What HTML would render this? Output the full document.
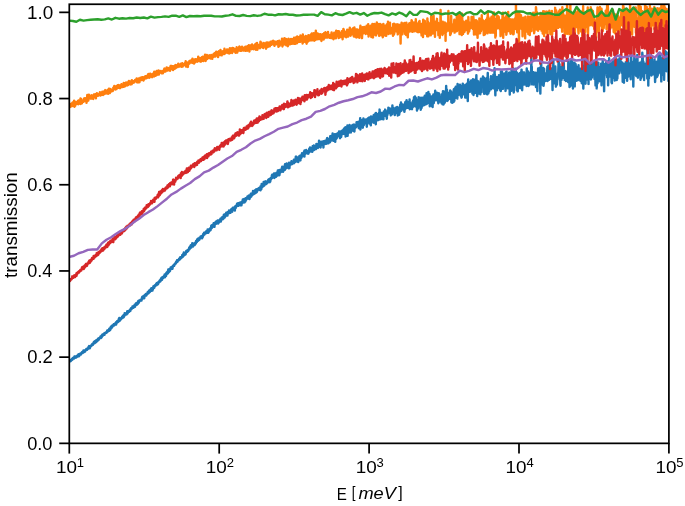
<!DOCTYPE html>
<html><head><meta charset="utf-8"><style>
html,body{margin:0;padding:0;background:#fff;}
body{width:685px;height:506px;overflow:hidden;}
svg{display:block;}
text{font-family:"Liberation Sans",sans-serif;fill:#000;}
svg{will-change:transform;}
.tl{font-size:17.5px;}
.sup{font-size:12px;}
.lb{font-size:17.5px;}
</style></head><body>
<svg width="685" height="506" viewBox="0 0 685 506">
<rect width="685" height="506" fill="#fff"/>
<defs><clipPath id="ax"><rect x="69.3" y="4.25" width="599.6" height="439.1"/></clipPath></defs>
<g clip-path="url(#ax)" fill="none" stroke-width="2.43" stroke-linejoin="round" stroke-linecap="square">
<path d="M69.30 361.20 L69.50 361.26 L69.70 360.80 L69.90 360.31 L70.10 360.45 L70.30 360.01 L70.50 360.53 L70.70 361.18 L70.90 359.95 L71.10 359.75 L71.30 360.30 L71.50 360.10 L71.70 359.82 L71.90 359.07 L72.10 359.50 L72.30 359.81 L72.50 358.45 L72.70 358.86 L72.90 357.86 L73.10 358.11 L73.30 357.64 L73.50 358.50 L73.70 357.74 L73.90 358.55 L74.10 358.35 L74.30 358.01 L74.50 356.46 L74.70 357.54 L74.90 357.71 L75.10 357.68 L75.30 356.54 L75.50 357.06 L75.70 356.62 L75.90 356.59 L76.10 357.61 L76.30 356.33 L76.50 356.67 L76.70 357.10 L76.90 356.06 L77.10 356.22 L77.30 356.22 L77.50 356.06 L77.70 355.13 L77.90 355.80 L78.10 356.45 L78.30 354.52 L78.50 355.87 L78.70 355.28 L78.90 354.67 L79.10 356.17 L79.30 355.26 L79.50 353.90 L79.70 354.56 L79.90 354.73 L80.10 354.12 L80.30 354.52 L80.50 353.91 L80.70 354.23 L80.90 354.57 L81.10 353.10 L81.30 353.51 L81.50 352.95 L81.70 353.18 L81.90 352.21 L82.10 352.45 L82.30 352.54 L82.50 353.08 L82.70 353.09 L82.90 351.39 L83.10 351.58 L83.30 352.34 L83.50 350.53 L83.70 351.34 L83.90 351.42 L84.10 352.13 L84.29 351.62 L84.49 350.83 L84.69 350.65 L84.89 350.57 L85.09 351.55 L85.29 350.16 L85.49 350.08 L85.69 350.34 L85.89 349.89 L86.09 349.69 L86.29 348.95 L86.49 349.49 L86.69 349.06 L86.89 349.93 L87.09 349.45 L87.29 348.86 L87.49 349.14 L87.69 348.34 L87.89 349.07 L88.09 348.24 L88.29 348.46 L88.49 347.09 L88.69 347.98 L88.89 346.52 L89.09 346.13 L89.29 347.08 L89.49 346.54 L89.69 347.06 L89.89 348.23 L90.09 346.09 L90.29 346.06 L90.49 346.43 L90.69 346.44 L90.89 345.84 L91.09 345.66 L91.29 346.07 L91.49 345.78 L91.69 344.61 L91.89 345.05 L92.09 344.95 L92.29 344.07 L92.49 344.75 L92.69 343.85 L92.89 344.86 L93.09 344.18 L93.29 343.93 L93.49 343.31 L93.69 343.44 L93.89 342.03 L94.09 342.42 L94.29 343.22 L94.49 341.41 L94.69 343.17 L94.89 341.29 L95.09 342.75 L95.29 341.52 L95.49 342.40 L95.69 341.79 L95.89 340.52 L96.09 342.17 L96.29 342.11 L96.49 340.94 L96.69 340.62 L96.89 340.51 L97.09 339.79 L97.29 340.97 L97.49 339.71 L97.69 339.85 L97.89 339.18 L98.09 339.11 L98.29 338.49 L98.49 339.99 L98.69 338.87 L98.89 339.44 L99.09 338.62 L99.29 337.97 L99.49 338.04 L99.69 337.70 L99.89 337.90 L100.09 337.47 L100.29 337.34 L100.49 336.44 L100.69 336.65 L100.89 338.12 L101.09 336.38 L101.29 335.95 L101.49 336.71 L101.69 337.25 L101.89 335.15 L102.09 335.81 L102.29 335.35 L102.49 334.41 L102.69 335.91 L102.89 335.23 L103.09 335.12 L103.29 334.38 L103.49 335.02 L103.69 334.17 L103.89 334.27 L104.09 333.44 L104.29 333.19 L104.49 334.74 L104.69 333.31 L104.89 333.68 L105.09 333.28 L105.29 332.83 L105.49 332.60 L105.69 333.20 L105.89 332.39 L106.09 332.31 L106.29 332.25 L106.49 332.86 L106.69 332.35 L106.89 331.97 L107.09 331.14 L107.29 330.41 L107.49 331.82 L107.69 331.65 L107.89 330.72 L108.09 331.00 L108.29 330.99 L108.49 330.84 L108.69 330.73 L108.89 329.60 L109.09 330.77 L109.29 328.69 L109.49 329.96 L109.69 329.53 L109.89 329.61 L110.09 330.12 L110.29 329.66 L110.49 327.66 L110.69 327.10 L110.89 328.65 L111.09 327.20 L111.29 327.71 L111.49 328.11 L111.69 326.21 L111.89 325.70 L112.09 327.15 L112.29 326.82 L112.49 326.43 L112.69 326.44 L112.89 325.63 L113.09 324.99 L113.29 325.74 L113.49 324.99 L113.69 324.33 L113.89 325.64 L114.09 325.06 L114.28 325.20 L114.48 324.03 L114.68 324.08 L114.88 323.65 L115.08 323.54 L115.28 324.11 L115.48 323.23 L115.68 323.84 L115.88 323.64 L116.08 324.64 L116.28 322.04 L116.48 323.46 L116.68 322.58 L116.88 322.44 L117.08 321.24 L117.28 321.75 L117.48 322.41 L117.68 321.64 L117.88 321.56 L118.08 321.11 L118.28 321.94 L118.48 320.92 L118.68 319.18 L118.88 320.07 L119.08 318.97 L119.28 317.87 L119.48 319.61 L119.68 320.75 L119.88 319.64 L120.08 318.59 L120.28 318.56 L120.48 319.85 L120.68 318.97 L120.88 318.70 L121.08 318.44 L121.28 318.31 L121.48 318.67 L121.68 318.30 L121.88 317.87 L122.08 316.78 L122.28 317.71 L122.48 316.66 L122.68 317.75 L122.88 315.85 L123.08 316.48 L123.28 316.38 L123.48 315.24 L123.68 317.25 L123.88 316.87 L124.08 315.29 L124.28 316.00 L124.48 315.52 L124.68 313.17 L124.88 315.05 L125.08 314.63 L125.28 314.55 L125.48 313.52 L125.68 313.91 L125.88 313.79 L126.08 314.59 L126.28 313.78 L126.48 313.34 L126.68 314.27 L126.88 312.56 L127.08 312.49 L127.28 311.26 L127.48 313.54 L127.68 312.91 L127.88 312.69 L128.08 312.32 L128.28 311.72 L128.48 311.60 L128.68 311.07 L128.88 310.91 L129.08 310.91 L129.28 311.80 L129.48 310.90 L129.68 310.26 L129.88 309.69 L130.08 309.46 L130.28 310.92 L130.48 309.92 L130.68 309.40 L130.88 308.91 L131.08 308.15 L131.28 308.74 L131.48 309.24 L131.68 308.11 L131.88 308.05 L132.08 307.86 L132.28 307.92 L132.48 306.46 L132.68 307.28 L132.88 306.63 L133.08 307.73 L133.28 306.31 L133.48 307.13 L133.68 307.64 L133.88 306.08 L134.08 305.68 L134.28 306.08 L134.48 305.74 L134.68 304.81 L134.88 305.71 L135.08 306.69 L135.28 304.79 L135.48 304.64 L135.68 303.82 L135.88 304.66 L136.08 303.29 L136.28 303.20 L136.48 304.81 L136.68 302.97 L136.88 304.28 L137.08 304.43 L137.28 303.28 L137.48 303.32 L137.68 304.18 L137.88 302.37 L138.08 301.88 L138.28 301.11 L138.48 301.98 L138.68 302.88 L138.88 302.30 L139.08 300.66 L139.28 300.54 L139.48 300.61 L139.68 301.03 L139.88 300.46 L140.08 300.59 L140.28 300.46 L140.48 299.82 L140.68 299.83 L140.88 299.83 L141.08 299.42 L141.28 299.68 L141.48 300.54 L141.68 299.37 L141.88 298.77 L142.08 297.24 L142.28 298.65 L142.48 296.66 L142.68 296.89 L142.88 298.44 L143.08 298.14 L143.28 297.29 L143.48 295.90 L143.68 296.74 L143.88 296.32 L144.08 297.15 L144.27 298.21 L144.47 296.44 L144.67 295.48 L144.87 294.99 L145.07 295.67 L145.27 295.38 L145.47 294.44 L145.67 295.23 L145.87 294.06 L146.07 295.63 L146.27 295.40 L146.47 295.23 L146.67 293.83 L146.87 294.41 L147.07 293.71 L147.27 293.32 L147.47 293.17 L147.67 292.23 L147.87 291.92 L148.07 293.48 L148.27 292.52 L148.47 292.65 L148.67 293.07 L148.87 290.73 L149.07 291.28 L149.27 291.84 L149.47 291.82 L149.67 291.02 L149.87 291.94 L150.07 291.09 L150.27 289.78 L150.47 289.80 L150.67 290.98 L150.87 290.52 L151.07 288.45 L151.27 290.83 L151.47 290.04 L151.67 290.43 L151.87 288.87 L152.07 288.74 L152.27 287.89 L152.47 290.60 L152.67 288.25 L152.87 289.46 L153.07 287.48 L153.27 287.93 L153.47 286.27 L153.67 287.10 L153.87 288.00 L154.07 286.01 L154.27 287.67 L154.47 286.89 L154.67 285.58 L154.87 285.82 L155.07 285.65 L155.27 285.78 L155.47 285.19 L155.67 284.76 L155.87 284.98 L156.07 284.19 L156.27 283.78 L156.47 284.58 L156.67 285.13 L156.87 282.98 L157.07 284.02 L157.27 283.29 L157.47 282.82 L157.67 284.10 L157.87 282.78 L158.07 284.21 L158.27 282.16 L158.47 282.90 L158.67 282.20 L158.87 281.56 L159.07 282.45 L159.27 281.63 L159.47 282.04 L159.67 281.31 L159.87 280.25 L160.07 280.84 L160.27 280.76 L160.47 281.29 L160.67 279.55 L160.87 280.05 L161.07 278.46 L161.27 280.19 L161.47 278.56 L161.67 277.75 L161.87 278.96 L162.07 279.71 L162.27 277.33 L162.47 277.47 L162.67 277.54 L162.87 277.00 L163.07 278.02 L163.27 276.83 L163.47 276.68 L163.67 277.54 L163.87 276.21 L164.07 276.97 L164.27 275.59 L164.47 275.17 L164.67 274.43 L164.87 277.27 L165.07 275.24 L165.27 275.48 L165.47 275.03 L165.67 274.97 L165.87 274.65 L166.07 275.98 L166.27 273.30 L166.47 272.64 L166.67 272.87 L166.87 272.37 L167.07 273.89 L167.27 273.72 L167.47 272.01 L167.67 271.42 L167.87 272.06 L168.07 273.30 L168.27 269.54 L168.47 272.12 L168.67 270.55 L168.87 272.10 L169.07 270.09 L169.27 270.53 L169.47 269.27 L169.67 269.49 L169.87 271.26 L170.07 270.56 L170.27 269.30 L170.47 268.67 L170.67 267.58 L170.87 268.62 L171.07 268.70 L171.27 268.43 L171.47 268.19 L171.67 267.10 L171.87 267.76 L172.07 267.56 L172.27 268.47 L172.47 268.73 L172.67 266.80 L172.87 266.04 L173.07 266.41 L173.27 265.72 L173.47 265.38 L173.67 265.74 L173.87 264.67 L174.07 265.86 L174.26 265.03 L174.46 265.11 L174.66 264.51 L174.86 263.82 L175.06 263.41 L175.26 263.80 L175.46 263.31 L175.66 263.76 L175.86 263.33 L176.06 261.94 L176.26 262.95 L176.46 261.52 L176.66 261.92 L176.86 261.98 L177.06 260.22 L177.26 261.88 L177.46 261.71 L177.66 261.23 L177.86 260.78 L178.06 260.61 L178.26 259.87 L178.46 260.26 L178.66 259.80 L178.86 260.15 L179.06 258.80 L179.26 259.84 L179.46 259.54 L179.66 259.08 L179.86 258.60 L180.06 259.25 L180.26 257.10 L180.46 258.74 L180.66 258.33 L180.86 258.15 L181.06 258.02 L181.26 256.90 L181.46 257.03 L181.66 257.60 L181.86 257.20 L182.06 256.79 L182.26 255.06 L182.46 256.65 L182.66 256.99 L182.86 256.63 L183.06 255.73 L183.26 253.94 L183.46 255.93 L183.66 254.75 L183.86 252.42 L184.06 254.78 L184.26 252.91 L184.46 252.87 L184.66 253.24 L184.86 254.72 L185.06 253.05 L185.26 253.40 L185.46 254.50 L185.66 254.15 L185.86 252.43 L186.06 252.09 L186.26 250.96 L186.46 251.26 L186.66 252.04 L186.86 251.80 L187.06 251.33 L187.26 251.91 L187.46 250.12 L187.66 250.55 L187.86 251.04 L188.06 250.70 L188.26 250.92 L188.46 250.11 L188.66 249.26 L188.86 249.65 L189.06 248.21 L189.26 247.43 L189.46 249.22 L189.66 248.43 L189.86 248.55 L190.06 246.53 L190.26 247.52 L190.46 247.10 L190.66 246.65 L190.86 245.18 L191.06 246.71 L191.26 247.62 L191.46 246.95 L191.66 245.85 L191.86 246.17 L192.06 246.67 L192.26 243.26 L192.46 245.45 L192.66 245.86 L192.86 245.78 L193.06 246.50 L193.26 245.78 L193.46 244.83 L193.66 244.61 L193.86 244.85 L194.06 243.44 L194.26 243.69 L194.46 244.35 L194.66 245.12 L194.86 242.97 L195.06 242.87 L195.26 242.90 L195.46 243.75 L195.66 242.29 L195.86 243.47 L196.06 241.02 L196.26 241.54 L196.46 241.33 L196.66 242.05 L196.86 242.09 L197.06 239.53 L197.26 239.88 L197.46 240.84 L197.66 239.72 L197.86 238.73 L198.06 240.91 L198.26 240.21 L198.46 240.01 L198.66 238.92 L198.86 240.13 L199.06 238.75 L199.26 239.80 L199.46 237.74 L199.66 237.60 L199.86 238.40 L200.06 237.36 L200.26 238.45 L200.46 237.87 L200.66 236.57 L200.86 237.32 L201.06 236.73 L201.26 237.73 L201.46 236.09 L201.66 236.08 L201.86 237.44 L202.06 238.22 L202.26 237.81 L202.46 235.80 L202.66 235.75 L202.86 236.81 L203.06 235.06 L203.26 234.06 L203.46 234.91 L203.66 235.04 L203.86 233.64 L204.06 232.68 L204.25 232.69 L204.45 234.50 L204.65 232.97 L204.85 233.37 L205.05 233.52 L205.25 233.72 L205.45 232.63 L205.65 233.24 L205.85 231.73 L206.05 232.05 L206.25 231.24 L206.45 233.11 L206.65 231.82 L206.85 230.96 L207.05 231.15 L207.25 231.09 L207.45 231.79 L207.65 229.41 L207.85 229.76 L208.05 230.21 L208.25 232.83 L208.45 231.14 L208.65 229.93 L208.85 230.54 L209.05 231.66 L209.25 229.27 L209.45 228.96 L209.65 230.31 L209.85 229.44 L210.05 229.43 L210.25 228.11 L210.45 230.29 L210.65 229.90 L210.85 228.61 L211.05 228.55 L211.25 225.74 L211.45 228.15 L211.65 227.17 L211.85 227.60 L212.05 227.67 L212.25 226.49 L212.45 225.00 L212.65 226.83 L212.85 225.57 L213.05 225.80 L213.25 225.35 L213.45 225.43 L213.65 223.33 L213.85 226.61 L214.05 225.49 L214.25 226.15 L214.45 226.83 L214.65 224.74 L214.85 222.77 L215.05 223.48 L215.25 223.00 L215.45 223.52 L215.65 223.92 L215.85 221.69 L216.05 223.83 L216.25 221.83 L216.45 223.44 L216.65 222.86 L216.85 222.49 L217.05 222.55 L217.25 221.91 L217.45 221.67 L217.65 220.43 L217.85 221.90 L218.05 223.59 L218.25 223.55 L218.45 222.73 L218.65 221.94 L218.85 220.39 L219.05 222.33 L219.25 220.67 L219.45 220.48 L219.65 220.09 L219.85 220.30 L220.05 219.60 L220.25 219.78 L220.45 218.61 L220.65 219.15 L220.85 221.65 L221.05 219.12 L221.25 218.78 L221.45 219.39 L221.65 219.40 L221.85 217.39 L222.05 218.13 L222.25 219.10 L222.45 218.28 L222.65 217.96 L222.85 219.25 L223.05 216.82 L223.25 217.42 L223.45 216.64 L223.65 218.52 L223.85 214.84 L224.05 215.98 L224.25 215.96 L224.45 217.01 L224.65 216.79 L224.85 217.43 L225.05 214.22 L225.25 216.44 L225.45 215.20 L225.65 214.65 L225.85 215.73 L226.05 214.06 L226.25 212.70 L226.45 214.30 L226.65 212.96 L226.85 213.68 L227.05 214.57 L227.25 214.35 L227.45 215.51 L227.65 213.49 L227.85 211.93 L228.05 212.58 L228.25 212.24 L228.45 211.77 L228.65 213.33 L228.85 212.04 L229.05 210.47 L229.25 213.12 L229.45 212.10 L229.65 212.43 L229.85 212.01 L230.05 212.40 L230.25 211.61 L230.45 212.71 L230.65 211.69 L230.85 211.50 L231.05 211.35 L231.25 209.21 L231.45 210.42 L231.65 210.16 L231.85 210.49 L232.05 208.66 L232.25 211.69 L232.45 209.90 L232.65 208.33 L232.85 207.63 L233.05 209.00 L233.25 209.04 L233.45 208.21 L233.65 208.91 L233.85 207.96 L234.05 209.09 L234.24 207.55 L234.44 208.13 L234.64 209.06 L234.84 210.63 L235.04 206.59 L235.24 207.02 L235.44 206.45 L235.64 208.05 L235.84 205.79 L236.04 206.35 L236.24 206.68 L236.44 205.49 L236.64 205.35 L236.84 205.71 L237.04 203.77 L237.24 204.33 L237.44 205.30 L237.64 205.75 L237.84 205.22 L238.04 203.31 L238.24 204.59 L238.44 205.82 L238.64 205.39 L238.84 204.53 L239.04 203.48 L239.24 205.00 L239.44 203.50 L239.64 202.68 L239.84 202.93 L240.04 205.27 L240.24 203.75 L240.44 204.63 L240.64 202.65 L240.84 204.07 L241.04 202.19 L241.24 202.53 L241.44 205.33 L241.64 203.25 L241.84 201.67 L242.04 201.98 L242.24 202.28 L242.44 203.12 L242.64 201.05 L242.84 199.48 L243.04 200.97 L243.24 201.14 L243.44 201.09 L243.64 202.30 L243.84 201.01 L244.04 201.42 L244.24 199.09 L244.44 201.17 L244.64 202.41 L244.84 200.75 L245.04 200.00 L245.24 199.73 L245.44 201.44 L245.64 198.18 L245.84 198.96 L246.04 199.46 L246.24 199.63 L246.44 198.12 L246.64 198.82 L246.84 197.99 L247.04 198.29 L247.24 197.84 L247.44 196.52 L247.64 197.66 L247.84 198.54 L248.04 196.25 L248.24 196.93 L248.44 197.83 L248.64 195.66 L248.84 196.96 L249.04 195.35 L249.24 197.75 L249.44 198.97 L249.64 198.48 L249.84 195.71 L250.04 196.67 L250.24 195.79 L250.44 195.61 L250.64 197.15 L250.84 193.63 L251.04 196.26 L251.24 194.81 L251.44 196.37 L251.64 194.77 L251.84 193.60 L252.04 194.57 L252.24 194.95 L252.44 193.97 L252.64 194.35 L252.84 192.99 L253.04 190.91 L253.24 194.37 L253.44 193.97 L253.64 193.16 L253.84 192.90 L254.04 193.90 L254.24 191.96 L254.44 191.50 L254.64 191.96 L254.84 193.46 L255.04 190.20 L255.24 193.15 L255.44 190.78 L255.64 190.07 L255.84 192.76 L256.04 190.96 L256.24 189.34 L256.44 190.32 L256.64 191.72 L256.84 191.88 L257.04 189.76 L257.24 190.61 L257.44 190.82 L257.64 189.01 L257.84 190.06 L258.04 189.43 L258.24 188.65 L258.44 188.54 L258.64 189.07 L258.84 188.86 L259.04 187.96 L259.24 187.97 L259.44 189.70 L259.64 188.43 L259.84 189.10 L260.04 189.32 L260.24 188.40 L260.44 190.32 L260.64 186.32 L260.84 188.18 L261.04 186.62 L261.24 189.15 L261.44 188.80 L261.64 184.08 L261.84 185.14 L262.04 187.01 L262.24 187.00 L262.44 186.77 L262.64 185.59 L262.84 186.08 L263.04 186.16 L263.24 185.08 L263.44 186.30 L263.64 182.00 L263.84 185.47 L264.04 183.20 L264.23 185.55 L264.43 183.88 L264.63 182.88 L264.83 184.31 L265.03 182.51 L265.23 182.34 L265.43 181.34 L265.63 183.12 L265.83 183.62 L266.03 184.12 L266.23 182.47 L266.43 183.82 L266.63 182.34 L266.83 182.03 L267.03 182.71 L267.23 183.16 L267.43 181.20 L267.63 181.16 L267.83 181.09 L268.03 181.24 L268.23 179.80 L268.43 182.12 L268.63 180.11 L268.83 181.06 L269.03 179.22 L269.23 180.59 L269.43 180.46 L269.63 179.24 L269.83 182.25 L270.03 179.94 L270.23 181.60 L270.43 180.37 L270.63 178.09 L270.83 178.29 L271.03 179.19 L271.23 178.53 L271.43 178.35 L271.63 177.74 L271.83 175.58 L272.03 177.49 L272.23 174.71 L272.43 177.95 L272.63 176.34 L272.83 176.19 L273.03 176.68 L273.23 177.16 L273.43 174.74 L273.63 174.16 L273.83 174.90 L274.03 173.44 L274.23 174.70 L274.43 177.94 L274.63 174.26 L274.83 176.37 L275.03 173.51 L275.23 175.58 L275.43 174.59 L275.63 174.78 L275.83 175.46 L276.03 176.90 L276.23 174.65 L276.43 174.39 L276.63 172.76 L276.83 174.70 L277.03 173.42 L277.23 174.72 L277.43 173.38 L277.63 175.64 L277.83 170.44 L278.03 172.57 L278.23 174.02 L278.43 172.19 L278.63 171.44 L278.83 172.00 L279.03 170.33 L279.23 172.22 L279.43 175.24 L279.63 173.32 L279.83 170.08 L280.03 170.25 L280.23 170.74 L280.43 172.52 L280.63 169.86 L280.83 169.89 L281.03 171.91 L281.23 171.73 L281.43 169.87 L281.63 168.69 L281.83 167.94 L282.03 168.96 L282.23 166.69 L282.43 170.67 L282.63 168.61 L282.83 170.00 L283.03 171.79 L283.23 170.67 L283.43 167.28 L283.63 169.95 L283.83 170.21 L284.03 167.40 L284.23 166.96 L284.43 167.99 L284.63 165.75 L284.83 169.92 L285.03 164.32 L285.23 166.00 L285.43 167.03 L285.63 166.94 L285.83 167.35 L286.03 167.35 L286.23 166.52 L286.43 168.29 L286.63 163.49 L286.83 166.38 L287.03 165.22 L287.23 166.28 L287.43 166.26 L287.63 164.50 L287.83 164.74 L288.03 166.65 L288.23 165.87 L288.43 164.25 L288.63 168.01 L288.83 168.25 L289.03 162.69 L289.23 165.08 L289.43 168.12 L289.63 165.49 L289.83 164.54 L290.03 163.78 L290.23 163.15 L290.43 163.48 L290.63 162.85 L290.83 164.59 L291.03 162.79 L291.23 162.58 L291.43 161.33 L291.63 162.87 L291.83 161.49 L292.03 162.39 L292.23 164.04 L292.43 162.91 L292.63 162.97 L292.83 162.61 L293.03 162.04 L293.23 161.62 L293.43 161.22 L293.63 162.65 L293.83 159.79 L294.03 163.23 L294.22 161.16 L294.42 159.86 L294.62 160.11 L294.82 159.69 L295.02 160.79 L295.22 159.35 L295.42 161.97 L295.62 158.97 L295.82 156.61 L296.02 158.77 L296.22 156.72 L296.42 159.52 L296.62 161.03 L296.82 160.28 L297.02 157.17 L297.22 157.89 L297.42 161.57 L297.62 159.24 L297.82 158.63 L298.02 160.08 L298.22 162.05 L298.42 160.17 L298.62 158.28 L298.82 158.47 L299.02 158.73 L299.22 156.73 L299.42 155.92 L299.62 157.47 L299.82 155.81 L300.02 157.02 L300.22 157.12 L300.42 160.41 L300.62 155.40 L300.82 156.38 L301.02 156.17 L301.22 156.96 L301.42 157.76 L301.62 155.26 L301.82 154.61 L302.02 153.21 L302.22 154.18 L302.42 156.29 L302.62 155.40 L302.82 153.62 L303.02 154.48 L303.22 154.97 L303.42 155.56 L303.62 153.73 L303.82 154.12 L304.02 151.55 L304.22 152.45 L304.42 156.62 L304.62 150.55 L304.82 153.30 L305.02 154.04 L305.22 152.97 L305.42 152.16 L305.62 153.19 L305.82 153.15 L306.02 152.89 L306.22 149.93 L306.42 152.52 L306.62 151.27 L306.82 151.62 L307.02 152.71 L307.22 153.23 L307.42 153.50 L307.62 151.16 L307.82 153.28 L308.02 153.55 L308.22 153.36 L308.42 153.63 L308.62 151.06 L308.82 150.88 L309.02 152.34 L309.22 148.71 L309.42 151.10 L309.62 149.79 L309.82 149.91 L310.02 147.58 L310.22 148.81 L310.42 150.08 L310.62 151.42 L310.82 151.45 L311.02 149.60 L311.22 149.30 L311.42 148.13 L311.62 150.00 L311.82 148.82 L312.02 150.08 L312.22 151.81 L312.42 148.79 L312.62 146.28 L312.82 147.19 L313.02 146.09 L313.22 146.39 L313.42 150.35 L313.62 148.47 L313.82 145.48 L314.02 148.92 L314.22 149.79 L314.42 147.01 L314.62 146.37 L314.82 146.81 L315.02 147.71 L315.22 148.18 L315.42 148.95 L315.62 148.89 L315.82 148.73 L316.02 148.90 L316.22 147.62 L316.42 143.87 L316.62 146.08 L316.82 146.70 L317.02 145.42 L317.22 147.47 L317.42 145.23 L317.62 144.17 L317.82 148.02 L318.02 146.61 L318.22 145.75 L318.42 146.82 L318.62 146.94 L318.82 145.62 L319.02 140.80 L319.22 143.68 L319.42 143.94 L319.62 142.94 L319.82 144.83 L320.02 146.40 L320.22 143.46 L320.42 142.25 L320.62 147.51 L320.82 143.19 L321.02 141.76 L321.22 144.15 L321.42 144.37 L321.62 142.34 L321.82 144.79 L322.02 142.50 L322.22 141.65 L322.42 143.43 L322.62 144.35 L322.82 141.83 L323.02 143.39 L323.22 142.56 L323.42 147.48 L323.62 141.30 L323.82 144.81 L324.02 142.23 L324.21 142.00 L324.41 143.37 L324.61 143.57 L324.81 144.12 L325.01 142.39 L325.21 140.68 L325.41 140.69 L325.61 142.41 L325.81 142.44 L326.01 143.77 L326.21 141.96 L326.41 142.99 L326.61 143.69 L326.81 141.23 L327.01 138.24 L327.21 138.67 L327.41 138.12 L327.61 143.36 L327.81 138.96 L328.01 142.53 L328.21 141.30 L328.41 143.20 L328.61 141.85 L328.81 139.80 L329.01 139.53 L329.21 139.94 L329.41 140.00 L329.61 138.65 L329.81 139.44 L330.01 142.27 L330.21 136.27 L330.41 139.67 L330.61 137.50 L330.81 139.36 L331.01 140.43 L331.21 138.73 L331.41 140.12 L331.61 135.78 L331.81 140.54 L332.01 137.36 L332.21 139.47 L332.41 138.59 L332.61 133.49 L332.81 136.70 L333.01 138.37 L333.21 140.69 L333.41 138.30 L333.61 138.15 L333.81 135.01 L334.01 140.09 L334.21 140.68 L334.41 137.34 L334.61 136.79 L334.81 134.13 L335.01 138.61 L335.21 141.85 L335.41 138.11 L335.61 139.02 L335.81 137.60 L336.01 134.69 L336.21 138.87 L336.41 134.03 L336.61 135.81 L336.81 136.62 L337.01 137.64 L337.21 136.67 L337.41 136.52 L337.61 134.29 L337.81 133.20 L338.01 135.61 L338.21 134.07 L338.41 132.85 L338.61 132.82 L338.81 134.17 L339.01 131.52 L339.21 132.35 L339.41 131.71 L339.61 135.01 L339.81 135.33 L340.01 138.23 L340.21 131.53 L340.41 132.96 L340.61 135.86 L340.81 133.62 L341.01 133.31 L341.21 137.05 L341.41 133.07 L341.61 131.42 L341.81 131.00 L342.01 134.03 L342.21 133.87 L342.41 130.57 L342.61 131.19 L342.81 133.98 L343.01 133.96 L343.21 131.52 L343.41 133.83 L343.61 133.63 L343.81 129.00 L344.01 131.71 L344.21 133.00 L344.41 130.99 L344.61 127.87 L344.81 131.33 L345.01 133.22 L345.21 134.71 L345.41 127.32 L345.61 136.50 L345.81 129.15 L346.01 133.08 L346.21 133.51 L346.41 132.92 L346.61 131.19 L346.81 128.53 L347.01 131.90 L347.21 129.18 L347.41 125.54 L347.61 135.89 L347.81 131.63 L348.01 133.70 L348.21 128.24 L348.41 132.81 L348.61 132.94 L348.81 132.77 L349.01 129.56 L349.21 127.12 L349.41 129.03 L349.61 124.92 L349.81 125.80 L350.01 129.24 L350.21 126.99 L350.41 128.52 L350.61 128.52 L350.81 132.47 L351.01 131.11 L351.21 128.33 L351.41 130.73 L351.61 126.65 L351.81 127.43 L352.01 129.82 L352.21 125.41 L352.41 127.23 L352.61 125.03 L352.81 127.82 L353.01 130.76 L353.21 125.86 L353.41 127.73 L353.61 125.36 L353.81 124.74 L354.01 124.46 L354.20 129.81 L354.40 131.55 L354.60 127.64 L354.80 125.10 L355.00 127.89 L355.20 125.68 L355.40 127.89 L355.60 126.75 L355.80 126.63 L356.00 127.20 L356.20 124.68 L356.40 124.94 L356.60 122.14 L356.80 124.66 L357.00 122.55 L357.20 125.08 L357.40 123.31 L357.60 125.40 L357.80 126.03 L358.00 122.06 L358.20 123.22 L358.40 122.86 L358.60 126.26 L358.80 128.16 L359.00 126.30 L359.20 123.71 L359.40 127.39 L359.60 121.10 L359.80 127.29 L360.00 122.70 L360.20 118.17 L360.40 129.43 L360.60 127.10 L360.80 121.54 L361.00 123.97 L361.20 123.07 L361.40 123.64 L361.60 120.22 L361.80 121.81 L362.00 124.15 L362.20 123.54 L362.40 125.51 L362.60 123.06 L362.80 127.78 L363.00 121.19 L363.20 123.17 L363.40 118.46 L363.60 119.78 L363.80 125.18 L364.00 120.26 L364.20 123.31 L364.40 121.96 L364.60 119.77 L364.80 121.17 L365.00 120.72 L365.20 120.69 L365.40 123.27 L365.60 122.97 L365.80 120.24 L366.00 119.44 L366.20 121.91 L366.40 121.00 L366.60 123.36 L366.80 126.79 L367.00 122.79 L367.20 120.80 L367.40 120.42 L367.60 118.84 L367.80 118.65 L368.00 118.35 L368.20 119.59 L368.40 119.43 L368.60 121.91 L368.80 119.33 L369.00 119.68 L369.20 117.36 L369.40 123.55 L369.60 120.98 L369.80 123.71 L370.00 121.45 L370.20 122.90 L370.40 118.98 L370.60 121.03 L370.80 125.35 L371.00 116.57 L371.20 121.81 L371.40 122.90 L371.60 119.97 L371.80 120.66 L372.00 121.73 L372.20 117.29 L372.40 119.65 L372.60 116.63 L372.80 116.99 L373.00 117.04 L373.20 118.06 L373.40 118.65 L373.60 119.28 L373.80 114.86 L374.00 122.67 L374.20 120.68 L374.40 119.60 L374.60 116.99 L374.80 117.54 L375.00 118.95 L375.20 118.56 L375.40 113.56 L375.60 119.18 L375.80 124.24 L376.00 112.91 L376.20 119.55 L376.40 118.00 L376.60 116.78 L376.80 120.23 L377.00 114.06 L377.20 117.20 L377.40 120.24 L377.60 116.18 L377.80 115.57 L378.00 116.78 L378.20 115.35 L378.40 120.09 L378.60 114.08 L378.80 118.31 L379.00 113.08 L379.20 117.67 L379.40 115.71 L379.60 109.59 L379.80 115.80 L380.00 113.13 L380.20 114.58 L380.40 119.38 L380.60 112.77 L380.80 112.83 L381.00 118.93 L381.20 115.59 L381.40 119.04 L381.60 115.96 L381.80 112.89 L382.00 114.84 L382.20 118.00 L382.40 117.21 L382.60 114.79 L382.80 114.84 L383.00 114.36 L383.20 113.12 L383.40 119.36 L383.60 114.45 L383.80 111.50 L384.00 113.08 L384.19 116.05 L384.39 115.77 L384.59 113.72 L384.79 112.30 L384.99 113.99 L385.19 109.59 L385.39 110.46 L385.59 115.77 L385.79 112.42 L385.99 114.54 L386.19 116.65 L386.39 115.11 L386.59 113.42 L386.79 118.80 L386.99 114.96 L387.19 112.24 L387.39 114.99 L387.59 114.08 L387.79 110.72 L387.99 113.08 L388.19 112.38 L388.39 107.60 L388.59 112.23 L388.79 111.87 L388.99 111.39 L389.19 108.14 L389.39 111.47 L389.59 112.23 L389.79 112.54 L389.99 109.19 L390.19 113.81 L390.39 108.83 L390.59 111.40 L390.79 115.41 L390.99 110.01 L391.19 110.42 L391.39 114.60 L391.59 110.63 L391.79 110.79 L391.99 112.12 L392.19 114.29 L392.39 105.43 L392.59 109.08 L392.79 108.52 L392.99 108.24 L393.19 108.79 L393.39 108.77 L393.59 111.80 L393.79 108.49 L393.99 111.18 L394.19 111.88 L394.39 108.71 L394.59 111.00 L394.79 115.08 L394.99 111.40 L395.19 108.69 L395.39 110.20 L395.59 107.78 L395.79 110.99 L395.99 112.56 L396.19 107.84 L396.39 109.46 L396.59 113.07 L396.79 108.52 L396.99 110.36 L397.19 106.91 L397.39 107.42 L397.59 108.20 L397.79 115.55 L397.99 108.38 L398.19 107.98 L398.39 107.81 L398.59 108.84 L398.79 111.05 L398.99 109.69 L399.19 114.81 L399.39 109.63 L399.59 113.00 L399.79 109.67 L399.99 110.52 L400.19 104.72 L400.39 108.34 L400.59 108.43 L400.79 107.88 L400.99 102.43 L401.19 110.91 L401.39 107.26 L401.59 107.05 L401.79 107.50 L401.99 107.51 L402.19 109.25 L402.39 104.40 L402.59 105.30 L402.79 108.72 L402.99 108.24 L403.19 106.67 L403.39 106.04 L403.59 105.22 L403.79 107.38 L403.99 110.89 L404.19 104.36 L404.39 111.76 L404.59 109.73 L404.79 105.90 L404.99 109.43 L405.19 102.81 L405.39 101.97 L405.59 103.18 L405.79 105.68 L405.99 105.86 L406.19 105.24 L406.39 106.98 L406.59 100.33 L406.79 108.01 L406.99 102.29 L407.19 104.46 L407.39 105.13 L407.59 102.86 L407.79 102.15 L407.99 103.16 L408.19 106.06 L408.39 107.79 L408.59 107.65 L408.79 102.91 L408.99 103.45 L409.19 103.00 L409.39 107.05 L409.59 99.49 L409.79 109.31 L409.99 104.04 L410.19 103.06 L410.39 106.40 L410.59 108.45 L410.79 106.29 L410.99 108.39 L411.19 105.53 L411.39 108.81 L411.59 108.80 L411.79 104.62 L411.99 109.28 L412.19 105.30 L412.39 105.00 L412.59 101.82 L412.79 103.71 L412.99 106.95 L413.19 100.40 L413.39 106.44 L413.59 105.44 L413.79 105.16 L413.99 97.33 L414.18 103.84 L414.38 106.13 L414.58 101.65 L414.78 104.26 L414.98 96.43 L415.18 105.97 L415.38 101.70 L415.58 106.49 L415.78 97.83 L415.98 105.81 L416.18 102.79 L416.38 106.06 L416.58 100.47 L416.78 101.39 L416.98 110.48 L417.18 100.58 L417.38 100.92 L417.58 102.24 L417.78 99.77 L417.98 106.84 L418.18 108.52 L418.38 100.61 L418.58 97.23 L418.78 106.57 L418.98 106.31 L419.18 105.33 L419.38 106.36 L419.58 99.70 L419.78 101.92 L419.98 97.88 L420.18 97.71 L420.38 105.53 L420.58 100.03 L420.78 109.71 L420.98 102.38 L421.18 99.95 L421.38 104.66 L421.58 107.94 L421.78 103.52 L421.98 97.79 L422.18 103.03 L422.38 106.33 L422.58 100.03 L422.78 99.03 L422.98 104.98 L423.18 101.98 L423.38 97.74 L423.58 100.12 L423.78 98.79 L423.98 102.29 L424.18 101.60 L424.38 105.08 L424.58 103.53 L424.78 95.74 L424.98 102.40 L425.18 104.02 L425.38 102.46 L425.58 104.38 L425.78 98.91 L425.98 97.47 L426.18 103.89 L426.38 96.96 L426.58 93.12 L426.78 104.07 L426.98 97.96 L427.18 99.35 L427.38 95.50 L427.58 95.69 L427.78 96.22 L427.98 98.94 L428.18 101.44 L428.38 92.04 L428.58 102.68 L428.78 95.83 L428.98 96.18 L429.18 102.27 L429.38 99.56 L429.58 94.33 L429.78 106.25 L429.98 96.61 L430.18 100.49 L430.38 100.27 L430.58 104.53 L430.78 97.82 L430.98 103.00 L431.18 96.68 L431.38 103.31 L431.58 96.49 L431.78 97.88 L431.98 105.96 L432.18 100.22 L432.38 99.42 L432.58 107.09 L432.78 100.22 L432.98 95.89 L433.18 101.48 L433.38 94.44 L433.58 102.82 L433.78 103.06 L433.98 96.49 L434.18 96.23 L434.38 99.13 L434.58 98.48 L434.78 94.77 L434.98 100.42 L435.18 90.72 L435.38 96.61 L435.58 96.66 L435.78 97.09 L435.98 99.20 L436.18 93.42 L436.38 100.14 L436.58 97.22 L436.78 95.40 L436.98 92.65 L437.18 93.28 L437.38 99.03 L437.58 93.98 L437.78 97.80 L437.98 101.52 L438.18 101.36 L438.38 103.32 L438.58 96.22 L438.78 93.16 L438.98 101.12 L439.18 98.36 L439.38 101.42 L439.58 97.11 L439.78 101.60 L439.98 100.21 L440.18 99.66 L440.38 98.79 L440.58 98.33 L440.78 97.64 L440.98 97.56 L441.18 100.47 L441.38 94.59 L441.58 103.28 L441.78 96.05 L441.98 100.26 L442.18 96.01 L442.38 95.34 L442.58 104.22 L442.78 94.98 L442.98 91.11 L443.18 93.27 L443.38 94.78 L443.58 104.50 L443.78 96.74 L443.98 99.58 L444.17 91.83 L444.37 97.16 L444.57 98.38 L444.77 102.85 L444.97 92.81 L445.17 97.96 L445.37 96.70 L445.57 91.34 L445.77 95.30 L445.97 94.27 L446.17 85.92 L446.37 97.63 L446.57 97.34 L446.77 93.34 L446.97 89.65 L447.17 100.98 L447.37 96.02 L447.57 99.01 L447.77 100.56 L447.97 92.67 L448.17 98.03 L448.37 93.69 L448.57 94.36 L448.77 94.21 L448.97 94.50 L449.17 99.00 L449.37 94.91 L449.57 93.72 L449.77 93.16 L449.97 95.63 L450.17 90.51 L450.37 92.06 L450.57 93.86 L450.77 91.69 L450.97 93.47 L451.17 91.39 L451.37 102.12 L451.57 99.29 L451.77 95.60 L451.97 93.46 L452.17 102.71 L452.37 94.92 L452.57 93.16 L452.77 94.73 L452.97 94.68 L453.17 99.23 L453.37 93.22 L453.57 102.01 L453.77 89.50 L453.97 96.04 L454.17 88.88 L454.37 100.64 L454.57 91.58 L454.77 92.67 L454.97 96.74 L455.17 98.08 L455.37 88.06 L455.57 91.23 L455.77 86.74 L455.97 93.15 L456.17 92.09 L456.37 90.98 L456.57 89.51 L456.77 90.71 L456.97 89.12 L457.17 94.48 L457.37 98.63 L457.57 83.90 L457.77 91.57 L457.97 90.22 L458.17 94.05 L458.37 87.83 L458.57 91.21 L458.77 87.33 L458.97 94.71 L459.17 92.09 L459.37 90.91 L459.57 93.13 L459.77 90.42 L459.97 84.73 L460.17 93.93 L460.37 92.55 L460.57 90.58 L460.77 95.44 L460.97 96.40 L461.17 86.33 L461.37 87.61 L461.57 97.66 L461.77 97.04 L461.97 87.60 L462.17 85.61 L462.37 87.91 L462.57 88.45 L462.77 83.65 L462.97 90.64 L463.17 84.84 L463.37 85.07 L463.57 94.33 L463.77 87.25 L463.97 89.87 L464.17 92.89 L464.37 93.64 L464.57 88.51 L464.77 90.13 L464.97 86.22 L465.17 97.53 L465.37 92.62 L465.57 84.79 L465.77 89.63 L465.97 92.72 L466.17 91.62 L466.37 97.56 L466.57 95.47 L466.77 86.89 L466.97 88.83 L467.17 83.45 L467.37 90.22 L467.57 89.72 L467.77 101.08 L467.97 89.35 L468.17 79.46 L468.37 85.77 L468.57 89.23 L468.77 83.01 L468.97 84.69 L469.17 86.88 L469.37 90.01 L469.57 87.66 L469.77 84.32 L469.97 91.85 L470.17 85.77 L470.37 85.89 L470.57 81.83 L470.77 84.46 L470.97 90.94 L471.17 80.54 L471.37 87.52 L471.57 91.06 L471.77 86.00 L471.97 88.76 L472.17 82.49 L472.37 93.55 L472.57 92.53 L472.77 88.51 L472.97 79.30 L473.17 82.50 L473.37 91.74 L473.57 95.08 L473.77 88.50 L473.97 92.83 L474.16 84.20 L474.36 86.08 L474.56 86.90 L474.76 88.80 L474.96 79.69 L475.16 91.10 L475.36 92.82 L475.56 81.27 L475.76 80.25 L475.96 88.14 L476.16 83.40 L476.36 75.32 L476.56 90.13 L476.76 87.02 L476.96 84.01 L477.16 96.10 L477.36 86.79 L477.56 82.54 L477.76 86.51 L477.96 81.09 L478.16 82.34 L478.36 87.71 L478.56 83.22 L478.76 83.66 L478.96 93.64 L479.16 89.77 L479.36 89.45 L479.56 88.11 L479.76 87.85 L479.96 92.44 L480.16 85.37 L480.36 94.26 L480.56 80.84 L480.76 84.11 L480.96 78.70 L481.16 83.60 L481.36 87.68 L481.56 92.11 L481.76 81.93 L481.96 85.09 L482.16 83.30 L482.36 81.42 L482.56 79.21 L482.76 85.19 L482.96 76.49 L483.16 85.34 L483.36 84.87 L483.56 81.54 L483.76 79.78 L483.96 77.92 L484.16 93.68 L484.36 78.03 L484.56 92.09 L484.76 87.39 L484.96 82.65 L485.16 78.74 L485.36 89.44 L485.56 92.76 L485.76 79.69 L485.96 82.76 L486.16 89.34 L486.36 85.79 L486.56 93.93 L486.76 81.26 L486.96 86.69 L487.16 77.82 L487.36 94.28 L487.56 80.30 L487.76 72.95 L487.96 83.20 L488.16 83.09 L488.36 93.24 L488.56 82.02 L488.76 83.60 L488.96 86.58 L489.16 91.49 L489.36 83.24 L489.56 88.70 L489.76 86.06 L489.96 81.96 L490.16 83.79 L490.36 83.50 L490.56 78.73 L490.76 89.38 L490.96 76.29 L491.16 89.10 L491.36 87.98 L491.56 82.67 L491.76 79.24 L491.96 81.92 L492.16 85.42 L492.36 86.75 L492.56 84.41 L492.76 87.95 L492.96 80.05 L493.16 84.04 L493.36 74.84 L493.56 86.66 L493.76 83.52 L493.96 80.58 L494.16 88.59 L494.36 86.16 L494.56 68.20 L494.76 82.77 L494.96 75.07 L495.16 87.96 L495.36 95.23 L495.56 79.76 L495.76 82.77 L495.96 81.06 L496.16 84.13 L496.36 85.61 L496.56 88.90 L496.76 77.11 L496.96 90.32 L497.16 77.33 L497.36 83.55 L497.56 88.10 L497.76 85.76 L497.96 77.14 L498.16 78.33 L498.36 79.54 L498.56 81.65 L498.76 87.87 L498.96 75.10 L499.16 84.26 L499.36 84.98 L499.56 84.68 L499.76 84.17 L499.96 89.67 L500.16 84.23 L500.36 86.14 L500.56 84.57 L500.76 91.02 L500.96 71.51 L501.16 88.28 L501.36 80.09 L501.56 79.96 L501.76 76.27 L501.96 71.47 L502.16 79.32 L502.36 77.67 L502.56 83.92 L502.76 73.42 L502.96 88.86 L503.16 82.65 L503.36 79.84 L503.56 77.34 L503.76 76.90 L503.96 75.02 L504.15 78.13 L504.35 81.05 L504.55 80.04 L504.75 73.35 L504.95 79.50 L505.15 76.09 L505.35 81.74 L505.55 90.91 L505.75 84.19 L505.95 79.09 L506.15 71.96 L506.35 73.06 L506.55 71.55 L506.75 84.62 L506.95 76.49 L507.15 80.96 L507.35 77.20 L507.55 81.06 L507.75 88.19 L507.95 76.76 L508.15 78.61 L508.35 76.04 L508.55 85.22 L508.75 74.77 L508.95 74.15 L509.15 72.72 L509.35 72.57 L509.55 82.89 L509.75 94.43 L509.95 74.75 L510.15 85.47 L510.35 81.58 L510.55 74.06 L510.75 78.61 L510.95 78.82 L511.15 76.25 L511.35 90.79 L511.55 69.44 L511.75 82.14 L511.95 81.84 L512.15 76.73 L512.35 80.78 L512.55 84.82 L512.75 80.75 L512.95 82.21 L513.15 83.73 L513.35 68.42 L513.55 88.10 L513.75 92.59 L513.95 85.27 L514.15 85.44 L514.35 71.77 L514.55 79.02 L514.75 75.07 L514.95 76.32 L515.15 85.09 L515.35 75.04 L515.55 78.83 L515.75 68.71 L515.95 78.63 L516.15 80.02 L516.35 75.47 L516.55 75.36 L516.75 90.21 L516.95 72.51 L517.15 73.39 L517.35 74.74 L517.55 86.22 L517.75 91.39 L517.95 81.22 L518.15 75.17 L518.35 76.81 L518.55 85.38 L518.75 73.97 L518.95 87.59 L519.15 87.36 L519.35 79.57 L519.55 82.88 L519.75 83.46 L519.95 88.11 L520.15 72.98 L520.35 85.91 L520.55 76.86 L520.75 74.56 L520.95 79.59 L521.15 77.73 L521.35 73.21 L521.55 69.65 L521.75 73.43 L521.95 87.33 L522.15 90.28 L522.35 82.63 L522.55 85.72 L522.75 75.79 L522.95 78.33 L523.15 80.41 L523.35 72.44 L523.55 72.95 L523.75 79.26 L523.95 76.81 L524.15 72.45 L524.35 80.89 L524.55 77.08 L524.75 84.55 L524.95 78.54 L525.15 76.79 L525.35 79.27 L525.55 77.50 L525.75 74.58 L525.95 76.11 L526.15 82.82 L526.35 82.20 L526.55 85.92 L526.75 68.47 L526.95 76.05 L527.15 75.90 L527.35 79.31 L527.55 75.64 L527.75 75.25 L527.95 82.82 L528.15 79.26 L528.35 71.36 L528.55 85.99 L528.75 83.99 L528.95 74.76 L529.15 82.98 L529.35 73.76 L529.55 84.66 L529.75 76.75 L529.95 73.29 L530.15 75.79 L530.35 73.46 L530.55 79.06 L530.75 78.94 L530.95 78.10 L531.15 74.59 L531.35 56.30 L531.55 78.36 L531.75 66.62 L531.95 79.20 L532.15 84.39 L532.35 79.32 L532.55 75.39 L532.75 76.60 L532.95 76.85 L533.15 74.36 L533.35 74.13 L533.55 72.10 L533.75 84.54 L533.95 77.40 L534.14 83.12 L534.34 75.97 L534.54 77.84 L534.74 76.38 L534.94 80.10 L535.14 82.22 L535.34 78.72 L535.54 73.29 L535.74 72.63 L535.94 87.04 L536.14 75.53 L536.34 75.44 L536.54 85.81 L536.74 83.55 L536.94 80.24 L537.14 74.68 L537.34 90.97 L537.54 79.32 L537.74 80.21 L537.94 75.92 L538.14 68.51 L538.34 68.96 L538.54 79.27 L538.74 79.15 L538.94 75.37 L539.14 69.80 L539.34 68.17 L539.54 74.76 L539.74 68.02 L539.94 81.99 L540.14 83.48 L540.34 93.42 L540.54 81.79 L540.74 73.00 L540.94 71.31 L541.14 55.91 L541.34 72.90 L541.54 75.36 L541.74 82.16 L541.94 80.00 L542.14 79.84 L542.34 77.57 L542.54 80.22 L542.74 84.88 L542.94 69.86 L543.14 73.45 L543.34 67.86 L543.54 85.80 L543.74 83.85 L543.94 80.57 L544.14 68.88 L544.34 77.05 L544.54 74.58 L544.74 76.44 L544.94 74.80 L545.14 79.02 L545.34 73.51 L545.54 80.97 L545.74 77.27 L545.94 74.04 L546.14 75.10 L546.34 73.10 L546.54 80.59 L546.74 74.06 L546.94 77.43 L547.14 73.28 L547.34 66.69 L547.54 81.02 L547.74 69.20 L547.94 79.61 L548.14 78.02 L548.34 65.52 L548.54 69.77 L548.74 72.33 L548.94 70.46 L549.14 68.26 L549.34 79.80 L549.54 73.88 L549.74 77.62 L549.94 72.68 L550.14 77.09 L550.34 70.70 L550.54 75.04 L550.74 78.69 L550.94 75.43 L551.14 72.38 L551.34 68.55 L551.54 76.10 L551.74 77.15 L551.94 73.48 L552.14 70.37 L552.34 78.28 L552.54 89.97 L552.74 73.13 L552.94 76.97 L553.14 77.20 L553.34 59.37 L553.54 75.62 L553.74 70.58 L553.94 83.22 L554.14 73.28 L554.34 70.09 L554.54 73.45 L554.74 75.77 L554.94 71.35 L555.14 74.40 L555.34 66.49 L555.54 73.32 L555.74 79.38 L555.94 86.60 L556.14 78.93 L556.34 76.27 L556.54 81.79 L556.74 80.78 L556.94 84.69 L557.14 81.14 L557.34 73.83 L557.54 76.10 L557.74 75.61 L557.94 76.34 L558.14 75.71 L558.34 69.72 L558.54 61.66 L558.74 70.36 L558.94 62.10 L559.14 74.84 L559.34 74.44 L559.54 64.19 L559.74 78.59 L559.94 79.67 L560.14 74.96 L560.34 84.54 L560.54 85.78 L560.74 66.98 L560.94 80.66 L561.14 77.01 L561.34 76.86 L561.54 80.01 L561.74 69.89 L561.94 70.66 L562.14 69.21 L562.34 69.64 L562.54 73.65 L562.74 65.35 L562.94 67.83 L563.14 77.76 L563.34 73.78 L563.54 76.55 L563.74 62.62 L563.94 69.38 L564.13 70.77 L564.33 74.37 L564.53 70.57 L564.73 79.88 L564.93 73.79 L565.13 74.24 L565.33 74.21 L565.53 78.47 L565.73 71.22 L565.93 81.00 L566.13 76.93 L566.33 75.04 L566.53 74.34 L566.73 77.28 L566.93 80.32 L567.13 79.88 L567.33 76.37 L567.53 79.45 L567.73 74.77 L567.93 81.75 L568.13 73.86 L568.33 61.22 L568.53 82.26 L568.73 74.67 L568.93 66.77 L569.13 72.76 L569.33 68.53 L569.53 86.94 L569.73 77.04 L569.93 64.27 L570.13 77.33 L570.33 71.48 L570.53 85.79 L570.73 67.42 L570.93 60.02 L571.13 74.32 L571.33 71.75 L571.53 71.32 L571.73 60.64 L571.93 76.53 L572.13 84.24 L572.33 62.04 L572.53 81.12 L572.73 70.33 L572.93 88.41 L573.13 76.54 L573.33 72.67 L573.53 80.68 L573.73 77.08 L573.93 70.13 L574.13 78.21 L574.33 70.62 L574.53 62.67 L574.73 86.40 L574.93 71.59 L575.13 69.97 L575.33 75.85 L575.53 64.04 L575.73 65.31 L575.93 70.61 L576.13 70.47 L576.33 74.15 L576.53 80.68 L576.73 70.73 L576.93 76.74 L577.13 77.41 L577.33 66.89 L577.53 75.07 L577.73 67.75 L577.93 80.26 L578.13 76.45 L578.33 73.70 L578.53 65.22 L578.73 74.30 L578.93 68.77 L579.13 77.96 L579.33 72.80 L579.53 68.45 L579.73 79.31 L579.93 78.02 L580.13 69.78 L580.33 80.75 L580.53 71.60 L580.73 71.52 L580.93 74.21 L581.13 68.71 L581.33 70.64 L581.53 72.39 L581.73 82.97 L581.93 82.77 L582.13 71.72 L582.33 83.44 L582.53 73.04 L582.73 75.69 L582.93 78.83 L583.13 75.10 L583.33 88.42 L583.53 74.76 L583.73 65.68 L583.93 81.40 L584.13 70.58 L584.33 71.24 L584.53 54.31 L584.73 79.42 L584.93 78.25 L585.13 78.11 L585.33 79.22 L585.53 83.69 L585.73 72.73 L585.93 78.91 L586.13 68.29 L586.33 70.73 L586.53 79.60 L586.73 75.38 L586.93 64.48 L587.13 75.15 L587.33 71.70 L587.53 67.66 L587.73 75.55 L587.93 70.23 L588.13 62.84 L588.33 65.71 L588.53 83.91 L588.73 63.11 L588.93 74.08 L589.13 76.51 L589.33 76.67 L589.53 64.84 L589.73 70.54 L589.93 73.45 L590.13 77.60 L590.33 68.42 L590.53 65.11 L590.73 78.82 L590.93 79.44 L591.13 74.76 L591.33 68.52 L591.53 74.94 L591.73 73.03 L591.93 77.63 L592.13 64.35 L592.33 73.00 L592.53 71.23 L592.73 65.16 L592.93 73.56 L593.13 72.39 L593.33 69.53 L593.53 74.63 L593.73 63.06 L593.93 71.72 L594.12 74.79 L594.32 73.82 L594.52 78.85 L594.72 64.31 L594.92 62.33 L595.12 73.44 L595.32 74.79 L595.52 85.39 L595.72 75.77 L595.92 66.23 L596.12 76.93 L596.32 66.36 L596.52 62.25 L596.72 88.38 L596.92 73.77 L597.12 76.23 L597.32 75.24 L597.52 83.20 L597.72 73.41 L597.92 79.36 L598.12 64.96 L598.32 62.60 L598.52 80.63 L598.72 80.91 L598.92 74.71 L599.12 72.87 L599.32 72.46 L599.52 66.96 L599.72 81.21 L599.92 75.55 L600.12 74.54 L600.32 73.69 L600.52 77.98 L600.72 74.47 L600.92 75.99 L601.12 63.67 L601.32 74.44 L601.52 85.20 L601.72 67.78 L601.92 70.26 L602.12 76.81 L602.32 77.21 L602.52 75.04 L602.72 60.59 L602.92 74.21 L603.12 63.33 L603.32 65.62 L603.52 74.45 L603.72 68.99 L603.92 76.09 L604.12 91.16 L604.32 75.85 L604.52 75.48 L604.72 65.01 L604.92 66.62 L605.12 63.88 L605.32 67.29 L605.52 63.66 L605.72 66.43 L605.92 69.33 L606.12 64.19 L606.32 61.46 L606.52 61.82 L606.72 73.54 L606.92 70.98 L607.12 77.21 L607.32 77.32 L607.52 68.33 L607.72 74.86 L607.92 61.17 L608.12 85.29 L608.32 78.23 L608.52 69.06 L608.72 62.90 L608.92 72.89 L609.12 58.27 L609.32 65.34 L609.52 75.24 L609.72 70.86 L609.92 67.16 L610.12 76.51 L610.32 63.57 L610.52 72.15 L610.72 67.05 L610.92 64.76 L611.12 73.27 L611.32 63.78 L611.52 82.61 L611.72 66.40 L611.92 83.16 L612.12 63.05 L612.32 74.11 L612.52 62.33 L612.72 61.39 L612.92 71.16 L613.12 74.52 L613.32 61.77 L613.52 77.80 L613.72 64.85 L613.92 70.90 L614.12 72.51 L614.32 73.90 L614.52 58.25 L614.72 80.56 L614.92 73.64 L615.12 67.17 L615.32 63.23 L615.52 58.83 L615.72 60.99 L615.92 73.46 L616.12 67.64 L616.32 62.45 L616.52 66.39 L616.72 80.08 L616.92 67.65 L617.12 65.97 L617.32 78.64 L617.52 72.80 L617.72 70.04 L617.92 65.75 L618.12 59.53 L618.32 62.02 L618.52 66.54 L618.72 68.24 L618.92 72.00 L619.12 73.27 L619.32 71.10 L619.52 71.07 L619.72 62.98 L619.92 55.41 L620.12 66.15 L620.32 63.28 L620.52 65.25 L620.72 67.72 L620.92 61.32 L621.12 62.18 L621.32 68.82 L621.52 70.23 L621.72 65.13 L621.92 72.73 L622.12 67.98 L622.32 62.68 L622.52 69.67 L622.72 81.81 L622.92 64.91 L623.12 77.06 L623.32 78.44 L623.52 79.23 L623.72 63.87 L623.92 82.62 L624.11 70.05 L624.31 67.59 L624.51 67.73 L624.71 73.22 L624.91 69.56 L625.11 68.04 L625.31 77.70 L625.51 64.39 L625.71 62.25 L625.91 74.41 L626.11 73.81 L626.31 76.38 L626.51 62.00 L626.71 76.27 L626.91 72.28 L627.11 80.77 L627.31 60.77 L627.51 70.49 L627.71 67.18 L627.91 58.45 L628.11 64.25 L628.31 76.48 L628.51 65.85 L628.71 64.15 L628.91 74.72 L629.11 75.51 L629.31 75.49 L629.51 63.64 L629.71 68.50 L629.91 75.74 L630.11 64.49 L630.31 63.85 L630.51 74.36 L630.71 79.24 L630.91 61.12 L631.11 51.46 L631.31 59.10 L631.51 62.01 L631.71 67.84 L631.91 72.86 L632.11 67.75 L632.31 64.03 L632.51 69.73 L632.71 62.26 L632.91 68.36 L633.11 64.37 L633.31 86.58 L633.51 74.10 L633.71 63.03 L633.91 61.93 L634.11 65.66 L634.31 57.56 L634.51 63.68 L634.71 63.61 L634.91 74.47 L635.11 65.67 L635.31 63.22 L635.51 59.51 L635.71 60.60 L635.91 68.04 L636.11 67.02 L636.31 76.07 L636.51 64.22 L636.71 75.55 L636.91 70.15 L637.11 68.37 L637.31 54.89 L637.51 59.70 L637.71 73.36 L637.91 77.76 L638.11 69.73 L638.31 73.47 L638.51 65.57 L638.71 65.80 L638.91 63.83 L639.11 74.85 L639.31 70.58 L639.51 66.68 L639.71 66.03 L639.91 71.99 L640.11 70.40 L640.31 62.59 L640.51 79.79 L640.71 69.92 L640.91 68.25 L641.11 78.15 L641.31 75.07 L641.51 67.54 L641.71 71.75 L641.91 60.88 L642.11 63.77 L642.31 52.80 L642.51 76.34 L642.71 55.22 L642.91 72.67 L643.11 62.42 L643.31 61.40 L643.51 66.70 L643.71 69.82 L643.91 72.15 L644.11 80.01 L644.31 70.41 L644.51 73.95 L644.71 63.89 L644.91 72.79 L645.11 68.98 L645.31 64.78 L645.51 67.26 L645.71 67.48 L645.91 69.19 L646.11 70.61 L646.31 64.41 L646.51 62.82 L646.71 72.94 L646.91 56.29 L647.11 63.62 L647.31 78.39 L647.51 49.36 L647.71 63.07 L647.91 72.47 L648.11 56.52 L648.31 85.48 L648.51 50.10 L648.71 77.55 L648.91 78.36 L649.11 73.98 L649.31 66.20 L649.51 70.14 L649.71 61.57 L649.91 73.22 L650.11 60.02 L650.31 65.79 L650.51 74.47 L650.71 60.02 L650.91 65.14 L651.11 68.75 L651.31 58.43 L651.51 75.58 L651.71 69.93 L651.91 57.21 L652.11 67.26 L652.31 62.26 L652.51 63.05 L652.71 68.08 L652.91 62.67 L653.11 74.15 L653.31 62.69 L653.51 74.25 L653.71 67.21 L653.91 73.37 L654.10 63.77 L654.30 64.01 L654.50 59.55 L654.70 71.44 L654.90 73.90 L655.10 82.02 L655.30 76.31 L655.50 69.15 L655.70 65.97 L655.90 70.09 L656.10 67.21 L656.30 77.47 L656.50 73.89 L656.70 61.61 L656.90 62.63 L657.10 76.79 L657.30 69.48 L657.50 65.75 L657.70 75.52 L657.90 64.65 L658.10 65.39 L658.30 64.13 L658.50 53.75 L658.70 73.27 L658.90 58.93 L659.10 63.35 L659.30 62.13 L659.50 72.29 L659.70 66.78 L659.90 67.36 L660.10 55.62 L660.30 66.63 L660.50 57.01 L660.70 69.35 L660.90 69.76 L661.10 67.09 L661.30 81.37 L661.50 70.85 L661.70 71.32 L661.90 68.17 L662.10 65.84 L662.30 73.87 L662.50 74.81 L662.70 58.12 L662.90 74.47 L663.10 70.71 L663.30 73.81 L663.50 70.37 L663.70 58.47 L663.90 58.96 L664.10 79.80 L664.30 68.86 L664.50 57.23 L664.70 69.51 L664.90 64.56 L665.10 54.24 L665.30 51.12 L665.50 55.90 L665.70 68.96 L665.90 66.72 L666.10 65.31 L666.30 69.03 L666.50 71.23 L666.70 52.36 L666.90 64.93 L667.10 61.24 L667.30 58.40 L667.50 63.19 L667.70 66.15 L667.90 65.14 L668.10 56.83 L668.30 63.61 L668.50 81.09 L668.70 59.60 L668.90 55.17" stroke="#1f77b4"/>
<path d="M69.30 106.36 L69.50 106.69 L69.70 106.43 L69.90 104.29 L70.10 106.95 L70.30 104.55 L70.50 104.01 L70.70 104.61 L70.90 105.17 L71.10 106.15 L71.30 105.95 L71.50 105.03 L71.70 106.18 L71.90 104.99 L72.10 105.96 L72.30 102.90 L72.50 102.60 L72.70 105.55 L72.90 102.67 L73.10 103.99 L73.30 104.17 L73.50 103.58 L73.70 103.54 L73.90 105.83 L74.10 100.70 L74.30 105.01 L74.50 106.74 L74.70 103.73 L74.90 103.59 L75.10 104.47 L75.30 105.80 L75.50 101.84 L75.70 103.39 L75.90 102.96 L76.10 103.83 L76.30 103.24 L76.50 103.79 L76.70 102.33 L76.90 102.84 L77.10 101.84 L77.30 101.77 L77.50 102.35 L77.70 102.27 L77.90 100.87 L78.10 104.29 L78.30 102.03 L78.50 100.35 L78.70 103.44 L78.90 101.00 L79.10 102.52 L79.30 101.77 L79.50 102.03 L79.70 101.84 L79.90 100.81 L80.10 101.51 L80.30 103.96 L80.50 98.46 L80.70 101.30 L80.90 101.68 L81.10 99.72 L81.30 99.23 L81.50 103.62 L81.70 100.34 L81.90 103.36 L82.10 101.32 L82.30 100.66 L82.50 101.08 L82.70 101.20 L82.90 101.81 L83.10 100.79 L83.30 100.34 L83.50 100.30 L83.70 101.70 L83.90 100.94 L84.10 98.57 L84.29 98.95 L84.49 100.09 L84.69 98.81 L84.89 99.04 L85.09 98.23 L85.29 99.02 L85.49 99.80 L85.69 100.44 L85.89 99.12 L86.09 101.63 L86.29 98.85 L86.49 102.88 L86.69 100.05 L86.89 99.34 L87.09 98.01 L87.29 95.02 L87.49 98.28 L87.69 98.62 L87.89 100.72 L88.09 96.52 L88.29 100.54 L88.49 97.77 L88.69 98.91 L88.89 94.76 L89.09 98.02 L89.29 97.34 L89.49 98.55 L89.69 97.73 L89.89 96.12 L90.09 98.64 L90.29 98.25 L90.49 98.05 L90.69 98.49 L90.89 98.53 L91.09 97.06 L91.29 95.32 L91.49 95.21 L91.69 98.53 L91.89 97.66 L92.09 96.84 L92.29 96.10 L92.49 96.60 L92.69 96.52 L92.89 96.00 L93.09 95.47 L93.29 98.94 L93.49 96.47 L93.69 95.37 L93.89 94.44 L94.09 95.07 L94.29 96.79 L94.49 96.76 L94.69 95.48 L94.89 95.74 L95.09 95.23 L95.29 94.17 L95.49 97.06 L95.69 95.84 L95.89 98.36 L96.09 94.31 L96.29 95.00 L96.49 96.18 L96.69 94.72 L96.89 93.24 L97.09 93.71 L97.29 94.93 L97.49 95.15 L97.69 94.54 L97.89 95.81 L98.09 95.72 L98.29 94.83 L98.49 94.39 L98.69 93.98 L98.89 94.89 L99.09 95.26 L99.29 94.14 L99.49 94.54 L99.69 93.52 L99.89 92.12 L100.09 92.55 L100.29 94.62 L100.49 94.16 L100.69 95.48 L100.89 93.53 L101.09 94.44 L101.29 94.92 L101.49 94.45 L101.69 92.42 L101.89 92.86 L102.09 93.17 L102.29 91.74 L102.49 93.43 L102.69 94.02 L102.89 92.12 L103.09 95.02 L103.29 92.20 L103.49 92.23 L103.69 92.11 L103.89 91.46 L104.09 92.75 L104.29 92.19 L104.49 94.10 L104.69 92.75 L104.89 92.59 L105.09 91.59 L105.29 90.08 L105.49 91.60 L105.69 90.61 L105.89 92.70 L106.09 91.44 L106.29 93.41 L106.49 92.21 L106.69 92.25 L106.89 91.45 L107.09 91.35 L107.29 91.81 L107.49 92.05 L107.69 90.02 L107.89 91.38 L108.09 93.86 L108.29 90.53 L108.49 90.26 L108.69 89.66 L108.89 88.68 L109.09 91.76 L109.29 90.34 L109.49 90.55 L109.69 92.32 L109.89 93.04 L110.09 88.91 L110.29 91.15 L110.49 90.56 L110.69 90.22 L110.89 90.24 L111.09 89.57 L111.29 91.42 L111.49 90.19 L111.69 89.79 L111.89 90.79 L112.09 90.30 L112.29 89.71 L112.49 89.47 L112.69 91.10 L112.89 89.54 L113.09 88.76 L113.29 87.78 L113.49 88.31 L113.69 87.40 L113.89 88.70 L114.09 88.81 L114.28 86.00 L114.48 88.38 L114.68 89.05 L114.88 88.41 L115.08 87.01 L115.28 89.56 L115.48 87.17 L115.68 86.47 L115.88 86.57 L116.08 87.76 L116.28 88.86 L116.48 89.00 L116.68 87.80 L116.88 86.08 L117.08 86.64 L117.28 86.28 L117.48 87.06 L117.68 85.11 L117.88 87.25 L118.08 87.81 L118.28 86.80 L118.48 87.45 L118.68 85.73 L118.88 85.06 L119.08 85.94 L119.28 87.97 L119.48 87.75 L119.68 85.94 L119.88 87.81 L120.08 85.95 L120.28 88.03 L120.48 86.75 L120.68 85.59 L120.88 86.97 L121.08 85.07 L121.28 84.81 L121.48 84.14 L121.68 86.06 L121.88 85.62 L122.08 85.53 L122.28 85.07 L122.48 87.15 L122.68 84.91 L122.88 84.49 L123.08 86.71 L123.28 86.84 L123.48 85.51 L123.68 83.02 L123.88 84.28 L124.08 85.61 L124.28 84.85 L124.48 86.56 L124.68 83.10 L124.88 85.40 L125.08 83.82 L125.28 86.01 L125.48 84.32 L125.68 85.53 L125.88 83.51 L126.08 82.56 L126.28 82.84 L126.48 83.35 L126.68 82.80 L126.88 85.29 L127.08 85.38 L127.28 84.08 L127.48 82.50 L127.68 83.49 L127.88 82.76 L128.08 85.15 L128.28 83.77 L128.48 83.90 L128.68 82.81 L128.88 80.89 L129.08 82.24 L129.28 81.77 L129.48 83.41 L129.68 83.02 L129.88 81.92 L130.08 82.33 L130.28 84.50 L130.48 81.53 L130.68 81.51 L130.88 82.23 L131.08 81.62 L131.28 81.86 L131.48 82.88 L131.68 84.18 L131.88 80.10 L132.08 82.04 L132.28 82.04 L132.48 81.83 L132.68 81.64 L132.88 81.39 L133.08 82.86 L133.28 81.11 L133.48 81.43 L133.68 81.50 L133.88 81.55 L134.08 81.17 L134.28 82.42 L134.48 81.21 L134.68 81.35 L134.88 81.02 L135.08 79.87 L135.28 80.00 L135.48 79.68 L135.68 81.02 L135.88 79.92 L136.08 79.46 L136.28 80.86 L136.48 81.11 L136.68 78.46 L136.88 82.29 L137.08 80.34 L137.28 80.12 L137.48 81.37 L137.68 80.18 L137.88 79.35 L138.08 82.43 L138.28 78.68 L138.48 79.71 L138.68 80.70 L138.88 78.48 L139.08 79.50 L139.28 79.97 L139.48 82.17 L139.68 78.40 L139.88 79.28 L140.08 80.00 L140.28 79.28 L140.48 77.77 L140.68 79.51 L140.88 79.10 L141.08 79.41 L141.28 80.11 L141.48 79.91 L141.68 79.16 L141.88 78.98 L142.08 77.34 L142.28 78.34 L142.48 78.67 L142.68 77.91 L142.88 78.39 L143.08 77.29 L143.28 79.86 L143.48 80.48 L143.68 77.57 L143.88 78.38 L144.08 77.61 L144.27 79.20 L144.47 78.21 L144.67 77.74 L144.87 77.34 L145.07 77.66 L145.27 76.34 L145.47 78.13 L145.67 76.52 L145.87 77.83 L146.07 77.31 L146.27 78.31 L146.47 77.01 L146.67 78.09 L146.87 75.87 L147.07 77.50 L147.27 76.50 L147.47 76.90 L147.67 76.69 L147.87 77.58 L148.07 74.24 L148.27 76.76 L148.47 74.68 L148.67 77.59 L148.87 74.02 L149.07 75.02 L149.27 74.21 L149.47 77.79 L149.67 74.50 L149.87 75.97 L150.07 75.18 L150.27 73.72 L150.47 75.26 L150.67 76.29 L150.87 75.29 L151.07 76.46 L151.27 74.95 L151.47 75.29 L151.67 74.79 L151.87 75.52 L152.07 77.17 L152.27 75.40 L152.47 75.14 L152.67 74.17 L152.87 73.95 L153.07 76.34 L153.27 73.41 L153.47 73.56 L153.67 74.40 L153.87 73.96 L154.07 76.54 L154.27 71.66 L154.47 74.62 L154.67 74.94 L154.87 72.83 L155.07 73.29 L155.27 74.42 L155.47 75.68 L155.67 72.77 L155.87 71.96 L156.07 74.74 L156.27 75.28 L156.47 73.13 L156.67 70.96 L156.87 74.99 L157.07 73.07 L157.27 74.48 L157.47 73.10 L157.67 72.66 L157.87 72.50 L158.07 74.59 L158.27 74.48 L158.47 70.40 L158.67 71.67 L158.87 74.65 L159.07 72.17 L159.27 70.98 L159.47 72.45 L159.67 72.25 L159.87 72.19 L160.07 71.69 L160.27 71.81 L160.47 71.57 L160.67 72.39 L160.87 71.03 L161.07 71.55 L161.27 71.64 L161.47 73.21 L161.67 72.09 L161.87 71.47 L162.07 72.13 L162.27 71.91 L162.47 72.61 L162.67 71.89 L162.87 73.28 L163.07 72.70 L163.27 71.05 L163.47 70.56 L163.67 71.96 L163.87 71.48 L164.07 70.71 L164.27 69.07 L164.47 68.60 L164.67 71.01 L164.87 71.42 L165.07 71.39 L165.27 68.94 L165.47 71.52 L165.67 69.66 L165.87 70.64 L166.07 70.61 L166.27 69.14 L166.47 69.32 L166.67 67.55 L166.87 68.81 L167.07 67.72 L167.27 70.22 L167.47 69.72 L167.67 70.63 L167.87 69.92 L168.07 68.72 L168.27 69.78 L168.47 68.86 L168.67 69.95 L168.87 69.54 L169.07 67.97 L169.27 69.05 L169.47 69.04 L169.67 68.56 L169.87 69.88 L170.07 70.75 L170.27 68.29 L170.47 68.24 L170.67 65.98 L170.87 68.36 L171.07 67.94 L171.27 65.88 L171.47 68.65 L171.67 68.94 L171.87 67.33 L172.07 67.69 L172.27 66.93 L172.47 68.87 L172.67 66.16 L172.87 67.50 L173.07 70.06 L173.27 67.79 L173.47 68.21 L173.67 67.43 L173.87 66.17 L174.07 67.43 L174.26 67.88 L174.46 66.15 L174.66 67.68 L174.86 68.67 L175.06 68.40 L175.26 65.24 L175.46 65.88 L175.66 65.07 L175.86 68.15 L176.06 67.55 L176.26 67.59 L176.46 65.67 L176.66 65.27 L176.86 66.67 L177.06 66.63 L177.26 65.45 L177.46 66.55 L177.66 67.08 L177.86 66.53 L178.06 64.97 L178.26 63.65 L178.46 65.77 L178.66 66.20 L178.86 65.64 L179.06 65.38 L179.26 65.00 L179.46 66.60 L179.66 65.63 L179.86 65.78 L180.06 64.42 L180.26 64.77 L180.46 65.64 L180.66 64.19 L180.86 63.83 L181.06 64.87 L181.26 66.62 L181.46 65.36 L181.66 66.80 L181.86 64.85 L182.06 64.58 L182.26 63.23 L182.46 64.14 L182.66 66.47 L182.86 65.09 L183.06 65.51 L183.26 65.41 L183.46 64.50 L183.66 64.21 L183.86 64.53 L184.06 65.13 L184.26 64.81 L184.46 64.79 L184.66 64.33 L184.86 63.16 L185.06 63.71 L185.26 62.83 L185.46 65.10 L185.66 61.32 L185.86 63.51 L186.06 66.57 L186.26 63.24 L186.46 62.23 L186.66 63.50 L186.86 65.01 L187.06 63.21 L187.26 64.08 L187.46 63.40 L187.66 62.77 L187.86 66.95 L188.06 63.18 L188.26 62.39 L188.46 62.38 L188.66 63.37 L188.86 63.34 L189.06 63.72 L189.26 62.90 L189.46 60.94 L189.66 63.25 L189.86 62.17 L190.06 62.14 L190.26 60.62 L190.46 61.66 L190.66 61.42 L190.86 62.19 L191.06 60.41 L191.26 62.17 L191.46 62.20 L191.66 60.63 L191.86 61.17 L192.06 60.82 L192.26 62.91 L192.46 58.67 L192.66 61.27 L192.86 59.60 L193.06 61.03 L193.26 62.53 L193.46 60.67 L193.66 61.55 L193.86 60.28 L194.06 63.63 L194.26 62.31 L194.46 62.51 L194.66 59.45 L194.86 59.66 L195.06 62.27 L195.26 60.65 L195.46 60.51 L195.66 61.18 L195.86 59.17 L196.06 61.59 L196.26 60.61 L196.46 61.11 L196.66 59.64 L196.86 61.03 L197.06 59.47 L197.26 61.45 L197.46 61.61 L197.66 61.28 L197.86 60.73 L198.06 60.82 L198.26 56.64 L198.46 60.95 L198.66 59.52 L198.86 59.91 L199.06 59.38 L199.26 57.95 L199.46 58.95 L199.66 60.37 L199.86 61.25 L200.06 58.66 L200.26 58.25 L200.46 61.11 L200.66 58.16 L200.86 61.77 L201.06 59.19 L201.26 57.97 L201.46 60.24 L201.66 61.06 L201.86 57.11 L202.06 60.77 L202.26 58.42 L202.46 60.57 L202.66 58.18 L202.86 56.62 L203.06 59.16 L203.26 59.63 L203.46 61.03 L203.66 60.51 L203.86 59.17 L204.06 57.94 L204.25 57.52 L204.45 57.75 L204.65 57.02 L204.85 57.66 L205.05 54.75 L205.25 58.11 L205.45 57.79 L205.65 60.99 L205.85 58.66 L206.05 57.04 L206.25 58.30 L206.45 55.99 L206.65 56.71 L206.85 55.06 L207.05 59.16 L207.25 58.04 L207.45 55.75 L207.65 57.10 L207.85 58.32 L208.05 57.69 L208.25 57.49 L208.45 55.86 L208.65 56.08 L208.85 56.95 L209.05 57.94 L209.25 55.66 L209.45 55.24 L209.65 58.05 L209.85 55.36 L210.05 57.85 L210.25 56.74 L210.45 57.49 L210.65 58.53 L210.85 57.13 L211.05 57.18 L211.25 54.97 L211.45 55.19 L211.65 56.84 L211.85 57.92 L212.05 57.68 L212.25 58.80 L212.45 56.18 L212.65 55.99 L212.85 56.96 L213.05 55.63 L213.25 55.47 L213.45 54.15 L213.65 56.70 L213.85 54.00 L214.05 55.97 L214.25 53.44 L214.45 56.60 L214.65 53.82 L214.85 56.16 L215.05 52.98 L215.25 54.39 L215.45 56.42 L215.65 53.81 L215.85 54.87 L216.05 54.11 L216.25 51.69 L216.45 55.00 L216.65 55.10 L216.85 53.06 L217.05 55.17 L217.25 53.34 L217.45 53.01 L217.65 54.26 L217.85 53.31 L218.05 57.10 L218.25 52.06 L218.45 54.97 L218.65 55.24 L218.85 51.34 L219.05 51.60 L219.25 54.52 L219.45 53.10 L219.65 54.17 L219.85 55.09 L220.05 53.07 L220.25 52.11 L220.45 49.88 L220.65 53.65 L220.85 52.11 L221.05 53.68 L221.25 53.52 L221.45 51.34 L221.65 55.36 L221.85 54.47 L222.05 54.10 L222.25 51.38 L222.45 52.34 L222.65 52.10 L222.85 52.22 L223.05 51.23 L223.25 53.23 L223.45 52.91 L223.65 53.04 L223.85 51.83 L224.05 54.16 L224.25 52.64 L224.45 48.69 L224.65 51.43 L224.85 52.16 L225.05 53.47 L225.25 51.73 L225.45 51.74 L225.65 51.14 L225.85 52.87 L226.05 51.32 L226.25 51.06 L226.45 50.83 L226.65 52.53 L226.85 51.01 L227.05 49.42 L227.25 52.47 L227.45 50.63 L227.65 52.02 L227.85 51.99 L228.05 53.07 L228.25 52.81 L228.45 50.56 L228.65 51.07 L228.85 49.50 L229.05 53.50 L229.25 51.77 L229.45 53.03 L229.65 50.64 L229.85 48.23 L230.05 53.09 L230.25 51.08 L230.45 51.09 L230.65 50.94 L230.85 51.71 L231.05 51.51 L231.25 48.54 L231.45 52.20 L231.65 49.92 L231.85 49.97 L232.05 52.97 L232.25 51.81 L232.45 50.02 L232.65 47.87 L232.85 50.64 L233.05 51.12 L233.25 50.22 L233.45 48.55 L233.65 49.15 L233.85 48.46 L234.05 50.48 L234.24 51.29 L234.44 51.54 L234.64 49.03 L234.84 50.35 L235.04 50.77 L235.24 49.23 L235.44 49.70 L235.64 52.87 L235.84 50.13 L236.04 51.05 L236.24 49.14 L236.44 49.78 L236.64 47.25 L236.84 49.62 L237.04 51.31 L237.24 52.57 L237.44 51.25 L237.64 50.49 L237.84 49.55 L238.04 48.58 L238.24 49.17 L238.44 50.24 L238.64 48.20 L238.84 50.64 L239.04 47.84 L239.24 46.66 L239.44 47.73 L239.64 46.75 L239.84 47.14 L240.04 50.73 L240.24 48.76 L240.44 49.34 L240.64 50.67 L240.84 50.78 L241.04 48.18 L241.24 50.82 L241.44 49.41 L241.64 48.82 L241.84 49.43 L242.04 46.66 L242.24 47.57 L242.44 48.52 L242.64 49.54 L242.84 48.07 L243.04 48.40 L243.24 49.98 L243.44 50.60 L243.64 49.62 L243.84 50.33 L244.04 47.82 L244.24 47.93 L244.44 48.83 L244.64 47.88 L244.84 47.54 L245.04 50.71 L245.24 47.93 L245.44 46.76 L245.64 48.89 L245.84 50.87 L246.04 48.22 L246.24 49.91 L246.44 47.38 L246.64 47.27 L246.84 46.93 L247.04 47.72 L247.24 50.67 L247.44 46.13 L247.64 50.31 L247.84 46.29 L248.04 47.43 L248.24 49.01 L248.44 48.67 L248.64 48.11 L248.84 45.15 L249.04 48.17 L249.24 46.03 L249.44 51.47 L249.64 47.20 L249.84 47.78 L250.04 45.71 L250.24 46.70 L250.44 45.42 L250.64 48.87 L250.84 46.93 L251.04 48.17 L251.24 46.22 L251.44 46.47 L251.64 49.19 L251.84 45.68 L252.04 44.36 L252.24 47.74 L252.44 45.31 L252.64 46.37 L252.84 48.43 L253.04 45.71 L253.24 48.31 L253.44 45.86 L253.64 49.21 L253.84 48.92 L254.04 46.09 L254.24 46.46 L254.44 45.46 L254.64 47.04 L254.84 48.49 L255.04 44.39 L255.24 48.07 L255.44 44.51 L255.64 45.21 L255.84 43.71 L256.04 49.81 L256.24 46.55 L256.44 46.81 L256.64 45.33 L256.84 48.05 L257.04 43.00 L257.24 46.34 L257.44 49.77 L257.64 45.62 L257.84 46.22 L258.04 47.23 L258.24 44.84 L258.44 46.13 L258.64 47.60 L258.84 46.34 L259.04 46.59 L259.24 45.40 L259.44 46.44 L259.64 45.99 L259.84 48.21 L260.04 47.00 L260.24 45.41 L260.44 41.82 L260.64 46.89 L260.84 46.92 L261.04 44.18 L261.24 42.40 L261.44 43.75 L261.64 47.07 L261.84 43.80 L262.04 44.75 L262.24 45.83 L262.44 47.43 L262.64 45.37 L262.84 45.21 L263.04 44.44 L263.24 47.98 L263.44 47.02 L263.64 45.08 L263.84 42.91 L264.04 43.87 L264.23 46.10 L264.43 43.92 L264.63 46.55 L264.83 45.64 L265.03 45.49 L265.23 46.06 L265.43 45.77 L265.63 43.49 L265.83 44.34 L266.03 48.74 L266.23 42.80 L266.43 43.99 L266.63 46.53 L266.83 44.45 L267.03 43.32 L267.23 42.44 L267.43 45.52 L267.63 46.29 L267.83 46.90 L268.03 44.61 L268.23 46.24 L268.43 42.71 L268.63 44.70 L268.83 43.25 L269.03 44.65 L269.23 45.59 L269.43 46.10 L269.63 42.58 L269.83 46.38 L270.03 43.39 L270.23 42.42 L270.43 43.84 L270.63 41.60 L270.83 44.07 L271.03 44.53 L271.23 43.66 L271.43 44.89 L271.63 43.40 L271.83 43.91 L272.03 41.40 L272.23 43.91 L272.43 42.34 L272.63 43.00 L272.83 43.58 L273.03 44.04 L273.23 40.83 L273.43 40.94 L273.63 43.09 L273.83 44.40 L274.03 44.18 L274.23 45.07 L274.43 45.75 L274.63 44.32 L274.83 43.39 L275.03 41.59 L275.23 41.71 L275.43 42.51 L275.63 43.76 L275.83 43.65 L276.03 43.24 L276.23 42.93 L276.43 44.28 L276.63 43.50 L276.83 43.63 L277.03 43.62 L277.23 42.08 L277.43 41.19 L277.63 43.85 L277.83 43.68 L278.03 42.52 L278.23 42.14 L278.43 46.90 L278.63 41.47 L278.83 42.40 L279.03 43.23 L279.23 40.67 L279.43 42.90 L279.63 45.88 L279.83 44.30 L280.03 43.73 L280.23 43.63 L280.43 42.74 L280.63 44.23 L280.83 42.20 L281.03 41.68 L281.23 42.60 L281.43 44.02 L281.63 42.95 L281.83 43.54 L282.03 38.62 L282.23 44.42 L282.43 46.48 L282.63 44.62 L282.83 41.59 L283.03 40.59 L283.23 42.61 L283.43 40.27 L283.63 43.37 L283.83 41.05 L284.03 43.74 L284.23 44.45 L284.43 38.19 L284.63 42.43 L284.83 40.58 L285.03 39.23 L285.23 40.66 L285.43 41.36 L285.63 43.65 L285.83 38.89 L286.03 43.62 L286.23 45.39 L286.43 42.72 L286.63 42.60 L286.83 41.53 L287.03 39.34 L287.23 42.49 L287.43 42.18 L287.63 42.80 L287.83 46.21 L288.03 42.74 L288.23 42.14 L288.43 44.24 L288.63 38.76 L288.83 39.11 L289.03 40.52 L289.23 39.96 L289.43 42.48 L289.63 40.54 L289.83 44.39 L290.03 43.95 L290.23 42.51 L290.43 40.29 L290.63 42.16 L290.83 42.50 L291.03 38.90 L291.23 41.57 L291.43 42.22 L291.63 41.26 L291.83 43.81 L292.03 43.11 L292.23 39.18 L292.43 40.97 L292.63 39.10 L292.83 41.78 L293.03 38.97 L293.23 42.39 L293.43 41.33 L293.63 42.43 L293.83 40.25 L294.03 37.68 L294.22 43.88 L294.42 40.11 L294.62 43.08 L294.82 41.22 L295.02 41.66 L295.22 43.88 L295.42 40.96 L295.62 43.00 L295.82 37.35 L296.02 41.91 L296.22 39.71 L296.42 39.89 L296.62 40.14 L296.82 40.78 L297.02 43.32 L297.22 36.40 L297.42 40.10 L297.62 38.58 L297.82 42.26 L298.02 39.10 L298.22 40.81 L298.42 39.09 L298.62 41.17 L298.82 41.83 L299.02 39.01 L299.22 39.86 L299.42 36.92 L299.62 40.32 L299.82 41.39 L300.02 38.55 L300.22 41.87 L300.42 35.46 L300.62 35.87 L300.82 36.77 L301.02 38.55 L301.22 39.53 L301.42 39.31 L301.62 39.30 L301.82 40.87 L302.02 38.43 L302.22 36.81 L302.42 36.82 L302.62 43.58 L302.82 34.52 L303.02 38.89 L303.22 42.18 L303.42 40.18 L303.62 37.48 L303.82 39.15 L304.02 40.88 L304.22 41.55 L304.42 37.23 L304.62 40.59 L304.82 39.53 L305.02 41.25 L305.22 41.81 L305.42 38.23 L305.62 35.93 L305.82 39.69 L306.02 42.51 L306.22 40.24 L306.42 39.27 L306.62 43.73 L306.82 36.60 L307.02 40.59 L307.22 37.51 L307.42 38.77 L307.62 38.83 L307.82 41.77 L308.02 36.64 L308.22 37.45 L308.42 35.21 L308.62 39.53 L308.82 37.53 L309.02 39.34 L309.22 36.18 L309.42 37.65 L309.62 40.56 L309.82 37.99 L310.02 39.65 L310.22 39.42 L310.42 37.53 L310.62 34.96 L310.82 40.31 L311.02 38.56 L311.22 40.26 L311.42 33.88 L311.62 34.61 L311.82 33.54 L312.02 36.21 L312.22 40.26 L312.42 39.23 L312.62 37.92 L312.82 38.25 L313.02 39.57 L313.22 37.27 L313.42 38.74 L313.62 38.17 L313.82 33.14 L314.02 36.99 L314.22 40.71 L314.42 36.91 L314.62 37.43 L314.82 36.40 L315.02 36.64 L315.22 40.09 L315.42 37.05 L315.62 35.39 L315.82 30.83 L316.02 36.31 L316.22 33.25 L316.42 33.54 L316.62 39.21 L316.82 39.00 L317.02 33.24 L317.22 39.27 L317.42 38.38 L317.62 35.64 L317.82 38.94 L318.02 33.73 L318.22 34.63 L318.42 34.08 L318.62 34.78 L318.82 39.14 L319.02 34.23 L319.22 34.60 L319.42 35.02 L319.62 37.53 L319.82 36.32 L320.02 38.96 L320.22 35.44 L320.42 34.13 L320.62 35.85 L320.82 37.02 L321.02 34.84 L321.22 37.51 L321.42 40.92 L321.62 35.53 L321.82 36.90 L322.02 39.81 L322.22 35.29 L322.42 34.81 L322.62 34.23 L322.82 37.56 L323.02 37.79 L323.22 36.27 L323.42 36.67 L323.62 39.43 L323.82 38.49 L324.02 33.32 L324.21 36.44 L324.41 36.68 L324.61 38.05 L324.81 35.87 L325.01 34.88 L325.21 35.28 L325.41 32.24 L325.61 36.21 L325.81 34.88 L326.01 37.28 L326.21 33.83 L326.41 35.16 L326.61 33.88 L326.81 33.65 L327.01 37.69 L327.21 34.98 L327.41 37.05 L327.61 33.41 L327.81 36.19 L328.01 32.02 L328.21 34.80 L328.41 34.71 L328.61 37.21 L328.81 36.24 L329.01 35.39 L329.21 37.72 L329.41 36.19 L329.61 36.97 L329.81 37.48 L330.01 35.51 L330.21 34.95 L330.41 36.37 L330.61 34.60 L330.81 36.46 L331.01 38.13 L331.21 37.51 L331.41 34.57 L331.61 32.41 L331.81 35.29 L332.01 35.09 L332.21 37.98 L332.41 34.43 L332.61 34.81 L332.81 37.03 L333.01 34.12 L333.21 34.85 L333.41 39.28 L333.61 38.72 L333.81 36.65 L334.01 35.76 L334.21 32.77 L334.41 36.40 L334.61 35.17 L334.81 35.54 L335.01 33.73 L335.21 34.92 L335.41 34.48 L335.61 35.65 L335.81 38.31 L336.01 35.71 L336.21 30.80 L336.41 32.43 L336.61 30.92 L336.81 32.80 L337.01 36.05 L337.21 35.64 L337.41 33.18 L337.61 35.26 L337.81 32.74 L338.01 31.09 L338.21 31.09 L338.41 32.39 L338.61 37.94 L338.81 31.15 L339.01 37.45 L339.21 37.63 L339.41 33.90 L339.61 34.20 L339.81 32.78 L340.01 34.20 L340.21 35.85 L340.41 34.22 L340.61 36.63 L340.81 37.08 L341.01 34.96 L341.21 34.89 L341.41 33.90 L341.61 34.88 L341.81 31.22 L342.01 34.97 L342.21 34.44 L342.41 31.75 L342.61 39.25 L342.81 31.41 L343.01 31.64 L343.21 34.48 L343.41 28.89 L343.61 31.74 L343.81 29.86 L344.01 31.23 L344.21 33.30 L344.41 34.41 L344.61 36.37 L344.81 35.59 L345.01 36.52 L345.21 34.98 L345.41 32.27 L345.61 36.27 L345.81 32.16 L346.01 31.81 L346.21 37.25 L346.41 35.33 L346.61 33.85 L346.81 35.19 L347.01 35.48 L347.21 29.71 L347.41 32.93 L347.61 30.12 L347.81 33.43 L348.01 31.36 L348.21 36.57 L348.41 34.37 L348.61 30.91 L348.81 32.93 L349.01 29.82 L349.21 33.03 L349.41 34.32 L349.61 33.55 L349.81 27.82 L350.01 31.94 L350.21 34.11 L350.41 33.56 L350.61 35.76 L350.81 29.35 L351.01 34.05 L351.21 30.95 L351.41 33.14 L351.61 33.67 L351.81 34.38 L352.01 31.03 L352.21 33.01 L352.41 29.41 L352.61 28.75 L352.81 33.91 L353.01 32.28 L353.21 28.11 L353.41 30.11 L353.61 32.39 L353.81 36.45 L354.01 35.08 L354.20 34.40 L354.40 27.48 L354.60 31.96 L354.80 33.47 L355.00 33.23 L355.20 33.26 L355.40 31.50 L355.60 36.82 L355.80 36.05 L356.00 31.80 L356.20 29.40 L356.40 37.55 L356.60 30.50 L356.80 35.20 L357.00 37.11 L357.20 29.37 L357.40 32.69 L357.60 30.94 L357.80 33.26 L358.00 32.71 L358.20 37.11 L358.40 33.40 L358.60 31.75 L358.80 34.83 L359.00 30.99 L359.20 30.72 L359.40 37.83 L359.60 29.43 L359.80 30.32 L360.00 31.76 L360.20 28.71 L360.40 25.79 L360.60 34.49 L360.80 29.40 L361.00 30.05 L361.20 30.50 L361.40 28.79 L361.60 28.51 L361.80 31.92 L362.00 38.12 L362.20 33.48 L362.40 33.50 L362.60 27.20 L362.80 31.31 L363.00 28.06 L363.20 33.51 L363.40 30.69 L363.60 31.42 L363.80 31.05 L364.00 29.64 L364.20 26.98 L364.40 32.87 L364.60 27.33 L364.80 27.88 L365.00 30.35 L365.20 29.18 L365.40 31.90 L365.60 34.00 L365.80 31.83 L366.00 31.67 L366.20 31.16 L366.40 33.51 L366.60 25.80 L366.80 32.09 L367.00 28.36 L367.20 27.49 L367.40 31.00 L367.60 29.87 L367.80 32.63 L368.00 34.10 L368.20 24.25 L368.40 30.70 L368.60 36.53 L368.80 33.38 L369.00 35.04 L369.20 31.14 L369.40 26.68 L369.60 27.56 L369.80 32.86 L370.00 33.57 L370.20 28.65 L370.40 29.97 L370.60 31.50 L370.80 25.62 L371.00 29.69 L371.20 35.43 L371.40 37.08 L371.60 30.35 L371.80 36.03 L372.00 29.09 L372.20 28.23 L372.40 24.00 L372.60 33.41 L372.80 29.47 L373.00 37.49 L373.20 31.53 L373.40 31.09 L373.60 25.14 L373.80 34.97 L374.00 29.40 L374.20 29.99 L374.40 23.86 L374.60 33.22 L374.80 33.39 L375.00 28.60 L375.20 30.68 L375.40 31.57 L375.60 33.28 L375.80 30.68 L376.00 35.56 L376.20 29.60 L376.40 28.48 L376.60 28.89 L376.80 22.57 L377.00 27.82 L377.20 33.34 L377.40 31.06 L377.60 27.73 L377.80 31.30 L378.00 24.02 L378.20 29.32 L378.40 31.80 L378.60 32.32 L378.80 27.77 L379.00 32.97 L379.20 35.91 L379.40 28.80 L379.60 32.40 L379.80 25.26 L380.00 23.98 L380.20 31.98 L380.40 30.19 L380.60 30.67 L380.80 28.21 L381.00 29.10 L381.20 32.55 L381.40 35.39 L381.60 29.30 L381.80 24.77 L382.00 33.97 L382.20 31.84 L382.40 32.09 L382.60 30.49 L382.80 37.27 L383.00 30.13 L383.20 31.51 L383.40 23.96 L383.60 28.00 L383.80 27.64 L384.00 29.73 L384.19 30.93 L384.39 27.40 L384.59 35.35 L384.79 26.35 L384.99 28.31 L385.19 30.52 L385.39 25.69 L385.59 31.57 L385.79 31.76 L385.99 28.75 L386.19 35.89 L386.39 29.94 L386.59 30.58 L386.79 26.51 L386.99 24.16 L387.19 27.56 L387.39 28.56 L387.59 28.10 L387.79 32.11 L387.99 21.72 L388.19 25.82 L388.39 23.52 L388.59 33.97 L388.79 27.65 L388.99 27.80 L389.19 25.84 L389.39 32.47 L389.59 28.10 L389.79 30.20 L389.99 22.66 L390.19 33.35 L390.39 30.74 L390.59 31.26 L390.79 33.55 L390.99 28.74 L391.19 28.81 L391.39 31.78 L391.59 30.79 L391.79 28.51 L391.99 29.48 L392.19 27.60 L392.39 31.73 L392.59 32.47 L392.79 29.30 L392.99 35.67 L393.19 24.00 L393.39 28.44 L393.59 35.09 L393.79 27.77 L393.99 23.71 L394.19 33.99 L394.39 31.06 L394.59 25.05 L394.79 31.83 L394.99 25.60 L395.19 24.49 L395.39 28.59 L395.59 27.44 L395.79 25.27 L395.99 27.81 L396.19 25.56 L396.39 29.27 L396.59 28.96 L396.79 31.65 L396.99 27.42 L397.19 24.33 L397.39 24.35 L397.59 28.12 L397.79 34.39 L397.99 31.96 L398.19 26.68 L398.39 32.27 L398.59 24.80 L398.79 32.51 L398.99 27.53 L399.19 31.62 L399.39 31.09 L399.59 27.87 L399.79 30.02 L399.99 25.01 L400.19 28.55 L400.39 32.70 L400.59 43.55 L400.79 31.32 L400.99 29.09 L401.19 25.09 L401.39 32.58 L401.59 22.72 L401.79 25.80 L401.99 30.01 L402.19 24.30 L402.39 34.30 L402.59 32.66 L402.79 26.58 L402.99 26.61 L403.19 23.79 L403.39 23.47 L403.59 30.23 L403.79 30.89 L403.99 29.88 L404.19 29.55 L404.39 26.48 L404.59 29.88 L404.79 23.07 L404.99 28.55 L405.19 33.99 L405.39 33.42 L405.59 26.75 L405.79 27.22 L405.99 33.61 L406.19 35.14 L406.39 22.81 L406.59 26.81 L406.79 29.28 L406.99 32.98 L407.19 25.21 L407.39 30.79 L407.59 27.21 L407.79 37.35 L407.99 29.96 L408.19 27.80 L408.39 27.03 L408.59 32.31 L408.79 30.87 L408.99 24.12 L409.19 29.08 L409.39 23.10 L409.59 25.32 L409.79 23.24 L409.99 23.10 L410.19 25.54 L410.39 24.39 L410.59 30.21 L410.79 31.24 L410.99 27.21 L411.19 23.78 L411.39 31.24 L411.59 20.22 L411.79 20.56 L411.99 30.92 L412.19 30.63 L412.39 31.87 L412.59 27.19 L412.79 23.07 L412.99 26.01 L413.19 30.23 L413.39 24.97 L413.59 25.20 L413.79 22.45 L413.99 23.34 L414.18 31.28 L414.38 29.73 L414.58 23.29 L414.78 23.60 L414.98 25.65 L415.18 30.07 L415.38 23.19 L415.58 27.18 L415.78 19.24 L415.98 22.78 L416.18 29.51 L416.38 31.42 L416.58 23.13 L416.78 24.65 L416.98 30.99 L417.18 26.17 L417.38 25.55 L417.58 29.84 L417.78 28.52 L417.98 32.24 L418.18 30.93 L418.38 25.33 L418.58 27.18 L418.78 27.41 L418.98 22.08 L419.18 23.64 L419.38 31.62 L419.58 21.07 L419.78 31.70 L419.98 28.77 L420.18 27.00 L420.38 29.79 L420.58 29.53 L420.78 32.56 L420.98 25.87 L421.18 26.57 L421.38 26.48 L421.58 35.35 L421.78 31.44 L421.98 23.60 L422.18 26.06 L422.38 24.49 L422.58 27.50 L422.78 28.33 L422.98 37.08 L423.18 19.70 L423.38 31.74 L423.58 29.23 L423.78 24.40 L423.98 26.73 L424.18 25.25 L424.38 27.55 L424.58 31.62 L424.78 20.84 L424.98 32.92 L425.18 25.70 L425.38 33.73 L425.58 29.05 L425.78 32.57 L425.98 29.69 L426.18 31.92 L426.38 27.48 L426.58 23.63 L426.78 30.12 L426.98 30.29 L427.18 36.30 L427.38 18.48 L427.58 26.32 L427.78 31.79 L427.98 21.69 L428.18 26.15 L428.38 36.40 L428.58 33.33 L428.78 23.26 L428.98 33.37 L429.18 32.30 L429.38 30.51 L429.58 28.76 L429.78 28.12 L429.98 23.21 L430.18 24.76 L430.38 30.28 L430.58 27.65 L430.78 35.24 L430.98 25.52 L431.18 16.30 L431.38 25.50 L431.58 28.22 L431.78 28.68 L431.98 27.26 L432.18 23.26 L432.38 33.65 L432.58 23.94 L432.78 30.12 L432.98 25.61 L433.18 21.49 L433.38 33.29 L433.58 15.51 L433.78 23.01 L433.98 28.83 L434.18 25.23 L434.38 30.26 L434.58 26.38 L434.78 24.76 L434.98 36.70 L435.18 25.80 L435.38 26.08 L435.58 21.82 L435.78 23.35 L435.98 29.77 L436.18 29.37 L436.38 26.77 L436.58 23.51 L436.78 29.92 L436.98 18.84 L437.18 25.14 L437.38 25.54 L437.58 22.77 L437.78 27.41 L437.98 23.58 L438.18 22.93 L438.38 35.11 L438.58 30.15 L438.78 32.30 L438.98 26.90 L439.18 31.19 L439.38 30.33 L439.58 32.36 L439.78 37.82 L439.98 25.55 L440.18 27.85 L440.38 26.37 L440.58 9.90 L440.78 19.95 L440.98 26.68 L441.18 29.61 L441.38 23.83 L441.58 32.00 L441.78 32.72 L441.98 24.58 L442.18 33.39 L442.38 34.97 L442.58 28.78 L442.78 21.80 L442.98 33.62 L443.18 25.73 L443.38 24.68 L443.58 27.07 L443.78 23.89 L443.98 31.71 L444.17 30.27 L444.37 32.43 L444.57 29.31 L444.77 22.58 L444.97 25.68 L445.17 30.74 L445.37 24.44 L445.57 40.76 L445.77 25.23 L445.97 23.53 L446.17 32.06 L446.37 30.08 L446.57 26.25 L446.77 25.25 L446.97 28.47 L447.17 30.48 L447.37 30.12 L447.57 24.86 L447.77 28.47 L447.97 30.50 L448.17 30.11 L448.37 11.03 L448.57 21.89 L448.77 22.45 L448.97 25.14 L449.17 27.17 L449.37 30.85 L449.57 29.33 L449.77 25.62 L449.97 26.36 L450.17 35.00 L450.37 23.18 L450.57 27.74 L450.77 34.02 L450.97 27.93 L451.17 15.99 L451.37 28.06 L451.57 24.24 L451.77 25.61 L451.97 31.43 L452.17 28.51 L452.37 24.83 L452.57 30.62 L452.77 28.32 L452.97 26.65 L453.17 27.63 L453.37 27.38 L453.57 24.39 L453.77 23.78 L453.97 26.21 L454.17 21.27 L454.37 19.72 L454.57 32.63 L454.77 24.85 L454.97 25.93 L455.17 25.36 L455.37 26.15 L455.57 26.14 L455.77 26.35 L455.97 21.93 L456.17 30.73 L456.37 22.48 L456.57 31.25 L456.77 16.22 L456.97 20.57 L457.17 31.02 L457.37 25.20 L457.57 22.53 L457.77 27.86 L457.97 20.60 L458.17 26.32 L458.37 14.60 L458.57 23.60 L458.77 22.58 L458.97 28.66 L459.17 30.38 L459.37 21.50 L459.57 34.13 L459.77 22.83 L459.97 15.30 L460.17 13.63 L460.37 33.76 L460.57 25.39 L460.77 22.50 L460.97 21.97 L461.17 20.19 L461.37 32.79 L461.57 25.37 L461.77 35.04 L461.97 24.76 L462.17 13.63 L462.37 30.14 L462.57 23.86 L462.77 24.53 L462.97 33.88 L463.17 24.38 L463.37 31.77 L463.57 25.71 L463.77 21.82 L463.97 28.36 L464.17 22.59 L464.37 32.10 L464.57 30.70 L464.77 26.02 L464.97 28.87 L465.17 28.62 L465.37 24.23 L465.57 30.34 L465.77 24.47 L465.97 28.87 L466.17 20.67 L466.37 26.17 L466.57 27.81 L466.77 21.48 L466.97 23.44 L467.17 22.82 L467.37 29.44 L467.57 21.82 L467.77 27.91 L467.97 33.63 L468.17 27.48 L468.37 17.09 L468.57 26.25 L468.77 31.08 L468.97 24.07 L469.17 31.44 L469.37 28.84 L469.57 27.79 L469.77 24.17 L469.97 22.84 L470.17 24.19 L470.37 25.88 L470.57 28.32 L470.77 27.77 L470.97 23.93 L471.17 25.87 L471.37 27.58 L471.57 16.86 L471.77 21.42 L471.97 21.25 L472.17 24.41 L472.37 24.03 L472.57 24.11 L472.77 20.82 L472.97 29.08 L473.17 26.96 L473.37 16.67 L473.57 25.54 L473.77 19.42 L473.97 34.59 L474.16 23.01 L474.36 23.33 L474.56 25.89 L474.76 24.36 L474.96 25.12 L475.16 33.76 L475.36 26.64 L475.56 29.92 L475.76 31.49 L475.96 20.14 L476.16 34.52 L476.36 29.11 L476.56 30.56 L476.76 20.71 L476.96 29.80 L477.16 27.61 L477.36 22.45 L477.56 37.75 L477.76 28.43 L477.96 24.04 L478.16 26.39 L478.36 30.29 L478.56 31.48 L478.76 28.49 L478.96 31.95 L479.16 33.33 L479.36 18.57 L479.56 22.65 L479.76 20.16 L479.96 25.82 L480.16 33.18 L480.36 28.85 L480.56 19.54 L480.76 23.65 L480.96 30.90 L481.16 22.33 L481.36 24.71 L481.56 26.91 L481.76 15.21 L481.96 29.51 L482.16 27.10 L482.36 28.34 L482.56 19.81 L482.76 20.96 L482.96 21.90 L483.16 26.57 L483.36 25.57 L483.56 25.88 L483.76 35.08 L483.96 32.39 L484.16 21.17 L484.36 21.52 L484.56 34.66 L484.76 23.37 L484.96 32.79 L485.16 34.01 L485.36 22.10 L485.56 23.61 L485.76 25.56 L485.96 20.28 L486.16 19.64 L486.36 22.84 L486.56 29.83 L486.76 22.57 L486.96 23.91 L487.16 22.45 L487.36 17.41 L487.56 33.35 L487.76 11.91 L487.96 21.36 L488.16 28.16 L488.36 17.18 L488.56 28.41 L488.76 32.04 L488.96 20.16 L489.16 26.16 L489.36 18.73 L489.56 27.83 L489.76 25.47 L489.96 26.18 L490.16 32.67 L490.36 27.61 L490.56 32.55 L490.76 28.52 L490.96 18.14 L491.16 26.40 L491.36 27.69 L491.56 16.71 L491.76 32.47 L491.96 25.28 L492.16 26.98 L492.36 19.78 L492.56 25.28 L492.76 26.57 L492.96 23.00 L493.16 25.31 L493.36 12.76 L493.56 32.61 L493.76 18.47 L493.96 12.35 L494.16 19.32 L494.36 20.03 L494.56 27.91 L494.76 19.56 L494.96 26.42 L495.16 19.28 L495.36 37.44 L495.56 27.90 L495.76 36.00 L495.96 18.92 L496.16 28.56 L496.36 19.23 L496.56 28.06 L496.76 28.63 L496.96 15.51 L497.16 18.14 L497.36 17.96 L497.56 16.00 L497.76 20.45 L497.96 19.11 L498.16 16.29 L498.36 25.22 L498.56 27.80 L498.76 17.01 L498.96 21.39 L499.16 24.66 L499.36 23.26 L499.56 20.52 L499.76 29.30 L499.96 29.51 L500.16 28.53 L500.36 23.35 L500.56 36.14 L500.76 34.70 L500.96 22.19 L501.16 23.82 L501.36 31.47 L501.56 19.83 L501.76 26.84 L501.96 24.76 L502.16 20.36 L502.36 23.12 L502.56 15.24 L502.76 21.27 L502.96 12.72 L503.16 37.85 L503.36 33.29 L503.56 31.66 L503.76 26.20 L503.96 30.29 L504.15 31.90 L504.35 30.39 L504.55 29.80 L504.75 18.98 L504.95 26.90 L505.15 21.19 L505.35 17.35 L505.55 17.57 L505.75 26.86 L505.95 30.56 L506.15 16.19 L506.35 34.67 L506.55 33.02 L506.75 22.02 L506.95 21.51 L507.15 23.83 L507.35 30.10 L507.55 21.96 L507.75 17.63 L507.95 26.27 L508.15 11.88 L508.35 25.05 L508.55 31.13 L508.75 26.01 L508.95 28.85 L509.15 27.13 L509.35 28.52 L509.55 25.02 L509.75 19.16 L509.95 22.78 L510.15 23.68 L510.35 31.69 L510.55 33.90 L510.75 26.64 L510.95 19.56 L511.15 19.69 L511.35 22.95 L511.55 32.46 L511.75 26.09 L511.95 23.72 L512.15 19.42 L512.35 29.38 L512.55 25.79 L512.75 23.72 L512.95 24.65 L513.15 34.25 L513.35 23.03 L513.55 34.26 L513.75 31.54 L513.95 24.30 L514.15 29.35 L514.35 23.21 L514.55 18.91 L514.75 22.32 L514.95 18.41 L515.15 27.06 L515.35 24.02 L515.55 27.39 L515.75 28.97 L515.95 4.80 L516.15 25.81 L516.35 12.85 L516.55 24.90 L516.75 18.49 L516.95 24.51 L517.15 32.25 L517.35 13.35 L517.55 25.02 L517.75 23.35 L517.95 12.17 L518.15 27.82 L518.35 24.03 L518.55 20.67 L518.75 19.34 L518.95 43.64 L519.15 21.35 L519.35 12.64 L519.55 18.00 L519.75 21.49 L519.95 21.37 L520.15 23.26 L520.35 17.24 L520.55 27.09 L520.75 20.72 L520.95 15.27 L521.15 18.64 L521.35 21.31 L521.55 28.96 L521.75 26.69 L521.95 21.58 L522.15 23.79 L522.35 25.00 L522.55 36.33 L522.75 19.80 L522.95 26.54 L523.15 28.15 L523.35 17.69 L523.55 24.79 L523.75 24.63 L523.95 20.67 L524.15 27.13 L524.35 30.00 L524.55 30.63 L524.75 22.37 L524.95 24.75 L525.15 38.22 L525.35 16.66 L525.55 24.92 L525.75 29.09 L525.95 24.46 L526.15 27.61 L526.35 24.59 L526.55 28.21 L526.75 31.51 L526.95 22.10 L527.15 24.71 L527.35 23.12 L527.55 20.94 L527.75 23.33 L527.95 16.36 L528.15 28.10 L528.35 34.10 L528.55 34.11 L528.75 31.42 L528.95 17.36 L529.15 32.93 L529.35 18.90 L529.55 23.05 L529.75 34.97 L529.95 16.64 L530.15 28.65 L530.35 25.12 L530.55 22.39 L530.75 17.83 L530.95 25.99 L531.15 20.41 L531.35 29.89 L531.55 31.01 L531.75 14.62 L531.95 20.11 L532.15 21.28 L532.35 15.84 L532.55 16.23 L532.75 23.82 L532.95 21.94 L533.15 12.83 L533.35 19.85 L533.55 26.51 L533.75 15.61 L533.95 17.39 L534.14 33.23 L534.34 31.52 L534.54 12.96 L534.74 14.65 L534.94 25.56 L535.14 15.64 L535.34 21.57 L535.54 20.30 L535.74 26.69 L535.94 7.14 L536.14 9.19 L536.34 15.36 L536.54 29.54 L536.74 22.13 L536.94 12.28 L537.14 26.22 L537.34 27.57 L537.54 21.52 L537.74 20.98 L537.94 25.84 L538.14 30.73 L538.34 24.02 L538.54 26.43 L538.74 22.73 L538.94 20.61 L539.14 17.20 L539.34 24.64 L539.54 21.10 L539.74 21.45 L539.94 28.90 L540.14 26.09 L540.34 28.51 L540.54 12.94 L540.74 26.52 L540.94 19.20 L541.14 17.80 L541.34 17.51 L541.54 30.65 L541.74 28.20 L541.94 18.34 L542.14 15.65 L542.34 22.99 L542.54 19.96 L542.74 33.48 L542.94 13.55 L543.14 11.19 L543.34 21.23 L543.54 22.92 L543.74 23.70 L543.94 27.66 L544.14 36.09 L544.34 20.64 L544.54 19.34 L544.74 11.55 L544.94 24.36 L545.14 28.26 L545.34 21.12 L545.54 30.34 L545.74 22.97 L545.94 32.48 L546.14 24.90 L546.34 15.97 L546.54 18.66 L546.74 12.90 L546.94 11.58 L547.14 24.44 L547.34 28.30 L547.54 35.26 L547.74 22.35 L547.94 21.17 L548.14 15.56 L548.34 29.03 L548.54 25.17 L548.74 18.84 L548.94 27.09 L549.14 26.26 L549.34 10.61 L549.54 27.42 L549.74 23.50 L549.94 20.10 L550.14 19.93 L550.34 33.88 L550.54 32.50 L550.74 34.37 L550.94 15.18 L551.14 18.36 L551.34 28.41 L551.54 14.76 L551.74 17.91 L551.94 10.90 L552.14 34.51 L552.34 29.40 L552.54 25.49 L552.74 23.94 L552.94 19.82 L553.14 19.93 L553.34 26.48 L553.54 17.89 L553.74 30.43 L553.94 19.29 L554.14 16.81 L554.34 30.87 L554.54 21.52 L554.74 26.05 L554.94 19.75 L555.14 7.84 L555.34 25.98 L555.54 13.68 L555.74 29.44 L555.94 12.34 L556.14 10.29 L556.34 24.39 L556.54 25.15 L556.74 23.07 L556.94 14.48 L557.14 28.14 L557.34 12.83 L557.54 19.33 L557.74 17.22 L557.94 19.88 L558.14 27.88 L558.34 18.19 L558.54 25.99 L558.74 26.83 L558.94 11.15 L559.14 14.69 L559.34 19.79 L559.54 18.42 L559.74 24.28 L559.94 9.66 L560.14 26.96 L560.34 27.11 L560.54 21.15 L560.74 13.21 L560.94 22.27 L561.14 18.71 L561.34 25.92 L561.54 21.66 L561.74 26.97 L561.94 19.37 L562.14 31.63 L562.34 7.10 L562.54 15.53 L562.74 25.39 L562.94 12.27 L563.14 26.98 L563.34 14.18 L563.54 22.76 L563.74 16.14 L563.94 19.24 L564.13 23.27 L564.33 21.43 L564.53 19.61 L564.73 36.24 L564.93 22.16 L565.13 15.72 L565.33 28.18 L565.53 27.47 L565.73 30.11 L565.93 33.82 L566.13 15.88 L566.33 29.02 L566.53 29.55 L566.73 22.04 L566.93 23.65 L567.13 2.26 L567.33 18.24 L567.53 33.79 L567.73 10.23 L567.93 18.47 L568.13 23.89 L568.33 25.79 L568.53 32.75 L568.73 10.34 L568.93 22.25 L569.13 27.64 L569.33 13.28 L569.53 21.69 L569.73 34.40 L569.93 30.64 L570.13 25.50 L570.33 4.64 L570.53 21.06 L570.73 24.47 L570.93 19.87 L571.13 21.47 L571.33 42.31 L571.53 20.47 L571.73 15.46 L571.93 23.48 L572.13 19.78 L572.33 19.81 L572.53 21.28 L572.73 26.98 L572.93 23.42 L573.13 13.87 L573.33 20.95 L573.53 24.98 L573.73 18.71 L573.93 29.45 L574.13 26.97 L574.33 15.22 L574.53 23.92 L574.73 34.98 L574.93 32.16 L575.13 21.40 L575.33 27.74 L575.53 17.28 L575.73 12.12 L575.93 25.44 L576.13 23.39 L576.33 25.17 L576.53 21.57 L576.73 23.90 L576.93 18.30 L577.13 24.87 L577.33 27.27 L577.53 21.32 L577.73 27.13 L577.93 9.87 L578.13 16.44 L578.33 31.33 L578.53 33.45 L578.73 23.34 L578.93 20.97 L579.13 13.18 L579.33 24.08 L579.53 26.85 L579.73 11.73 L579.93 25.38 L580.13 24.91 L580.33 24.58 L580.53 14.06 L580.73 25.24 L580.93 11.57 L581.13 31.58 L581.33 22.50 L581.53 13.78 L581.73 30.61 L581.93 29.32 L582.13 17.21 L582.33 36.36 L582.53 14.82 L582.73 23.66 L582.93 29.49 L583.13 6.28 L583.33 28.27 L583.53 21.10 L583.73 21.42 L583.93 14.27 L584.13 23.74 L584.33 14.04 L584.53 14.98 L584.73 18.48 L584.93 13.22 L585.13 32.08 L585.33 12.52 L585.53 16.39 L585.73 19.33 L585.93 21.49 L586.13 26.80 L586.33 26.97 L586.53 19.40 L586.73 18.85 L586.93 21.67 L587.13 26.98 L587.33 26.14 L587.53 17.93 L587.73 7.49 L587.93 35.90 L588.13 27.84 L588.33 23.18 L588.53 23.69 L588.73 17.85 L588.93 14.60 L589.13 19.12 L589.33 19.86 L589.53 17.12 L589.73 11.48 L589.93 19.23 L590.13 25.25 L590.33 17.98 L590.53 21.48 L590.73 7.27 L590.93 19.91 L591.13 20.49 L591.33 12.98 L591.53 9.56 L591.73 24.10 L591.93 15.79 L592.13 24.61 L592.33 18.43 L592.53 25.52 L592.73 18.97 L592.93 11.01 L593.13 20.67 L593.33 19.02 L593.53 25.73 L593.73 18.17 L593.93 18.56 L594.12 27.09 L594.32 29.18 L594.52 26.40 L594.72 28.29 L594.92 24.31 L595.12 26.46 L595.32 27.19 L595.52 23.95 L595.72 21.62 L595.92 22.15 L596.12 37.61 L596.32 21.27 L596.52 19.55 L596.72 18.67 L596.92 20.93 L597.12 22.82 L597.32 13.40 L597.52 7.58 L597.72 23.15 L597.92 10.13 L598.12 22.89 L598.32 22.08 L598.52 29.01 L598.72 32.56 L598.92 23.62 L599.12 17.29 L599.32 13.03 L599.52 15.65 L599.72 21.35 L599.92 6.86 L600.12 21.58 L600.32 20.98 L600.52 25.48 L600.72 18.75 L600.92 21.75 L601.12 15.98 L601.32 17.84 L601.52 8.83 L601.72 21.87 L601.92 31.68 L602.12 22.13 L602.32 23.53 L602.52 14.24 L602.72 30.86 L602.92 15.70 L603.12 26.51 L603.32 21.72 L603.52 14.36 L603.72 28.05 L603.92 21.07 L604.12 22.19 L604.32 24.07 L604.52 20.80 L604.72 18.32 L604.92 24.16 L605.12 18.13 L605.32 21.37 L605.52 16.30 L605.72 10.60 L605.92 16.25 L606.12 17.47 L606.32 21.00 L606.52 29.09 L606.72 9.18 L606.92 21.77 L607.12 5.54 L607.32 13.62 L607.52 17.35 L607.72 5.23 L607.92 7.96 L608.12 21.91 L608.32 21.38 L608.52 20.04 L608.72 15.25 L608.92 35.79 L609.12 19.70 L609.32 14.82 L609.52 32.47 L609.72 25.07 L609.92 18.21 L610.12 29.08 L610.32 21.87 L610.52 25.25 L610.72 22.41 L610.92 13.60 L611.12 27.52 L611.32 21.87 L611.52 13.71 L611.72 15.42 L611.92 27.40 L612.12 18.15 L612.32 21.05 L612.52 25.29 L612.72 21.61 L612.92 10.05 L613.12 25.15 L613.32 27.25 L613.52 26.75 L613.72 31.98 L613.92 23.23 L614.12 26.11 L614.32 31.78 L614.52 18.63 L614.72 32.81 L614.92 32.79 L615.12 26.13 L615.32 33.52 L615.52 26.60 L615.72 14.46 L615.92 28.59 L616.12 22.90 L616.32 23.51 L616.52 21.69 L616.72 30.14 L616.92 24.47 L617.12 15.70 L617.32 23.99 L617.52 25.70 L617.72 15.47 L617.92 17.51 L618.12 17.86 L618.32 16.28 L618.52 23.00 L618.72 27.70 L618.92 33.85 L619.12 28.93 L619.32 27.71 L619.52 28.56 L619.72 29.91 L619.92 17.85 L620.12 25.38 L620.32 22.76 L620.52 19.57 L620.72 17.27 L620.92 16.91 L621.12 18.58 L621.32 11.75 L621.52 24.14 L621.72 20.29 L621.92 21.19 L622.12 22.83 L622.32 25.55 L622.52 16.24 L622.72 19.67 L622.92 9.04 L623.12 4.71 L623.32 6.67 L623.52 31.27 L623.72 7.46 L623.92 23.73 L624.11 30.84 L624.31 17.13 L624.51 31.91 L624.71 33.45 L624.91 27.05 L625.11 37.17 L625.31 24.76 L625.51 15.17 L625.71 24.05 L625.91 17.19 L626.11 11.09 L626.31 11.27 L626.51 36.76 L626.71 16.49 L626.91 20.16 L627.11 15.61 L627.31 21.31 L627.51 18.63 L627.71 17.41 L627.91 11.71 L628.11 10.27 L628.31 15.03 L628.51 22.41 L628.71 35.12 L628.91 27.83 L629.11 33.32 L629.31 23.78 L629.51 19.70 L629.71 10.86 L629.91 20.33 L630.11 5.01 L630.31 18.16 L630.51 31.93 L630.71 22.65 L630.91 28.36 L631.11 17.57 L631.31 10.46 L631.51 16.87 L631.71 17.45 L631.91 28.91 L632.11 34.42 L632.31 14.98 L632.51 17.71 L632.71 19.23 L632.91 17.77 L633.11 11.36 L633.31 20.93 L633.51 22.86 L633.71 23.03 L633.91 11.60 L634.11 19.43 L634.31 7.76 L634.51 26.80 L634.71 12.92 L634.91 18.27 L635.11 17.01 L635.31 16.04 L635.51 12.62 L635.71 7.52 L635.91 32.68 L636.11 22.05 L636.31 22.12 L636.51 35.31 L636.71 19.48 L636.91 24.18 L637.11 20.35 L637.31 28.74 L637.51 23.80 L637.71 22.45 L637.91 18.34 L638.11 22.19 L638.31 28.56 L638.51 5.18 L638.71 19.23 L638.91 17.14 L639.11 17.98 L639.31 5.87 L639.51 25.42 L639.71 14.02 L639.91 18.49 L640.11 16.48 L640.31 8.04 L640.51 16.88 L640.71 6.78 L640.91 13.28 L641.11 17.81 L641.31 20.05 L641.51 20.48 L641.71 19.08 L641.91 35.56 L642.11 23.22 L642.31 11.20 L642.51 15.61 L642.71 15.28 L642.91 18.75 L643.11 15.65 L643.31 13.82 L643.51 31.99 L643.71 20.33 L643.91 17.56 L644.11 18.17 L644.31 18.42 L644.51 30.12 L644.71 23.46 L644.91 28.15 L645.11 -2.71 L645.31 22.34 L645.51 27.68 L645.71 34.33 L645.91 20.17 L646.11 7.45 L646.31 24.24 L646.51 15.57 L646.71 6.87 L646.91 15.42 L647.11 27.63 L647.31 28.69 L647.51 25.18 L647.71 12.26 L647.91 38.28 L648.11 11.36 L648.31 19.33 L648.51 9.33 L648.71 29.51 L648.91 23.14 L649.11 26.37 L649.31 20.53 L649.51 19.37 L649.71 21.14 L649.91 6.04 L650.11 27.13 L650.31 26.54 L650.51 16.97 L650.71 19.75 L650.91 22.04 L651.11 31.35 L651.31 23.00 L651.51 20.14 L651.71 16.09 L651.91 8.79 L652.11 15.44 L652.31 20.34 L652.51 17.96 L652.71 20.36 L652.91 25.28 L653.11 23.00 L653.31 21.82 L653.51 24.62 L653.71 21.16 L653.91 19.56 L654.10 23.24 L654.30 7.06 L654.50 28.99 L654.70 10.27 L654.90 25.93 L655.10 19.85 L655.30 27.92 L655.50 20.01 L655.70 12.79 L655.90 27.66 L656.10 21.10 L656.30 20.61 L656.50 20.33 L656.70 27.12 L656.90 25.76 L657.10 21.42 L657.30 8.26 L657.50 16.73 L657.70 20.49 L657.90 32.98 L658.10 22.55 L658.30 19.02 L658.50 28.55 L658.70 18.87 L658.90 19.48 L659.10 20.84 L659.30 8.58 L659.50 26.77 L659.70 22.82 L659.90 17.57 L660.10 11.19 L660.30 21.24 L660.50 30.03 L660.70 14.88 L660.90 11.76 L661.10 22.75 L661.30 7.77 L661.50 3.12 L661.70 16.31 L661.90 14.48 L662.10 17.55 L662.30 15.50 L662.50 22.07 L662.70 17.95 L662.90 15.13 L663.10 16.18 L663.30 24.28 L663.50 26.71 L663.70 26.30 L663.90 24.76 L664.10 -5.02 L664.30 12.08 L664.50 17.20 L664.70 21.08 L664.90 7.47 L665.10 30.15 L665.30 21.79 L665.50 14.88 L665.70 20.74 L665.90 16.92 L666.10 13.83 L666.30 23.28 L666.50 16.10 L666.70 8.93 L666.90 14.74 L667.10 18.62 L667.30 11.39 L667.50 28.91 L667.70 11.31 L667.90 32.62 L668.10 26.16 L668.30 12.40 L668.50 20.42 L668.70 28.31 L668.90 18.01" stroke="#ff7f0e"/>
<path d="M69.30 20.63 L72.85 21.05 L76.40 21.76 L79.94 19.77 L83.49 20.58 L87.04 20.09 L90.59 19.81 L94.14 19.46 L97.68 19.29 L101.23 19.81 L104.78 19.39 L108.33 18.36 L111.88 19.53 L115.42 17.82 L118.97 18.69 L122.52 18.25 L126.07 18.63 L129.61 18.02 L133.16 18.25 L136.71 17.51 L140.26 17.93 L143.81 17.47 L147.35 18.37 L150.90 16.68 L154.45 17.64 L158.00 17.14 L161.55 16.88 L165.09 16.37 L168.64 16.87 L172.19 15.68 L175.74 15.66 L179.29 16.79 L182.83 15.39 L186.38 17.08 L189.93 16.00 L193.48 16.24 L197.03 16.07 L200.57 16.22 L204.12 15.74 L207.67 15.62 L211.22 15.71 L214.77 16.39 L218.31 16.40 L221.86 16.44 L225.41 15.81 L228.96 15.38 L232.50 14.34 L236.05 15.85 L239.60 15.95 L243.15 15.04 L246.70 15.85 L250.24 16.15 L253.79 15.26 L257.34 15.92 L260.89 15.34 L264.44 13.76 L267.98 14.67 L271.53 14.67 L275.08 15.36 L278.63 14.23 L282.18 14.52 L285.72 14.05 L289.27 14.76 L292.82 14.81 L296.37 15.53 L299.92 15.34 L303.46 14.77 L307.01 14.79 L310.56 14.64 L314.11 14.60 L317.66 15.84 L321.20 12.16 L324.75 14.21 L328.30 14.62 L331.85 15.34 L335.39 13.21 L338.94 14.54 L342.49 15.00 L346.04 13.69 L349.59 12.21 L353.13 13.69 L356.68 12.81 L360.23 14.64 L363.78 13.07 L367.33 15.75 L370.87 14.02 L374.42 12.99 L377.97 13.26 L381.52 12.59 L385.07 14.15 L388.61 15.33 L392.16 13.41 L395.71 14.66 L399.26 12.51 L402.81 13.90 L406.35 16.18 L409.90 11.83 L413.45 14.90 L417.00 14.82 L420.54 11.11 L424.09 11.61 L427.64 12.14 L431.19 14.54 L434.74 12.77 L438.28 13.09 L441.83 14.21 L445.38 13.45 L448.93 13.60 L452.48 12.87 L456.02 14.82 L459.57 12.24 L463.12 15.63 L466.67 12.83 L470.22 12.17 L473.76 14.24 L477.31 13.97 L480.86 10.38 L484.41 13.64 L487.96 11.27 L491.50 12.04 L495.05 14.54 L498.60 11.96 L502.15 13.88 L505.70 12.71 L509.24 16.48 L512.79 13.16 L516.34 11.35 L519.89 11.45 L523.43 11.75 L526.98 13.54 L530.53 13.31 L534.08 15.09 L537.63 13.60 L541.17 13.52 L544.72 13.88 L548.27 12.97 L551.82 13.80 L555.37 14.81 L558.91 14.82 L562.46 11.93 L566.01 9.14 L569.56 11.16 L573.11 13.56 L576.65 6.94 L580.20 11.56 L583.75 13.70 L587.30 11.07 L590.85 9.52 L594.39 16.87 L597.94 15.90 L601.49 11.44 L605.04 15.72 L608.59 15.64 L612.13 8.74 L615.68 19.61 L619.23 9.08 L622.78 10.98 L626.32 8.41 L629.87 11.89 L633.42 7.52 L636.97 11.52 L640.52 14.95 L644.06 12.14 L647.61 10.53 L651.16 16.52 L654.71 8.28 L658.26 14.61 L661.80 10.19 L665.35 11.98 L668.90 11.30" stroke="#2ca02c"/>
<path d="M69.30 281.33 L69.50 281.01 L69.70 280.31 L69.90 280.27 L70.10 280.79 L70.30 280.21 L70.50 279.28 L70.70 279.41 L70.90 279.23 L71.10 279.49 L71.30 279.47 L71.50 279.21 L71.70 278.50 L71.90 278.78 L72.10 277.61 L72.30 276.35 L72.50 278.16 L72.70 276.84 L72.90 277.15 L73.10 276.77 L73.30 277.88 L73.50 276.39 L73.70 277.25 L73.90 276.52 L74.10 275.79 L74.30 275.36 L74.50 276.62 L74.70 276.37 L74.90 276.46 L75.10 277.02 L75.30 275.72 L75.50 275.53 L75.70 275.05 L75.90 275.02 L76.10 274.51 L76.30 273.93 L76.50 275.80 L76.70 272.85 L76.90 274.17 L77.10 274.11 L77.30 273.71 L77.50 272.72 L77.70 273.08 L77.90 272.70 L78.10 272.06 L78.30 272.61 L78.50 272.16 L78.70 271.86 L78.90 272.56 L79.10 271.11 L79.30 272.00 L79.50 271.05 L79.70 271.60 L79.90 271.15 L80.10 271.08 L80.30 270.01 L80.50 269.96 L80.70 269.71 L80.90 270.26 L81.10 270.48 L81.30 270.53 L81.50 269.19 L81.70 269.42 L81.90 267.99 L82.10 267.36 L82.30 268.15 L82.50 268.10 L82.70 267.26 L82.90 266.90 L83.10 268.39 L83.30 267.22 L83.50 266.38 L83.70 269.11 L83.90 267.34 L84.10 266.79 L84.29 267.32 L84.49 266.07 L84.69 267.60 L84.89 265.11 L85.09 265.08 L85.29 265.75 L85.49 265.09 L85.69 266.49 L85.89 264.08 L86.09 264.53 L86.29 265.04 L86.49 265.09 L86.69 265.22 L86.89 264.54 L87.09 265.71 L87.29 263.54 L87.49 263.83 L87.69 264.14 L87.89 263.08 L88.09 262.90 L88.29 262.58 L88.49 262.25 L88.69 261.70 L88.89 261.93 L89.09 261.00 L89.29 262.23 L89.49 260.58 L89.69 263.10 L89.89 262.64 L90.09 262.00 L90.29 260.83 L90.49 260.36 L90.69 261.51 L90.89 260.55 L91.09 260.64 L91.29 259.49 L91.49 260.63 L91.69 259.05 L91.89 259.53 L92.09 257.96 L92.29 258.58 L92.49 259.25 L92.69 258.34 L92.89 258.16 L93.09 258.89 L93.29 258.05 L93.49 258.85 L93.69 255.91 L93.89 257.96 L94.09 257.72 L94.29 255.99 L94.49 255.98 L94.69 257.43 L94.89 255.77 L95.09 255.91 L95.29 256.65 L95.49 255.75 L95.69 256.18 L95.89 254.97 L96.09 255.66 L96.29 256.06 L96.49 255.30 L96.69 253.20 L96.89 255.17 L97.09 254.53 L97.29 253.61 L97.49 255.17 L97.69 252.60 L97.89 255.16 L98.09 253.06 L98.29 254.55 L98.49 253.14 L98.69 251.97 L98.89 252.87 L99.09 252.86 L99.29 252.83 L99.49 253.04 L99.69 251.36 L99.89 252.24 L100.09 252.24 L100.29 251.28 L100.49 250.59 L100.69 250.39 L100.89 251.51 L101.09 251.36 L101.29 249.93 L101.49 249.35 L101.69 251.15 L101.89 248.82 L102.09 249.95 L102.29 249.02 L102.49 248.11 L102.69 249.37 L102.89 248.95 L103.09 250.02 L103.29 250.48 L103.49 248.40 L103.69 249.16 L103.89 248.99 L104.09 247.59 L104.29 247.15 L104.49 248.88 L104.69 247.17 L104.89 247.25 L105.09 246.86 L105.29 246.80 L105.49 246.26 L105.69 247.13 L105.89 247.34 L106.09 245.89 L106.29 244.93 L106.49 245.86 L106.69 244.48 L106.89 244.96 L107.09 246.24 L107.29 246.91 L107.49 245.21 L107.69 243.91 L107.89 245.17 L108.09 242.62 L108.29 243.65 L108.49 245.21 L108.69 244.42 L108.89 242.57 L109.09 242.17 L109.29 243.97 L109.49 243.08 L109.69 242.47 L109.89 243.08 L110.09 242.13 L110.29 240.88 L110.49 242.86 L110.69 241.53 L110.89 241.07 L111.09 240.63 L111.29 241.70 L111.49 240.69 L111.69 241.64 L111.89 240.76 L112.09 241.65 L112.29 240.31 L112.49 239.92 L112.69 238.70 L112.89 239.21 L113.09 240.48 L113.29 242.16 L113.49 238.56 L113.69 238.55 L113.89 239.47 L114.09 239.41 L114.28 238.31 L114.48 238.73 L114.68 237.21 L114.88 238.08 L115.08 238.86 L115.28 239.27 L115.48 237.66 L115.68 237.41 L115.88 237.80 L116.08 238.15 L116.28 237.47 L116.48 236.30 L116.68 237.01 L116.88 237.33 L117.08 235.80 L117.28 235.12 L117.48 236.43 L117.68 236.14 L117.88 236.44 L118.08 235.55 L118.28 234.78 L118.48 234.77 L118.68 234.11 L118.88 234.00 L119.08 234.13 L119.28 234.02 L119.48 235.13 L119.68 233.05 L119.88 233.83 L120.08 233.20 L120.28 234.71 L120.48 233.53 L120.68 232.83 L120.88 233.62 L121.08 232.83 L121.28 232.20 L121.48 233.66 L121.68 232.81 L121.88 233.45 L122.08 232.81 L122.28 232.31 L122.48 231.60 L122.68 230.43 L122.88 231.71 L123.08 231.01 L123.28 231.32 L123.48 230.57 L123.68 229.83 L123.88 229.39 L124.08 230.60 L124.28 230.91 L124.48 229.42 L124.68 229.85 L124.88 230.43 L125.08 228.42 L125.28 228.64 L125.48 227.81 L125.68 229.52 L125.88 228.58 L126.08 227.80 L126.28 226.62 L126.48 227.66 L126.68 228.44 L126.88 227.19 L127.08 226.89 L127.28 227.58 L127.48 225.84 L127.68 226.72 L127.88 226.99 L128.08 225.65 L128.28 225.42 L128.48 226.13 L128.68 225.65 L128.88 225.34 L129.08 225.52 L129.28 225.34 L129.48 224.20 L129.68 224.22 L129.88 224.96 L130.08 225.33 L130.28 225.33 L130.48 223.30 L130.68 224.73 L130.88 224.25 L131.08 223.40 L131.28 223.64 L131.48 223.73 L131.68 224.34 L131.88 221.76 L132.08 222.95 L132.28 222.14 L132.48 221.88 L132.68 222.82 L132.88 222.35 L133.08 220.61 L133.28 221.03 L133.48 221.26 L133.68 219.68 L133.88 221.40 L134.08 220.41 L134.28 220.41 L134.48 220.36 L134.68 221.40 L134.88 219.71 L135.08 219.18 L135.28 220.75 L135.48 218.65 L135.68 218.43 L135.88 217.50 L136.08 219.39 L136.28 218.50 L136.48 218.47 L136.68 218.01 L136.88 217.55 L137.08 216.80 L137.28 216.60 L137.48 217.43 L137.68 216.96 L137.88 218.04 L138.08 215.80 L138.28 215.83 L138.48 215.17 L138.68 217.01 L138.88 214.58 L139.08 216.08 L139.28 216.45 L139.48 214.89 L139.68 215.43 L139.88 212.78 L140.08 214.07 L140.28 212.77 L140.48 214.13 L140.68 213.78 L140.88 212.91 L141.08 214.17 L141.28 213.45 L141.48 212.48 L141.68 212.28 L141.88 211.25 L142.08 212.14 L142.28 213.91 L142.48 211.26 L142.68 212.02 L142.88 210.97 L143.08 211.92 L143.28 211.40 L143.48 210.60 L143.68 209.04 L143.88 209.93 L144.08 211.20 L144.27 209.73 L144.47 210.27 L144.67 209.09 L144.87 207.68 L145.07 209.45 L145.27 209.15 L145.47 208.15 L145.67 208.12 L145.87 208.48 L146.07 207.49 L146.27 208.10 L146.47 207.41 L146.67 205.31 L146.87 207.03 L147.07 206.43 L147.27 206.01 L147.47 206.88 L147.67 205.89 L147.87 206.58 L148.07 206.86 L148.27 205.82 L148.47 204.13 L148.67 204.64 L148.87 205.87 L149.07 204.63 L149.27 203.94 L149.47 204.37 L149.67 204.68 L149.87 204.26 L150.07 204.39 L150.27 202.88 L150.47 203.16 L150.67 202.97 L150.87 202.97 L151.07 200.93 L151.27 202.36 L151.47 201.18 L151.67 203.39 L151.87 203.33 L152.07 203.23 L152.27 202.25 L152.47 200.90 L152.67 201.97 L152.87 200.74 L153.07 201.25 L153.27 199.70 L153.47 199.77 L153.67 200.51 L153.87 201.47 L154.07 199.66 L154.27 201.49 L154.47 201.73 L154.67 197.92 L154.87 198.84 L155.07 197.81 L155.27 198.33 L155.47 197.77 L155.67 197.99 L155.87 198.72 L156.07 198.49 L156.27 197.68 L156.47 197.25 L156.67 197.15 L156.87 196.96 L157.07 197.16 L157.27 196.45 L157.47 196.70 L157.67 194.87 L157.87 196.57 L158.07 197.24 L158.27 195.63 L158.47 193.99 L158.67 196.29 L158.87 194.58 L159.07 191.97 L159.27 194.29 L159.47 194.84 L159.67 194.45 L159.87 195.04 L160.07 194.29 L160.27 193.64 L160.47 191.54 L160.67 192.14 L160.87 193.12 L161.07 193.39 L161.27 191.64 L161.47 191.83 L161.67 192.63 L161.87 190.27 L162.07 190.04 L162.27 191.43 L162.47 191.68 L162.67 190.82 L162.87 188.97 L163.07 190.91 L163.27 189.48 L163.47 191.11 L163.67 190.23 L163.87 190.38 L164.07 190.55 L164.27 189.28 L164.47 190.35 L164.67 190.55 L164.87 189.58 L165.07 190.26 L165.27 188.27 L165.47 189.51 L165.67 188.73 L165.87 187.38 L166.07 188.04 L166.27 187.43 L166.47 187.23 L166.67 187.64 L166.87 188.36 L167.07 186.90 L167.27 187.13 L167.47 185.47 L167.67 186.75 L167.87 187.54 L168.07 187.04 L168.27 186.55 L168.47 185.44 L168.67 184.84 L168.87 185.48 L169.07 184.14 L169.27 184.05 L169.47 185.91 L169.67 183.99 L169.87 186.36 L170.07 183.15 L170.27 184.72 L170.47 183.04 L170.67 184.12 L170.87 182.81 L171.07 183.64 L171.27 183.28 L171.47 182.83 L171.67 183.56 L171.87 184.32 L172.07 182.17 L172.27 183.39 L172.47 182.46 L172.67 182.17 L172.87 184.10 L173.07 179.80 L173.27 181.03 L173.47 179.79 L173.67 181.03 L173.87 180.94 L174.07 184.60 L174.26 181.14 L174.46 182.35 L174.66 181.70 L174.86 179.88 L175.06 180.58 L175.26 181.55 L175.46 179.95 L175.66 179.81 L175.86 179.92 L176.06 177.84 L176.26 178.33 L176.46 179.26 L176.66 179.29 L176.86 177.72 L177.06 178.12 L177.26 178.14 L177.46 177.95 L177.66 178.59 L177.86 177.86 L178.06 177.75 L178.26 176.06 L178.46 176.24 L178.66 177.40 L178.86 175.39 L179.06 177.02 L179.26 175.95 L179.46 175.64 L179.66 176.89 L179.86 175.44 L180.06 175.10 L180.26 175.12 L180.46 175.66 L180.66 178.11 L180.86 173.22 L181.06 175.10 L181.26 174.72 L181.46 175.72 L181.66 174.27 L181.86 172.06 L182.06 175.60 L182.26 173.09 L182.46 173.93 L182.66 172.49 L182.86 172.60 L183.06 173.03 L183.26 174.19 L183.46 174.02 L183.66 172.45 L183.86 173.37 L184.06 172.36 L184.26 172.67 L184.46 172.56 L184.66 172.86 L184.86 171.49 L185.06 171.81 L185.26 172.00 L185.46 171.72 L185.66 170.69 L185.86 173.02 L186.06 170.71 L186.26 171.76 L186.46 171.05 L186.66 171.91 L186.86 168.38 L187.06 172.42 L187.26 170.03 L187.46 168.86 L187.66 170.06 L187.86 172.02 L188.06 170.13 L188.26 168.25 L188.46 168.86 L188.66 170.50 L188.86 167.62 L189.06 168.69 L189.26 168.43 L189.46 170.73 L189.66 168.13 L189.86 169.58 L190.06 167.44 L190.26 167.16 L190.46 168.82 L190.66 168.29 L190.86 165.79 L191.06 168.01 L191.26 167.86 L191.46 166.45 L191.66 167.14 L191.86 167.04 L192.06 166.13 L192.26 165.89 L192.46 165.65 L192.66 165.90 L192.86 164.69 L193.06 165.84 L193.26 164.22 L193.46 165.66 L193.66 165.35 L193.86 164.24 L194.06 166.00 L194.26 166.95 L194.46 166.19 L194.66 163.31 L194.86 165.84 L195.06 164.62 L195.26 164.20 L195.46 163.50 L195.66 163.95 L195.86 165.22 L196.06 164.22 L196.26 163.10 L196.46 162.69 L196.66 162.80 L196.86 163.67 L197.06 164.83 L197.26 161.70 L197.46 162.63 L197.66 162.10 L197.86 161.57 L198.06 162.60 L198.26 162.61 L198.46 160.45 L198.66 160.69 L198.86 162.83 L199.06 161.78 L199.26 161.85 L199.46 160.65 L199.66 160.63 L199.86 161.34 L200.06 160.21 L200.26 159.44 L200.46 160.43 L200.66 161.21 L200.86 159.07 L201.06 161.08 L201.26 160.57 L201.46 158.81 L201.66 159.56 L201.86 159.36 L202.06 159.91 L202.26 159.80 L202.46 157.62 L202.66 157.43 L202.86 159.74 L203.06 158.65 L203.26 158.82 L203.46 158.58 L203.66 159.68 L203.86 156.70 L204.06 158.94 L204.25 156.81 L204.45 158.27 L204.65 158.76 L204.85 155.79 L205.05 157.50 L205.25 156.65 L205.45 156.49 L205.65 156.69 L205.85 155.41 L206.05 155.36 L206.25 156.90 L206.45 156.96 L206.65 155.34 L206.85 154.26 L207.05 158.07 L207.25 156.65 L207.45 155.73 L207.65 154.13 L207.85 154.46 L208.05 155.18 L208.25 153.78 L208.45 156.33 L208.65 154.64 L208.85 154.77 L209.05 153.13 L209.25 153.12 L209.45 153.10 L209.65 154.08 L209.85 153.37 L210.05 153.20 L210.25 153.69 L210.45 153.46 L210.65 154.64 L210.85 152.73 L211.05 151.72 L211.25 152.64 L211.45 154.06 L211.65 151.78 L211.85 152.28 L212.05 151.70 L212.25 152.37 L212.45 152.07 L212.65 150.80 L212.85 151.27 L213.05 152.37 L213.25 152.40 L213.45 152.07 L213.65 151.87 L213.85 150.46 L214.05 150.28 L214.25 151.51 L214.45 149.14 L214.65 150.18 L214.85 148.12 L215.05 149.56 L215.25 149.07 L215.45 148.39 L215.65 150.16 L215.85 148.61 L216.05 148.86 L216.25 148.84 L216.45 148.18 L216.65 150.35 L216.85 148.16 L217.05 148.76 L217.25 147.01 L217.45 147.76 L217.65 147.78 L217.85 147.65 L218.05 147.21 L218.25 147.86 L218.45 149.24 L218.65 147.28 L218.85 147.13 L219.05 146.72 L219.25 149.73 L219.45 148.59 L219.65 147.31 L219.85 147.33 L220.05 145.66 L220.25 146.12 L220.45 146.37 L220.65 146.13 L220.85 144.94 L221.05 144.88 L221.25 146.14 L221.45 145.78 L221.65 143.01 L221.85 145.26 L222.05 146.40 L222.25 144.17 L222.45 145.00 L222.65 143.00 L222.85 145.36 L223.05 143.09 L223.25 142.80 L223.45 143.68 L223.65 146.49 L223.85 143.07 L224.05 142.22 L224.25 143.97 L224.45 143.57 L224.65 145.01 L224.85 141.64 L225.05 141.14 L225.25 142.41 L225.45 143.04 L225.65 142.87 L225.85 143.54 L226.05 140.54 L226.25 141.14 L226.45 141.77 L226.65 142.71 L226.85 142.16 L227.05 141.02 L227.25 140.21 L227.45 142.19 L227.65 142.13 L227.85 143.96 L228.05 140.59 L228.25 142.47 L228.45 139.15 L228.65 139.76 L228.85 139.46 L229.05 139.56 L229.25 138.96 L229.45 139.19 L229.65 139.60 L229.85 139.02 L230.05 140.13 L230.25 139.15 L230.45 139.10 L230.65 140.63 L230.85 139.18 L231.05 138.86 L231.25 138.52 L231.45 138.47 L231.65 138.91 L231.85 137.21 L232.05 139.29 L232.25 139.64 L232.45 139.02 L232.65 137.00 L232.85 135.60 L233.05 136.78 L233.25 137.32 L233.45 137.96 L233.65 136.66 L233.85 136.38 L234.05 138.34 L234.24 135.68 L234.44 137.54 L234.64 137.21 L234.84 134.50 L235.04 136.21 L235.24 135.11 L235.44 134.52 L235.64 133.33 L235.84 133.52 L236.04 135.68 L236.24 134.61 L236.44 135.24 L236.64 133.54 L236.84 134.27 L237.04 134.19 L237.24 132.56 L237.44 132.29 L237.64 134.60 L237.84 134.12 L238.04 132.72 L238.24 133.56 L238.44 134.31 L238.64 135.55 L238.84 132.22 L239.04 133.85 L239.24 135.48 L239.44 132.93 L239.64 134.44 L239.84 129.52 L240.04 134.15 L240.24 132.29 L240.44 129.94 L240.64 132.95 L240.84 133.13 L241.04 133.18 L241.24 133.03 L241.44 131.43 L241.64 130.44 L241.84 130.64 L242.04 131.01 L242.24 131.40 L242.44 130.20 L242.64 130.69 L242.84 131.54 L243.04 130.74 L243.24 132.97 L243.44 132.66 L243.64 128.55 L243.84 129.11 L244.04 128.07 L244.24 128.10 L244.44 130.03 L244.64 128.03 L244.84 127.82 L245.04 128.62 L245.24 129.78 L245.44 128.23 L245.64 128.09 L245.84 129.50 L246.04 128.82 L246.24 128.66 L246.44 129.12 L246.64 126.58 L246.84 127.94 L247.04 126.76 L247.24 128.66 L247.44 128.26 L247.64 125.84 L247.84 128.62 L248.04 125.40 L248.24 128.14 L248.44 126.81 L248.64 125.34 L248.84 124.90 L249.04 125.76 L249.24 125.97 L249.44 124.98 L249.64 126.42 L249.84 123.84 L250.04 125.44 L250.24 125.31 L250.44 122.84 L250.64 125.42 L250.84 123.32 L251.04 121.64 L251.24 123.85 L251.44 124.19 L251.64 125.48 L251.84 123.60 L252.04 125.92 L252.24 125.74 L252.44 125.17 L252.64 125.33 L252.84 123.97 L253.04 122.69 L253.24 124.08 L253.44 124.35 L253.64 123.29 L253.84 122.55 L254.04 120.73 L254.24 123.45 L254.44 122.91 L254.64 120.67 L254.84 122.32 L255.04 122.98 L255.24 121.79 L255.44 122.80 L255.64 122.64 L255.84 119.65 L256.04 121.03 L256.24 121.91 L256.44 122.33 L256.64 122.84 L256.84 118.43 L257.04 120.69 L257.24 121.57 L257.44 122.10 L257.64 122.58 L257.84 119.06 L258.04 119.67 L258.24 118.66 L258.44 120.96 L258.64 118.06 L258.84 121.20 L259.04 120.75 L259.24 120.05 L259.44 116.47 L259.64 118.29 L259.84 120.03 L260.04 117.09 L260.24 118.51 L260.44 118.57 L260.64 119.75 L260.84 118.84 L261.04 118.71 L261.24 117.66 L261.44 118.12 L261.64 117.82 L261.84 118.85 L262.04 117.53 L262.24 119.02 L262.44 115.29 L262.64 119.01 L262.84 117.08 L263.04 118.69 L263.24 117.19 L263.44 118.10 L263.64 118.84 L263.84 116.00 L264.04 116.73 L264.23 116.29 L264.43 116.68 L264.63 114.13 L264.83 115.95 L265.03 115.73 L265.23 114.90 L265.43 115.58 L265.63 113.67 L265.83 117.50 L266.03 116.12 L266.23 117.94 L266.43 114.12 L266.63 113.61 L266.83 115.46 L267.03 112.72 L267.23 115.17 L267.43 113.80 L267.63 114.19 L267.83 114.88 L268.03 114.49 L268.23 116.85 L268.43 115.07 L268.63 112.35 L268.83 115.34 L269.03 112.07 L269.23 113.91 L269.43 111.98 L269.63 112.45 L269.83 115.27 L270.03 112.61 L270.23 112.38 L270.43 112.39 L270.63 112.63 L270.83 114.94 L271.03 111.23 L271.23 111.05 L271.43 113.44 L271.63 110.34 L271.83 111.94 L272.03 113.90 L272.23 112.24 L272.43 111.47 L272.63 111.05 L272.83 110.66 L273.03 111.01 L273.23 111.92 L273.43 113.36 L273.63 112.88 L273.83 110.64 L274.03 110.31 L274.23 112.21 L274.43 108.60 L274.63 110.42 L274.83 110.48 L275.03 109.28 L275.23 109.35 L275.43 111.13 L275.63 108.22 L275.83 109.17 L276.03 109.44 L276.23 110.37 L276.43 108.23 L276.63 111.60 L276.83 109.53 L277.03 109.51 L277.23 109.27 L277.43 108.73 L277.63 108.20 L277.83 111.12 L278.03 109.69 L278.23 109.15 L278.43 110.63 L278.63 108.11 L278.83 109.93 L279.03 108.97 L279.23 107.58 L279.43 109.84 L279.63 106.53 L279.83 109.51 L280.03 107.22 L280.23 108.98 L280.43 110.29 L280.63 109.03 L280.83 107.27 L281.03 108.00 L281.23 107.43 L281.43 106.18 L281.63 106.19 L281.83 107.76 L282.03 108.38 L282.23 104.97 L282.43 107.33 L282.63 108.08 L282.83 107.43 L283.03 105.73 L283.23 108.60 L283.43 105.25 L283.63 107.87 L283.83 109.17 L284.03 103.79 L284.23 107.05 L284.43 107.05 L284.63 106.84 L284.83 105.31 L285.03 105.89 L285.23 104.22 L285.43 106.38 L285.63 106.89 L285.83 105.05 L286.03 104.58 L286.23 105.16 L286.43 105.76 L286.63 105.79 L286.83 105.46 L287.03 105.64 L287.23 103.52 L287.43 101.35 L287.63 106.21 L287.83 107.32 L288.03 103.04 L288.23 104.07 L288.43 105.42 L288.63 106.31 L288.83 105.78 L289.03 106.64 L289.23 104.58 L289.43 105.20 L289.63 105.11 L289.83 103.78 L290.03 106.14 L290.23 105.20 L290.43 105.65 L290.63 103.52 L290.83 105.57 L291.03 102.37 L291.23 104.46 L291.43 99.87 L291.63 102.20 L291.83 104.74 L292.03 102.88 L292.23 103.74 L292.43 100.95 L292.63 105.65 L292.83 104.14 L293.03 103.12 L293.23 103.71 L293.43 103.50 L293.63 105.06 L293.83 103.17 L294.03 100.53 L294.22 102.29 L294.42 104.55 L294.62 103.39 L294.82 101.80 L295.02 103.29 L295.22 102.46 L295.42 103.13 L295.62 99.70 L295.82 100.67 L296.02 102.98 L296.22 101.53 L296.42 102.33 L296.62 104.71 L296.82 101.15 L297.02 101.92 L297.22 100.61 L297.42 100.42 L297.62 101.18 L297.82 98.98 L298.02 97.89 L298.22 103.16 L298.42 100.81 L298.62 102.62 L298.82 100.99 L299.02 100.94 L299.22 101.67 L299.42 101.66 L299.62 98.59 L299.82 102.25 L300.02 98.78 L300.22 100.52 L300.42 104.11 L300.62 100.16 L300.82 102.56 L301.02 99.33 L301.22 100.74 L301.42 99.78 L301.62 100.27 L301.82 98.19 L302.02 98.00 L302.22 99.89 L302.42 96.81 L302.62 97.86 L302.82 100.11 L303.02 98.05 L303.22 97.53 L303.42 97.09 L303.62 98.99 L303.82 98.10 L304.02 98.82 L304.22 98.20 L304.42 101.35 L304.62 97.64 L304.82 95.13 L305.02 98.34 L305.22 98.08 L305.42 98.24 L305.62 95.34 L305.82 99.62 L306.02 97.68 L306.22 97.57 L306.42 95.02 L306.62 98.23 L306.82 97.28 L307.02 99.46 L307.22 96.54 L307.42 95.14 L307.62 97.25 L307.82 95.48 L308.02 97.54 L308.22 95.04 L308.42 96.49 L308.62 96.24 L308.82 96.47 L309.02 95.61 L309.22 95.04 L309.42 96.17 L309.62 95.24 L309.82 96.34 L310.02 95.57 L310.22 92.27 L310.42 95.73 L310.62 98.01 L310.82 96.16 L311.02 96.55 L311.22 96.23 L311.42 94.64 L311.62 93.15 L311.82 96.56 L312.02 96.87 L312.22 95.99 L312.42 95.67 L312.62 95.54 L312.82 94.76 L313.02 95.17 L313.22 94.66 L313.42 95.09 L313.62 92.92 L313.82 93.35 L314.02 95.23 L314.22 93.66 L314.42 90.15 L314.62 94.25 L314.82 90.20 L315.02 97.03 L315.22 94.98 L315.42 94.82 L315.62 92.53 L315.82 91.68 L316.02 93.11 L316.22 93.41 L316.42 92.02 L316.62 93.47 L316.82 94.27 L317.02 94.04 L317.22 91.24 L317.42 89.29 L317.62 92.80 L317.82 91.62 L318.02 93.38 L318.22 95.28 L318.42 95.20 L318.62 92.86 L318.82 94.15 L319.02 94.96 L319.22 92.22 L319.42 92.51 L319.62 93.40 L319.82 91.83 L320.02 90.97 L320.22 90.47 L320.42 91.66 L320.62 90.52 L320.82 92.82 L321.02 90.84 L321.22 93.78 L321.42 93.27 L321.62 89.06 L321.82 92.89 L322.02 90.31 L322.22 93.21 L322.42 91.69 L322.62 90.66 L322.82 91.79 L323.02 89.63 L323.22 91.05 L323.42 91.06 L323.62 90.07 L323.82 90.90 L324.02 88.46 L324.21 91.02 L324.41 87.93 L324.61 90.97 L324.81 90.63 L325.01 90.95 L325.21 88.71 L325.41 94.76 L325.61 89.11 L325.81 89.68 L326.01 88.05 L326.21 91.70 L326.41 88.37 L326.61 90.80 L326.81 87.39 L327.01 89.46 L327.21 88.21 L327.41 90.37 L327.61 88.19 L327.81 87.12 L328.01 89.30 L328.21 86.39 L328.41 86.71 L328.61 89.61 L328.81 84.97 L329.01 89.43 L329.21 87.35 L329.41 86.37 L329.61 88.30 L329.81 88.89 L330.01 86.70 L330.21 87.33 L330.41 88.95 L330.61 88.79 L330.81 87.31 L331.01 85.98 L331.21 85.59 L331.41 86.12 L331.61 88.27 L331.81 88.01 L332.01 87.46 L332.21 89.28 L332.41 86.25 L332.61 86.03 L332.81 85.94 L333.01 89.89 L333.21 82.85 L333.41 86.89 L333.61 87.09 L333.81 86.34 L334.01 90.26 L334.21 88.14 L334.41 87.36 L334.61 84.34 L334.81 86.73 L335.01 85.12 L335.21 85.78 L335.41 85.98 L335.61 84.70 L335.81 86.60 L336.01 88.29 L336.21 87.17 L336.41 85.64 L336.61 81.75 L336.81 87.04 L337.01 86.95 L337.21 84.62 L337.41 84.04 L337.61 85.99 L337.81 83.30 L338.01 86.10 L338.21 82.67 L338.41 82.88 L338.61 84.49 L338.81 81.78 L339.01 84.32 L339.21 85.21 L339.41 81.82 L339.61 85.78 L339.81 83.03 L340.01 84.96 L340.21 84.29 L340.41 83.01 L340.61 82.82 L340.81 80.62 L341.01 82.37 L341.21 82.17 L341.41 86.47 L341.61 85.27 L341.81 80.87 L342.01 84.75 L342.21 83.63 L342.41 82.47 L342.61 83.93 L342.81 84.46 L343.01 81.92 L343.21 82.39 L343.41 83.13 L343.61 80.96 L343.81 83.03 L344.01 82.48 L344.21 81.32 L344.41 80.95 L344.61 82.99 L344.81 83.97 L345.01 82.91 L345.21 80.66 L345.41 83.55 L345.61 82.42 L345.81 83.13 L346.01 84.12 L346.21 80.24 L346.41 81.59 L346.61 80.68 L346.81 80.10 L347.01 85.37 L347.21 83.33 L347.41 78.25 L347.61 82.26 L347.81 80.37 L348.01 83.47 L348.21 81.43 L348.41 80.89 L348.61 81.42 L348.81 81.80 L349.01 81.08 L349.21 80.55 L349.41 80.64 L349.61 81.80 L349.81 78.66 L350.01 80.71 L350.21 80.43 L350.41 79.68 L350.61 81.92 L350.81 78.04 L351.01 79.72 L351.21 78.74 L351.41 81.32 L351.61 79.34 L351.81 80.26 L352.01 80.83 L352.21 77.02 L352.41 80.84 L352.61 78.51 L352.81 79.38 L353.01 79.59 L353.21 81.29 L353.41 81.09 L353.61 82.99 L353.81 79.91 L354.01 78.60 L354.20 78.49 L354.40 80.64 L354.60 82.40 L354.80 79.93 L355.00 78.11 L355.20 79.69 L355.40 79.59 L355.60 79.11 L355.80 77.56 L356.00 74.04 L356.20 77.84 L356.40 80.85 L356.60 79.17 L356.80 74.43 L357.00 78.65 L357.20 75.01 L357.40 82.38 L357.60 78.84 L357.80 76.08 L358.00 79.91 L358.20 76.78 L358.40 79.34 L358.60 78.23 L358.80 75.83 L359.00 79.38 L359.20 75.40 L359.40 80.59 L359.60 78.03 L359.80 75.84 L360.00 74.24 L360.20 80.92 L360.40 80.54 L360.60 75.16 L360.80 80.82 L361.00 77.85 L361.20 77.03 L361.40 77.24 L361.60 76.83 L361.80 80.14 L362.00 77.55 L362.20 73.55 L362.40 81.30 L362.60 78.84 L362.80 74.87 L363.00 76.27 L363.20 75.13 L363.40 76.97 L363.60 77.61 L363.80 77.24 L364.00 75.52 L364.20 75.06 L364.40 78.30 L364.60 76.35 L364.80 81.02 L365.00 74.83 L365.20 77.98 L365.40 76.44 L365.60 74.76 L365.80 78.99 L366.00 76.44 L366.20 74.33 L366.40 75.44 L366.60 78.09 L366.80 73.50 L367.00 78.73 L367.20 77.27 L367.40 75.26 L367.60 78.54 L367.80 79.28 L368.00 76.90 L368.20 75.97 L368.40 79.34 L368.60 78.58 L368.80 73.58 L369.00 75.00 L369.20 74.93 L369.40 74.48 L369.60 72.19 L369.80 77.08 L370.00 75.34 L370.20 75.33 L370.40 77.98 L370.60 73.85 L370.80 74.85 L371.00 75.49 L371.20 73.97 L371.40 74.59 L371.60 76.38 L371.80 74.71 L372.00 77.48 L372.20 73.05 L372.40 75.01 L372.60 71.51 L372.80 74.23 L373.00 72.94 L373.20 77.28 L373.40 75.92 L373.60 75.38 L373.80 78.19 L374.00 77.29 L374.20 75.69 L374.40 72.61 L374.60 70.93 L374.80 73.94 L375.00 73.19 L375.20 72.50 L375.40 73.23 L375.60 70.21 L375.80 77.02 L376.00 71.22 L376.20 72.20 L376.40 74.88 L376.60 69.99 L376.80 75.57 L377.00 75.56 L377.20 72.75 L377.40 71.00 L377.60 72.29 L377.80 69.18 L378.00 76.36 L378.20 73.33 L378.40 71.51 L378.60 71.08 L378.80 74.37 L379.00 76.42 L379.20 70.10 L379.40 71.63 L379.60 68.90 L379.80 74.38 L380.00 73.16 L380.20 77.92 L380.40 72.43 L380.60 71.67 L380.80 70.99 L381.00 74.54 L381.20 68.77 L381.40 74.22 L381.60 73.01 L381.80 71.22 L382.00 70.25 L382.20 74.77 L382.40 76.61 L382.60 71.18 L382.80 73.42 L383.00 76.23 L383.20 70.63 L383.40 71.45 L383.60 69.12 L383.80 71.61 L384.00 71.72 L384.19 70.87 L384.39 70.06 L384.59 68.00 L384.79 68.52 L384.99 69.35 L385.19 73.19 L385.39 70.38 L385.59 69.51 L385.79 73.11 L385.99 72.84 L386.19 69.61 L386.39 69.87 L386.59 72.96 L386.79 72.20 L386.99 69.22 L387.19 71.81 L387.39 71.11 L387.59 73.88 L387.79 68.96 L387.99 73.24 L388.19 72.08 L388.39 68.47 L388.59 73.55 L388.79 73.15 L388.99 67.55 L389.19 75.76 L389.39 67.89 L389.59 68.41 L389.79 69.87 L389.99 72.58 L390.19 72.07 L390.39 70.32 L390.59 73.99 L390.79 71.50 L390.99 73.99 L391.19 77.60 L391.39 70.85 L391.59 63.69 L391.79 69.10 L391.99 67.45 L392.19 70.43 L392.39 70.40 L392.59 66.92 L392.79 67.07 L392.99 69.34 L393.19 69.48 L393.39 63.12 L393.59 72.47 L393.79 69.95 L393.99 69.81 L394.19 70.58 L394.39 67.04 L394.59 69.58 L394.79 72.44 L394.99 72.51 L395.19 70.84 L395.39 68.81 L395.59 67.31 L395.79 73.04 L395.99 70.86 L396.19 68.26 L396.39 63.47 L396.59 66.96 L396.79 64.02 L396.99 72.67 L397.19 69.73 L397.39 67.13 L397.59 68.38 L397.79 76.29 L397.99 72.44 L398.19 65.29 L398.39 68.63 L398.59 65.52 L398.79 64.09 L398.99 69.37 L399.19 75.64 L399.39 73.21 L399.59 68.90 L399.79 67.67 L399.99 69.27 L400.19 71.61 L400.39 64.46 L400.59 63.25 L400.79 73.95 L400.99 69.33 L401.19 73.12 L401.39 69.14 L401.59 72.70 L401.79 66.61 L401.99 69.80 L402.19 72.84 L402.39 71.27 L402.59 66.91 L402.79 70.85 L402.99 66.23 L403.19 63.95 L403.39 69.67 L403.59 72.23 L403.79 70.58 L403.99 64.28 L404.19 70.59 L404.39 69.99 L404.59 66.55 L404.79 60.44 L404.99 70.92 L405.19 70.51 L405.39 69.31 L405.59 62.53 L405.79 63.23 L405.99 70.79 L406.19 70.13 L406.39 69.16 L406.59 66.87 L406.79 68.80 L406.99 65.90 L407.19 66.57 L407.39 64.82 L407.59 68.27 L407.79 66.14 L407.99 70.37 L408.19 69.62 L408.39 64.82 L408.59 73.06 L408.79 63.78 L408.99 68.67 L409.19 70.64 L409.39 71.24 L409.59 60.20 L409.79 70.31 L409.99 70.98 L410.19 71.65 L410.39 59.97 L410.59 64.86 L410.79 66.68 L410.99 65.53 L411.19 71.24 L411.39 64.72 L411.59 70.83 L411.79 68.66 L411.99 62.11 L412.19 63.56 L412.39 65.23 L412.59 67.04 L412.79 69.93 L412.99 66.06 L413.19 69.61 L413.39 61.43 L413.59 56.54 L413.79 65.43 L413.99 68.02 L414.18 65.28 L414.38 63.10 L414.58 67.82 L414.78 72.81 L414.98 66.01 L415.18 63.89 L415.38 63.46 L415.58 72.85 L415.78 66.09 L415.98 68.25 L416.18 70.27 L416.38 69.76 L416.58 62.97 L416.78 69.30 L416.98 68.89 L417.18 67.66 L417.38 69.40 L417.58 64.01 L417.78 65.64 L417.98 64.06 L418.18 68.43 L418.38 63.54 L418.58 67.11 L418.78 61.94 L418.98 65.26 L419.18 64.39 L419.38 65.22 L419.58 66.04 L419.78 64.90 L419.98 64.74 L420.18 58.22 L420.38 69.30 L420.58 63.20 L420.78 64.49 L420.98 62.40 L421.18 68.81 L421.38 62.04 L421.58 66.99 L421.78 69.35 L421.98 70.98 L422.18 69.32 L422.38 67.26 L422.58 60.72 L422.78 69.59 L422.98 69.19 L423.18 67.90 L423.38 67.74 L423.58 65.09 L423.78 62.91 L423.98 68.65 L424.18 69.31 L424.38 60.89 L424.58 67.94 L424.78 65.47 L424.98 67.77 L425.18 65.50 L425.38 68.53 L425.58 68.18 L425.78 67.64 L425.98 59.27 L426.18 67.33 L426.38 64.44 L426.58 60.05 L426.78 66.80 L426.98 59.06 L427.18 67.42 L427.38 70.36 L427.58 62.14 L427.78 67.40 L427.98 65.62 L428.18 66.32 L428.38 58.77 L428.58 66.09 L428.78 64.27 L428.98 66.51 L429.18 63.71 L429.38 67.78 L429.58 64.63 L429.78 66.13 L429.98 68.71 L430.18 64.16 L430.38 67.21 L430.58 64.25 L430.78 65.34 L430.98 61.28 L431.18 66.23 L431.38 67.92 L431.58 62.86 L431.78 66.19 L431.98 64.74 L432.18 58.77 L432.38 64.36 L432.58 68.07 L432.78 61.03 L432.98 55.94 L433.18 63.62 L433.38 60.27 L433.58 70.15 L433.78 62.53 L433.98 62.63 L434.18 60.14 L434.38 63.54 L434.58 60.30 L434.78 58.92 L434.98 62.19 L435.18 59.18 L435.38 67.57 L435.58 57.67 L435.78 61.96 L435.98 59.47 L436.18 56.67 L436.38 68.76 L436.58 53.67 L436.78 67.86 L436.98 56.33 L437.18 62.31 L437.38 71.02 L437.58 53.28 L437.78 56.28 L437.98 67.09 L438.18 62.44 L438.38 59.47 L438.58 61.52 L438.78 57.68 L438.98 62.06 L439.18 67.63 L439.38 59.91 L439.58 62.01 L439.78 66.34 L439.98 69.54 L440.18 58.89 L440.38 62.51 L440.58 58.90 L440.78 58.51 L440.98 59.48 L441.18 58.47 L441.38 53.84 L441.58 52.70 L441.78 57.91 L441.98 61.48 L442.18 65.99 L442.38 58.61 L442.58 60.09 L442.78 63.54 L442.98 63.84 L443.18 60.18 L443.38 60.39 L443.58 68.54 L443.78 59.11 L443.98 58.39 L444.17 53.49 L444.37 62.25 L444.57 59.22 L444.77 68.52 L444.97 58.82 L445.17 63.72 L445.37 64.20 L445.57 67.24 L445.77 54.42 L445.97 66.81 L446.17 60.05 L446.37 59.50 L446.57 58.56 L446.77 58.15 L446.97 58.32 L447.17 49.64 L447.37 61.94 L447.57 59.95 L447.77 55.50 L447.97 59.32 L448.17 69.56 L448.37 61.16 L448.57 57.77 L448.77 66.88 L448.97 55.90 L449.17 58.66 L449.37 56.87 L449.57 58.21 L449.77 62.40 L449.97 61.70 L450.17 55.91 L450.37 58.50 L450.57 59.40 L450.77 57.19 L450.97 58.78 L451.17 55.73 L451.37 55.62 L451.57 59.01 L451.77 54.23 L451.97 60.57 L452.17 57.83 L452.37 54.58 L452.57 55.90 L452.77 56.45 L452.97 57.82 L453.17 58.99 L453.37 57.52 L453.57 54.56 L453.77 64.70 L453.97 62.33 L454.17 58.78 L454.37 62.47 L454.57 59.66 L454.77 57.03 L454.97 58.52 L455.17 69.94 L455.37 62.48 L455.57 62.66 L455.77 56.24 L455.97 60.63 L456.17 67.99 L456.37 59.80 L456.57 62.65 L456.77 63.44 L456.97 60.67 L457.17 64.80 L457.37 58.76 L457.57 59.92 L457.77 54.86 L457.97 69.46 L458.17 58.97 L458.37 58.08 L458.57 63.78 L458.77 55.33 L458.97 57.47 L459.17 53.95 L459.37 57.53 L459.57 55.66 L459.77 59.82 L459.97 56.77 L460.17 54.62 L460.37 55.96 L460.57 56.72 L460.77 54.92 L460.97 61.44 L461.17 60.21 L461.37 57.80 L461.57 51.73 L461.77 59.43 L461.97 51.27 L462.17 57.88 L462.37 57.22 L462.57 54.30 L462.77 53.18 L462.97 53.77 L463.17 66.24 L463.37 55.66 L463.57 55.90 L463.77 61.19 L463.97 58.71 L464.17 61.59 L464.37 51.14 L464.57 51.74 L464.77 71.91 L464.97 56.47 L465.17 55.31 L465.37 57.35 L465.57 61.13 L465.77 51.11 L465.97 57.84 L466.17 56.38 L466.37 59.58 L466.57 57.26 L466.77 54.00 L466.97 52.43 L467.17 45.17 L467.37 60.88 L467.57 49.57 L467.77 54.46 L467.97 63.97 L468.17 54.34 L468.37 59.07 L468.57 55.25 L468.77 59.43 L468.97 56.31 L469.17 53.80 L469.37 62.39 L469.57 54.88 L469.77 49.87 L469.97 54.54 L470.17 58.55 L470.37 50.84 L470.57 59.66 L470.77 59.54 L470.97 65.84 L471.17 52.94 L471.37 58.99 L471.57 48.10 L471.77 53.91 L471.97 56.34 L472.17 57.73 L472.37 55.55 L472.57 55.36 L472.77 52.89 L472.97 53.66 L473.17 57.16 L473.37 58.33 L473.57 58.69 L473.77 60.34 L473.97 61.23 L474.16 47.15 L474.36 53.15 L474.56 54.83 L474.76 52.53 L474.96 60.49 L475.16 59.06 L475.36 55.00 L475.56 56.07 L475.76 61.45 L475.96 53.81 L476.16 53.95 L476.36 59.72 L476.56 57.63 L476.76 62.12 L476.96 57.13 L477.16 58.91 L477.36 52.75 L477.56 50.85 L477.76 55.26 L477.96 42.65 L478.16 57.22 L478.36 59.88 L478.56 55.60 L478.76 54.17 L478.96 60.40 L479.16 54.99 L479.36 59.87 L479.56 65.66 L479.76 58.61 L479.96 59.63 L480.16 57.49 L480.36 56.31 L480.56 56.41 L480.76 55.40 L480.96 60.27 L481.16 47.29 L481.36 53.75 L481.56 58.19 L481.76 50.94 L481.96 54.49 L482.16 51.63 L482.36 57.10 L482.56 59.13 L482.76 61.97 L482.96 57.36 L483.16 51.44 L483.36 56.13 L483.56 57.65 L483.76 61.73 L483.96 44.45 L484.16 56.66 L484.36 45.96 L484.56 58.31 L484.76 56.99 L484.96 57.24 L485.16 59.11 L485.36 56.67 L485.56 51.62 L485.76 56.48 L485.96 60.62 L486.16 54.17 L486.36 54.87 L486.56 48.78 L486.76 60.40 L486.96 52.22 L487.16 51.04 L487.36 52.48 L487.56 50.43 L487.76 53.42 L487.96 60.93 L488.16 58.54 L488.36 61.65 L488.56 61.95 L488.76 50.19 L488.96 56.97 L489.16 62.00 L489.36 65.94 L489.56 47.56 L489.76 47.50 L489.96 56.87 L490.16 52.87 L490.36 49.59 L490.56 56.41 L490.76 50.59 L490.96 43.21 L491.16 54.37 L491.36 55.10 L491.56 57.64 L491.76 59.14 L491.96 55.35 L492.16 53.25 L492.36 51.09 L492.56 46.17 L492.76 52.21 L492.96 59.39 L493.16 57.65 L493.36 64.67 L493.56 53.60 L493.76 45.38 L493.96 58.50 L494.16 59.55 L494.36 48.44 L494.56 46.18 L494.76 55.07 L494.96 57.88 L495.16 48.62 L495.36 52.55 L495.56 50.33 L495.76 48.26 L495.96 47.57 L496.16 54.94 L496.36 52.33 L496.56 50.80 L496.76 40.94 L496.96 63.08 L497.16 49.37 L497.36 53.47 L497.56 48.35 L497.76 56.08 L497.96 46.43 L498.16 54.60 L498.36 53.15 L498.56 58.80 L498.76 48.48 L498.96 50.75 L499.16 52.86 L499.36 64.80 L499.56 46.48 L499.76 55.53 L499.96 50.65 L500.16 55.61 L500.36 57.37 L500.56 54.71 L500.76 55.33 L500.96 55.41 L501.16 50.92 L501.36 52.82 L501.56 45.36 L501.76 52.08 L501.96 49.92 L502.16 52.57 L502.36 57.70 L502.56 55.86 L502.76 56.31 L502.96 59.59 L503.16 41.43 L503.36 56.06 L503.56 53.69 L503.76 53.29 L503.96 46.97 L504.15 56.64 L504.35 59.76 L504.55 59.12 L504.75 53.29 L504.95 57.07 L505.15 58.54 L505.35 63.26 L505.55 60.13 L505.75 54.42 L505.95 54.16 L506.15 54.53 L506.35 54.83 L506.55 51.01 L506.75 57.68 L506.95 49.95 L507.15 49.35 L507.35 55.44 L507.55 50.52 L507.75 52.25 L507.95 42.53 L508.15 57.72 L508.35 53.47 L508.55 52.81 L508.75 55.93 L508.95 54.57 L509.15 49.72 L509.35 64.10 L509.55 51.01 L509.75 58.59 L509.95 63.15 L510.15 50.06 L510.35 53.86 L510.55 48.97 L510.75 58.95 L510.95 51.52 L511.15 47.41 L511.35 60.34 L511.55 58.19 L511.75 48.48 L511.95 59.60 L512.15 54.28 L512.35 67.82 L512.55 62.43 L512.75 50.19 L512.95 51.71 L513.15 48.41 L513.35 53.85 L513.55 53.37 L513.75 57.08 L513.95 53.55 L514.15 45.10 L514.35 48.65 L514.55 60.71 L514.75 59.29 L514.95 52.12 L515.15 52.25 L515.35 52.05 L515.55 53.08 L515.75 43.79 L515.95 57.80 L516.15 49.31 L516.35 53.69 L516.55 39.06 L516.75 54.13 L516.95 60.16 L517.15 40.57 L517.35 61.13 L517.55 55.38 L517.75 48.74 L517.95 44.04 L518.15 59.13 L518.35 54.16 L518.55 55.97 L518.75 51.19 L518.95 48.27 L519.15 57.46 L519.35 47.36 L519.55 57.60 L519.75 43.35 L519.95 47.46 L520.15 44.52 L520.35 59.81 L520.55 42.82 L520.75 46.19 L520.95 56.16 L521.15 53.75 L521.35 64.65 L521.55 62.69 L521.75 55.86 L521.95 56.25 L522.15 42.21 L522.35 47.45 L522.55 50.52 L522.75 51.34 L522.95 44.63 L523.15 47.09 L523.35 47.54 L523.55 58.21 L523.75 54.63 L523.95 50.37 L524.15 50.66 L524.35 53.82 L524.55 48.26 L524.75 50.67 L524.95 42.46 L525.15 55.88 L525.35 57.50 L525.55 54.12 L525.75 54.75 L525.95 54.10 L526.15 63.53 L526.35 53.15 L526.55 44.52 L526.75 46.05 L526.95 55.97 L527.15 57.96 L527.35 56.27 L527.55 56.64 L527.75 52.93 L527.95 43.42 L528.15 47.81 L528.35 41.54 L528.55 49.59 L528.75 44.03 L528.95 52.30 L529.15 50.76 L529.35 40.62 L529.55 55.86 L529.75 56.00 L529.95 43.72 L530.15 52.45 L530.35 55.70 L530.55 49.92 L530.75 56.46 L530.95 52.62 L531.15 57.66 L531.35 52.56 L531.55 50.53 L531.75 54.38 L531.95 55.93 L532.15 52.84 L532.35 48.80 L532.55 46.82 L532.75 49.19 L532.95 48.02 L533.15 52.48 L533.35 52.25 L533.55 50.76 L533.75 51.22 L533.95 52.20 L534.14 60.25 L534.34 58.13 L534.54 47.80 L534.74 53.57 L534.94 49.19 L535.14 50.51 L535.34 49.64 L535.54 47.41 L535.74 43.10 L535.94 36.67 L536.14 52.14 L536.34 57.84 L536.54 45.65 L536.74 53.86 L536.94 48.63 L537.14 52.50 L537.34 46.13 L537.54 49.47 L537.74 50.15 L537.94 36.86 L538.14 52.02 L538.34 49.93 L538.54 36.16 L538.74 54.50 L538.94 50.47 L539.14 51.85 L539.34 52.75 L539.54 48.15 L539.74 44.25 L539.94 47.94 L540.14 48.02 L540.34 63.62 L540.54 61.38 L540.74 47.59 L540.94 48.01 L541.14 52.34 L541.34 53.75 L541.54 46.28 L541.74 44.43 L541.94 61.82 L542.14 56.59 L542.34 41.07 L542.54 39.78 L542.74 45.34 L542.94 51.55 L543.14 53.48 L543.34 48.16 L543.54 40.53 L543.74 51.46 L543.94 53.73 L544.14 50.10 L544.34 47.12 L544.54 53.51 L544.74 49.70 L544.94 43.30 L545.14 50.57 L545.34 42.20 L545.54 55.75 L545.74 52.76 L545.94 43.92 L546.14 51.18 L546.34 57.42 L546.54 36.92 L546.74 49.00 L546.94 59.77 L547.14 40.41 L547.34 48.77 L547.54 41.13 L547.74 49.33 L547.94 35.15 L548.14 39.85 L548.34 46.42 L548.54 50.51 L548.74 51.95 L548.94 52.22 L549.14 56.61 L549.34 53.85 L549.54 54.08 L549.74 43.57 L549.94 48.58 L550.14 69.00 L550.34 63.38 L550.54 54.56 L550.74 54.00 L550.94 55.51 L551.14 46.94 L551.34 61.46 L551.54 47.07 L551.74 48.86 L551.94 62.77 L552.14 36.49 L552.34 51.55 L552.54 38.64 L552.74 45.23 L552.94 48.69 L553.14 47.06 L553.34 50.30 L553.54 44.44 L553.74 48.54 L553.94 41.79 L554.14 46.74 L554.34 40.49 L554.54 53.20 L554.74 41.02 L554.94 53.40 L555.14 46.47 L555.34 47.14 L555.54 56.41 L555.74 49.68 L555.94 37.11 L556.14 52.10 L556.34 30.74 L556.54 50.61 L556.74 46.40 L556.94 40.10 L557.14 49.38 L557.34 46.92 L557.54 61.50 L557.74 46.06 L557.94 61.08 L558.14 57.54 L558.34 44.92 L558.54 43.60 L558.74 57.11 L558.94 47.87 L559.14 49.73 L559.34 47.08 L559.54 40.99 L559.74 46.29 L559.94 42.54 L560.14 38.88 L560.34 46.74 L560.54 59.98 L560.74 58.90 L560.94 48.17 L561.14 49.41 L561.34 51.81 L561.54 57.22 L561.74 50.54 L561.94 45.42 L562.14 45.95 L562.34 55.73 L562.54 65.16 L562.74 44.39 L562.94 35.20 L563.14 53.60 L563.34 47.87 L563.54 49.25 L563.74 56.32 L563.94 48.76 L564.13 39.74 L564.33 35.60 L564.53 47.97 L564.73 40.76 L564.93 50.12 L565.13 39.97 L565.33 45.92 L565.53 38.65 L565.73 45.82 L565.93 45.26 L566.13 52.02 L566.33 56.87 L566.53 46.92 L566.73 42.49 L566.93 60.84 L567.13 50.44 L567.33 52.05 L567.53 52.02 L567.73 57.54 L567.93 54.62 L568.13 52.44 L568.33 53.01 L568.53 42.35 L568.73 43.97 L568.93 47.24 L569.13 48.54 L569.33 48.04 L569.53 49.93 L569.73 48.06 L569.93 45.06 L570.13 37.17 L570.33 53.34 L570.53 51.70 L570.73 42.02 L570.93 51.08 L571.13 50.38 L571.33 48.24 L571.53 35.60 L571.73 39.77 L571.93 43.75 L572.13 58.38 L572.33 42.01 L572.53 45.38 L572.73 40.30 L572.93 44.38 L573.13 49.90 L573.33 33.85 L573.53 28.76 L573.73 51.98 L573.93 47.80 L574.13 43.53 L574.33 53.98 L574.53 53.98 L574.73 33.54 L574.93 46.37 L575.13 54.87 L575.33 42.99 L575.53 45.35 L575.73 53.80 L575.93 45.62 L576.13 39.39 L576.33 42.79 L576.53 38.49 L576.73 51.06 L576.93 35.78 L577.13 54.04 L577.33 36.26 L577.53 47.59 L577.73 37.42 L577.93 45.13 L578.13 54.12 L578.33 54.78 L578.53 56.00 L578.73 46.60 L578.93 47.91 L579.13 48.74 L579.33 51.31 L579.53 44.44 L579.73 54.56 L579.93 49.31 L580.13 54.83 L580.33 50.31 L580.53 51.65 L580.73 42.10 L580.93 44.21 L581.13 38.26 L581.33 44.99 L581.53 45.79 L581.73 52.65 L581.93 38.40 L582.13 68.94 L582.33 46.10 L582.53 55.48 L582.73 53.98 L582.93 29.70 L583.13 45.08 L583.33 56.90 L583.53 30.28 L583.73 52.07 L583.93 40.55 L584.13 43.60 L584.33 48.30 L584.53 33.99 L584.73 48.08 L584.93 42.30 L585.13 41.57 L585.33 51.50 L585.53 70.74 L585.73 49.02 L585.93 50.45 L586.13 46.28 L586.33 41.64 L586.53 48.37 L586.73 57.03 L586.93 47.87 L587.13 52.68 L587.33 44.97 L587.53 63.90 L587.73 35.12 L587.93 50.52 L588.13 50.20 L588.33 48.28 L588.53 38.71 L588.73 38.54 L588.93 44.76 L589.13 47.06 L589.33 37.95 L589.53 38.95 L589.73 50.20 L589.93 53.46 L590.13 42.39 L590.33 41.41 L590.53 41.19 L590.73 63.46 L590.93 49.62 L591.13 45.74 L591.33 53.18 L591.53 62.16 L591.73 54.31 L591.93 36.16 L592.13 45.51 L592.33 43.26 L592.53 43.67 L592.73 37.54 L592.93 43.29 L593.13 38.42 L593.33 48.37 L593.53 46.29 L593.73 36.04 L593.93 33.96 L594.12 42.56 L594.32 50.48 L594.52 49.37 L594.72 45.41 L594.92 22.59 L595.12 42.35 L595.32 40.60 L595.52 43.44 L595.72 37.18 L595.92 42.71 L596.12 41.05 L596.32 64.93 L596.52 50.70 L596.72 44.33 L596.92 45.34 L597.12 44.83 L597.32 46.99 L597.52 42.76 L597.72 45.49 L597.92 52.89 L598.12 51.49 L598.32 47.76 L598.52 55.03 L598.72 47.13 L598.92 38.53 L599.12 33.05 L599.32 40.52 L599.52 45.02 L599.72 48.29 L599.92 53.12 L600.12 41.31 L600.32 39.64 L600.52 50.90 L600.72 53.79 L600.92 41.93 L601.12 47.75 L601.32 55.17 L601.52 47.59 L601.72 44.88 L601.92 30.34 L602.12 54.76 L602.32 49.85 L602.52 46.11 L602.72 41.85 L602.92 36.20 L603.12 44.44 L603.32 44.37 L603.52 53.03 L603.72 36.36 L603.92 55.48 L604.12 45.32 L604.32 53.62 L604.52 38.02 L604.72 47.52 L604.92 53.82 L605.12 45.80 L605.32 34.32 L605.52 42.55 L605.72 48.80 L605.92 34.76 L606.12 34.41 L606.32 46.57 L606.52 37.95 L606.72 49.77 L606.92 36.27 L607.12 31.44 L607.32 39.13 L607.52 55.61 L607.72 38.45 L607.92 44.68 L608.12 46.50 L608.32 37.76 L608.52 52.62 L608.72 45.94 L608.92 47.88 L609.12 32.32 L609.32 31.80 L609.52 24.43 L609.72 43.17 L609.92 42.86 L610.12 49.81 L610.32 55.38 L610.52 42.62 L610.72 42.49 L610.92 47.75 L611.12 55.65 L611.32 38.36 L611.52 48.99 L611.72 42.56 L611.92 41.89 L612.12 50.33 L612.32 38.50 L612.52 36.43 L612.72 49.18 L612.92 44.07 L613.12 42.30 L613.32 43.24 L613.52 47.87 L613.72 41.45 L613.92 49.82 L614.12 47.21 L614.32 55.09 L614.52 53.47 L614.72 50.43 L614.92 42.57 L615.12 44.93 L615.32 39.64 L615.52 65.16 L615.72 42.35 L615.92 48.10 L616.12 54.05 L616.32 33.81 L616.52 37.78 L616.72 40.96 L616.92 36.48 L617.12 34.42 L617.32 39.99 L617.52 53.46 L617.72 49.21 L617.92 44.05 L618.12 43.98 L618.32 31.35 L618.52 48.93 L618.72 46.90 L618.92 35.60 L619.12 45.22 L619.32 42.21 L619.52 39.75 L619.72 36.20 L619.92 38.53 L620.12 36.50 L620.32 47.02 L620.52 46.28 L620.72 45.93 L620.92 42.12 L621.12 40.41 L621.32 58.82 L621.52 29.42 L621.72 52.42 L621.92 46.06 L622.12 43.89 L622.32 39.51 L622.52 41.68 L622.72 34.35 L622.92 32.81 L623.12 42.42 L623.32 30.72 L623.52 49.58 L623.72 51.64 L623.92 17.13 L624.11 31.40 L624.31 45.20 L624.51 44.73 L624.71 43.95 L624.91 46.28 L625.11 48.73 L625.31 49.62 L625.51 56.63 L625.71 43.20 L625.91 49.55 L626.11 30.60 L626.31 41.94 L626.51 33.62 L626.71 53.52 L626.91 60.69 L627.11 46.99 L627.31 32.90 L627.51 41.95 L627.71 43.02 L627.91 44.29 L628.11 51.08 L628.31 50.03 L628.51 22.41 L628.71 53.16 L628.91 38.86 L629.11 38.35 L629.31 53.50 L629.51 40.55 L629.71 32.04 L629.91 32.36 L630.11 42.97 L630.31 49.49 L630.51 54.04 L630.71 41.15 L630.91 38.83 L631.11 54.94 L631.31 38.86 L631.51 53.63 L631.71 44.16 L631.91 44.16 L632.11 40.48 L632.31 44.58 L632.51 38.66 L632.71 36.97 L632.91 41.16 L633.11 37.14 L633.31 44.52 L633.51 42.80 L633.71 40.08 L633.91 40.54 L634.11 40.29 L634.31 55.56 L634.51 41.94 L634.71 37.37 L634.91 39.66 L635.11 47.10 L635.31 40.35 L635.51 40.72 L635.71 39.87 L635.91 43.13 L636.11 44.87 L636.31 45.26 L636.51 28.98 L636.71 33.39 L636.91 21.14 L637.11 47.96 L637.31 50.34 L637.51 51.82 L637.71 42.73 L637.91 50.60 L638.11 41.26 L638.31 40.58 L638.51 29.40 L638.71 35.33 L638.91 36.80 L639.11 48.65 L639.31 54.46 L639.51 37.68 L639.71 44.28 L639.91 43.50 L640.11 35.19 L640.31 27.68 L640.51 35.30 L640.71 29.86 L640.91 38.69 L641.11 40.04 L641.31 39.70 L641.51 39.77 L641.71 44.90 L641.91 33.67 L642.11 48.05 L642.31 27.73 L642.51 41.45 L642.71 44.01 L642.91 34.62 L643.11 28.21 L643.31 45.92 L643.51 35.46 L643.71 47.00 L643.91 46.87 L644.11 40.68 L644.31 40.68 L644.51 48.54 L644.71 43.64 L644.91 33.17 L645.11 41.92 L645.31 44.97 L645.51 42.14 L645.71 42.01 L645.91 39.29 L646.11 39.49 L646.31 32.93 L646.51 28.93 L646.71 49.35 L646.91 35.22 L647.11 42.07 L647.31 28.24 L647.51 41.50 L647.71 33.57 L647.91 63.97 L648.11 31.97 L648.31 32.36 L648.51 47.65 L648.71 49.18 L648.91 23.09 L649.11 42.03 L649.31 47.02 L649.51 30.08 L649.71 45.39 L649.91 35.61 L650.11 31.79 L650.31 36.97 L650.51 36.04 L650.71 28.52 L650.91 57.75 L651.11 35.99 L651.31 33.61 L651.51 46.51 L651.71 38.99 L651.91 50.33 L652.11 37.35 L652.31 42.32 L652.51 40.20 L652.71 40.76 L652.91 37.69 L653.11 38.50 L653.31 52.91 L653.51 33.76 L653.71 34.82 L653.91 36.43 L654.10 43.82 L654.30 42.41 L654.50 46.72 L654.70 28.19 L654.90 41.16 L655.10 37.59 L655.30 36.66 L655.50 40.29 L655.70 22.87 L655.90 41.12 L656.10 40.03 L656.30 27.16 L656.50 38.01 L656.70 51.41 L656.90 35.55 L657.10 43.54 L657.30 36.81 L657.50 31.98 L657.70 31.05 L657.90 35.30 L658.10 49.17 L658.30 45.18 L658.50 32.66 L658.70 46.61 L658.90 37.33 L659.10 32.67 L659.30 41.85 L659.50 30.79 L659.70 25.34 L659.90 48.86 L660.10 23.14 L660.30 42.60 L660.50 25.55 L660.70 37.83 L660.90 36.41 L661.10 34.38 L661.30 19.94 L661.50 37.04 L661.70 37.60 L661.90 30.46 L662.10 37.27 L662.30 46.01 L662.50 31.83 L662.70 39.86 L662.90 28.18 L663.10 40.83 L663.30 42.92 L663.50 58.14 L663.70 45.06 L663.90 41.11 L664.10 49.17 L664.30 29.21 L664.50 46.32 L664.70 32.87 L664.90 32.21 L665.10 46.42 L665.30 39.23 L665.50 48.27 L665.70 25.17 L665.90 39.45 L666.10 32.77 L666.30 34.87 L666.50 21.20 L666.70 44.86 L666.90 38.77 L667.10 28.76 L667.30 25.72 L667.50 29.66 L667.70 48.54 L667.90 36.01 L668.10 34.02 L668.30 40.90 L668.50 36.84 L668.70 38.65 L668.90 42.90" stroke="#d62728"/>
<path d="M69.30 256.94 L73.95 255.78 L78.60 253.27 L83.24 251.83 L87.89 249.85 L92.54 249.55 L97.19 249.54 L101.84 243.37 L106.48 239.72 L111.13 237.23 L115.78 234.04 L120.43 231.14 L125.08 228.83 L129.72 225.65 L134.37 221.80 L139.02 218.74 L143.67 215.07 L148.32 212.18 L152.97 209.56 L157.61 206.12 L162.26 202.41 L166.91 198.68 L171.56 194.45 L176.21 191.92 L180.85 188.63 L185.50 185.69 L190.15 183.03 L194.80 179.09 L199.45 176.35 L204.09 172.30 L208.74 170.62 L213.39 167.57 L218.04 164.96 L222.69 161.65 L227.33 158.52 L231.98 156.05 L236.63 151.93 L241.28 149.78 L245.93 147.22 L250.57 143.45 L255.22 140.59 L259.87 138.91 L264.52 136.25 L269.17 134.07 L273.81 131.76 L278.46 128.82 L283.11 127.59 L287.76 126.47 L292.41 124.11 L297.06 122.53 L301.70 120.06 L306.35 118.71 L311.00 116.62 L315.65 111.87 L320.30 110.85 L324.94 109.00 L329.59 106.32 L334.24 104.78 L338.89 102.72 L343.54 101.24 L348.18 100.26 L352.83 99.02 L357.48 97.17 L362.13 96.28 L366.78 94.54 L371.42 92.32 L376.07 92.97 L380.72 91.47 L385.37 88.61 L390.02 88.93 L394.66 86.46 L399.31 84.89 L403.96 85.19 L408.61 80.75 L413.26 80.54 L417.90 81.51 L422.55 79.80 L427.20 78.28 L431.85 79.42 L436.50 77.64 L441.14 75.18 L445.79 74.73 L450.44 75.07 L455.09 75.02 L459.74 70.67 L464.39 72.12 L469.03 70.87 L473.68 68.92 L478.33 70.02 L482.98 68.04 L487.63 68.69 L492.27 70.65 L496.92 69.17 L501.57 69.44 L506.22 69.24 L510.87 68.97 L515.51 69.74 L520.16 66.18 L524.81 63.12 L529.46 63.41 L534.11 60.58 L538.75 60.52 L543.40 62.57 L548.05 62.90 L552.70 59.64 L557.35 59.19 L561.99 61.20 L566.64 60.55 L571.29 58.78 L575.94 60.51 L580.59 60.06 L585.23 58.83 L589.88 63.47 L594.53 60.36 L599.18 59.12 L603.83 59.32 L608.48 62.82 L613.12 59.17 L617.77 55.55 L622.42 57.42 L627.07 56.81 L631.72 55.40 L636.36 56.92 L641.01 56.78 L645.66 56.03 L650.31 55.01 L654.96 57.63 L659.60 52.42 L664.25 57.43 L668.90 55.59" stroke="#9467bd"/>
</g>
<g stroke="#000" stroke-width="1.74" fill="none">
<rect x="69.3" y="4.25" width="599.6" height="439.1" stroke-linejoin="miter"/>
<line x1="59.2" x2="69.3" y1="443.35" y2="443.35"/>
<line x1="59.2" x2="69.3" y1="357.15" y2="357.15"/>
<line x1="59.2" x2="69.3" y1="270.95" y2="270.95"/>
<line x1="59.2" x2="69.3" y1="184.75" y2="184.75"/>
<line x1="59.2" x2="69.3" y1="98.55" y2="98.55"/>
<line x1="59.2" x2="69.3" y1="12.35" y2="12.35"/>
<line x1="69.30" x2="69.30" y1="443.35" y2="453.6"/>
<line x1="219.20" x2="219.20" y1="443.35" y2="453.6"/>
<line x1="369.10" x2="369.10" y1="443.35" y2="453.6"/>
<line x1="519.00" x2="519.00" y1="443.35" y2="453.6"/>
<line x1="668.90" x2="668.90" y1="443.35" y2="453.6"/>
</g>
<text transform="translate(27.17,449.68) scale(1.0425,0.9980)" font-size="17.5">0.0</text>
<text transform="translate(27.16,363.48) scale(1.0505,0.9980)" font-size="17.5">0.2</text>
<text transform="translate(27.18,277.28) scale(1.0346,0.9980)" font-size="17.5">0.4</text>
<text transform="translate(27.16,191.08) scale(1.0505,0.9980)" font-size="17.5">0.6</text>
<text transform="translate(27.16,104.88) scale(1.0505,0.9980)" font-size="17.5">0.8</text>
<text transform="translate(26.99,19.18) scale(1.0799,0.9980)" font-size="17.5">1.0</text>
<text transform="translate(55.89,473.03) scale(1.0800,0.9899)" font-size="17.5">10</text>
<text transform="translate(76.76,466.80) scale(1.0419,0.9971)" font-size="12.5">1</text>
<text transform="translate(205.79,473.03) scale(1.0800,0.9899)" font-size="17.5">10</text>
<text transform="translate(226.66,466.80) scale(1.0419,0.9971)" font-size="12.5">2</text>
<text transform="translate(355.69,473.03) scale(1.0800,0.9899)" font-size="17.5">10</text>
<text transform="translate(376.56,466.80) scale(1.0419,0.9971)" font-size="12.5">3</text>
<text transform="translate(505.59,473.03) scale(1.0800,0.9899)" font-size="17.5">10</text>
<text transform="translate(526.46,466.80) scale(1.0419,0.9971)" font-size="12.5">4</text>
<text transform="translate(655.49,473.03) scale(1.0800,0.9899)" font-size="17.5">10</text>
<text transform="translate(676.36,466.80) scale(1.0419,0.9971)" font-size="12.5">5</text>
<text transform="translate(336.79,499.50) scale(0.8677,0.9938)" font-size="17.5">E</text>
<text transform="translate(351.86,498.25) scale(0.7714,0.9401)" font-size="17.5">[</text>
<text transform="translate(358.44,499.43) scale(1.0399,0.9878)" font-size="17.5" style="font-style:italic">meV</text>
<text transform="translate(398.14,498.25) scale(0.9143,0.9401)" font-size="17.5">]</text>
<text transform="translate(16.60,278.08) rotate(-90) scale(1.0788,1.0476)" font-size="17.5">transmission</text>
</svg>
</body></html>
